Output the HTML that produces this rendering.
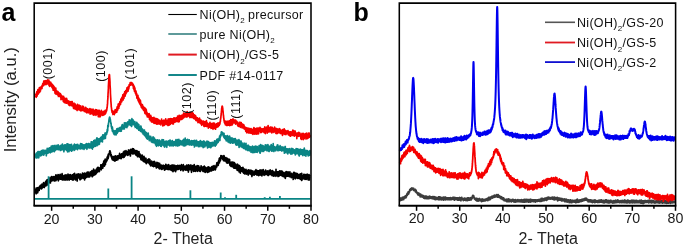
<!DOCTYPE html>
<html><head><meta charset="utf-8"><style>
html,body{margin:0;padding:0;background:#fff;}
body{width:685px;height:247px;overflow:hidden;}
svg{display:block;will-change:transform;font-family:"Liberation Sans",sans-serif;}
</style></head><body>
<svg width="685" height="247" viewBox="0 0 685 247">
<rect width="685" height="247" fill="#fff"/>
<polyline fill="none" stroke="#000" stroke-width="1.7" stroke-linejoin="round" points="35.4,189.3 35.5,192.9 35.6,190.0 35.6,190.7 35.7,190.9 35.8,190.0 35.9,189.1 36.0,191.8 36.0,191.3 36.1,188.2 36.2,193.8 36.3,192.0 36.4,189.6 36.4,191.8 36.5,189.9 36.6,190.4 36.7,191.5 36.8,188.7 36.8,191.1 36.9,192.1 37.0,192.0 37.1,189.7 37.2,191.3 37.2,187.9 37.3,189.8 37.4,190.5 37.5,188.1 37.6,189.7 37.6,192.0 37.7,192.8 37.8,190.7 37.9,190.7 38.0,188.3 38.0,187.9 38.1,187.6 38.2,190.1 38.3,190.3 38.4,188.4 38.4,187.6 38.5,189.5 38.6,189.5 38.7,188.8 38.8,190.6 38.8,188.8 38.9,188.7 39.0,187.3 39.1,188.9 39.2,190.4 39.2,188.7 39.3,188.6 39.4,189.0 39.5,188.8 39.6,189.0 39.6,189.0 39.7,189.0 39.8,187.1 39.9,188.5 40.0,185.9 40.0,188.3 40.1,186.2 40.2,187.7 40.3,188.4 40.4,187.2 40.4,187.8 40.5,185.4 40.6,186.4 40.7,188.4 40.8,185.9 40.8,188.2 40.9,185.4 41.0,186.0 41.1,185.7 41.2,187.1 41.2,187.7 41.3,185.6 41.4,186.7 41.5,189.0 41.6,186.4 41.6,185.7 41.7,187.2 41.8,186.3 41.9,185.6 42.0,184.1 42.0,187.6 42.1,185.6 42.2,186.4 42.3,184.9 42.4,188.0 42.4,187.2 42.5,187.4 42.6,185.9 42.7,186.6 42.8,187.2 42.8,187.3 42.9,186.3 43.0,185.7 43.1,185.3 43.2,184.7 43.2,184.3 43.3,186.1 43.4,185.2 43.5,182.8 43.6,185.2 43.6,186.8 43.7,184.9 43.8,182.7 43.9,185.0 44.0,186.2 44.0,185.3 44.1,184.4 44.2,187.4 44.3,187.5 44.4,184.7 44.4,185.9 44.5,185.3 44.6,185.7 44.7,186.6 44.8,185.7 44.8,184.6 44.9,183.6 45.0,183.3 45.1,184.3 45.2,185.8 45.2,184.6 45.3,184.2 45.4,184.5 45.5,184.1 45.6,184.7 45.6,182.5 45.7,181.3 45.8,183.3 45.9,182.2 46.0,185.8 46.0,183.4 46.1,183.3 46.2,181.5 46.3,183.8 46.4,182.6 46.4,184.8 46.5,184.4 46.6,182.2 46.7,183.7 46.8,180.1 46.8,182.1 46.9,184.6 47.0,183.9 47.1,183.1 47.2,182.7 47.2,180.8 47.3,180.8 47.4,182.9 47.5,184.9 47.6,179.5 47.6,183.2 47.7,183.1 47.8,183.5 47.9,181.0 48.0,181.4 48.0,182.1 48.1,180.6 48.2,180.3 48.3,180.7 48.4,181.7 48.4,182.2 48.5,181.6 48.6,181.7 48.7,180.6 48.8,180.5 48.8,182.9 48.9,181.3 49.0,181.2 49.1,182.4 49.2,182.8 49.2,182.7 49.3,181.5 49.4,180.9 49.5,181.3 49.6,181.1 49.6,182.6 49.7,181.1 49.8,181.5 49.9,180.6 50.0,182.3 50.0,177.8 50.1,180.9 50.2,181.3 50.3,178.8 50.4,183.0 50.4,180.0 50.5,179.9 50.6,178.6 50.7,181.1 50.8,180.2 50.8,179.1 50.9,180.1 51.0,180.6 51.1,181.2 51.2,179.9 51.2,178.3 51.3,178.8 51.4,176.6 51.5,178.5 51.6,180.2 51.6,179.8 51.7,179.1 51.8,178.8 51.9,181.0 52.0,179.4 52.0,180.1 52.1,179.4 52.2,178.2 52.3,180.7 52.4,177.4 52.4,177.4 52.5,178.3 52.6,177.9 52.7,178.0 52.8,177.9 52.8,180.0 52.9,178.7 53.0,179.1 53.1,176.5 53.2,177.4 53.2,179.9 53.3,176.9 53.4,180.0 53.5,177.1 53.6,178.8 53.6,177.3 53.7,178.6 53.8,177.1 53.9,178.0 54.0,180.5 54.0,177.7 54.1,180.9 54.2,177.6 54.3,176.6 54.4,178.2 54.4,177.6 54.5,180.4 54.6,179.2 54.7,179.6 54.8,178.4 54.8,181.0 54.9,179.0 55.0,178.7 55.1,176.9 55.2,176.7 55.2,178.1 55.3,179.2 55.4,179.3 55.5,176.6 55.6,178.5 55.6,178.1 55.7,176.3 55.8,178.4 55.9,174.8 56.0,178.1 56.0,180.7 56.1,176.4 56.2,177.7 56.3,175.2 56.4,176.7 56.4,178.6 56.5,176.3 56.6,177.6 56.7,177.2 56.8,177.1 56.8,177.9 56.9,178.2 57.0,179.2 57.1,178.7 57.2,176.8 57.2,179.5 57.3,179.2 57.4,175.5 57.5,178.4 57.6,178.7 57.6,178.8 57.7,178.3 57.8,175.8 57.9,177.2 58.0,174.7 58.0,177.3 58.1,180.2 58.2,178.4 58.3,178.6 58.4,176.8 58.4,180.8 58.5,176.0 58.6,180.2 58.7,176.4 58.8,176.6 58.8,179.0 58.9,175.2 59.0,175.7 59.1,176.7 59.2,177.3 59.2,177.2 59.3,175.5 59.4,177.7 59.5,177.2 59.6,177.9 59.6,175.9 59.7,177.7 59.8,177.7 59.9,176.5 60.0,177.1 60.0,176.9 60.1,179.2 60.2,174.3 60.3,175.4 60.4,175.1 60.4,176.8 60.5,176.4 60.6,176.8 60.7,178.3 60.8,175.1 60.8,176.2 60.9,177.0 61.0,175.7 61.1,177.8 61.2,177.8 61.2,176.4 61.3,174.9 61.4,179.5 61.5,177.9 61.6,177.9 61.6,177.4 61.7,177.3 61.8,178.4 61.9,177.3 62.0,176.4 62.0,178.2 62.1,173.7 62.2,176.2 62.3,175.1 62.4,178.8 62.4,178.1 62.5,179.9 62.6,176.5 62.7,176.3 62.8,177.3 62.8,179.1 62.9,178.0 63.0,177.8 63.1,179.8 63.2,176.2 63.2,175.6 63.3,176.2 63.4,176.8 63.5,177.7 63.6,178.6 63.6,177.8 63.7,179.3 63.8,176.1 63.9,179.8 64.0,176.1 64.0,178.8 64.1,175.9 64.2,177.7 64.3,177.3 64.4,177.9 64.4,178.2 64.5,176.9 64.6,177.1 64.7,177.5 64.8,178.1 64.8,176.2 64.9,175.0 65.0,177.2 65.1,180.2 65.2,178.2 65.2,176.0 65.3,176.2 65.4,178.5 65.5,176.5 65.6,175.0 65.6,175.8 65.7,175.7 65.8,175.8 65.9,178.1 66.0,177.3 66.0,175.2 66.1,176.4 66.2,175.6 66.3,175.5 66.4,175.1 66.4,179.5 66.5,176.7 66.6,177.9 66.7,178.3 66.8,176.6 66.8,177.9 66.9,177.9 67.0,177.4 67.1,180.1 67.2,177.5 67.2,176.8 67.3,178.0 67.4,179.5 67.5,178.5 67.6,176.5 67.6,176.0 67.7,175.9 67.8,178.0 67.9,177.6 68.0,178.3 68.0,174.1 68.1,177.1 68.2,175.6 68.3,178.0 68.4,178.4 68.4,176.1 68.5,176.5 68.6,175.8 68.7,179.3 68.8,174.9 68.8,175.6 68.9,176.2 69.0,178.8 69.1,180.2 69.2,177.1 69.2,175.4 69.3,177.2 69.4,175.9 69.5,177.7 69.6,175.6 69.6,176.6 69.7,177.1 69.8,177.8 69.9,177.0 70.0,178.8 70.0,177.3 70.1,174.6 70.2,178.3 70.3,176.7 70.4,176.2 70.4,179.1 70.5,175.7 70.6,177.2 70.7,176.1 70.8,178.9 70.8,176.6 70.9,177.4 71.0,175.2 71.1,179.0 71.2,175.6 71.2,178.3 71.3,178.6 71.4,178.7 71.5,179.5 71.6,175.5 71.6,177.6 71.7,177.3 71.8,177.6 71.9,178.5 72.0,177.2 72.0,176.0 72.1,176.9 72.2,179.1 72.3,175.5 72.4,177.2 72.4,175.7 72.5,178.5 72.6,174.8 72.7,176.6 72.8,176.9 72.8,177.2 72.9,180.1 73.0,179.1 73.1,175.7 73.2,179.9 73.2,175.4 73.3,174.5 73.4,175.0 73.5,177.3 73.6,177.7 73.6,174.0 73.7,177.6 73.8,176.7 73.9,178.0 74.0,176.5 74.0,178.2 74.1,177.8 74.2,175.4 74.3,179.0 74.4,177.3 74.4,178.0 74.5,178.7 74.6,173.3 74.7,176.9 74.8,175.9 74.8,175.7 74.9,177.3 75.0,177.4 75.1,178.8 75.2,178.8 75.2,176.9 75.3,175.8 75.4,180.0 75.5,179.8 75.6,176.8 75.6,175.7 75.7,176.4 75.8,177.3 75.9,178.5 76.0,178.2 76.0,177.5 76.1,179.4 76.2,177.1 76.3,176.5 76.4,177.0 76.4,176.8 76.5,177.6 76.6,174.4 76.7,176.4 76.8,176.5 76.8,175.4 76.9,176.6 77.0,175.5 77.1,176.0 77.2,180.9 77.2,176.5 77.3,176.1 77.4,178.3 77.5,177.1 77.6,177.3 77.6,177.1 77.7,175.9 77.8,175.6 77.9,177.9 78.0,176.3 78.0,174.4 78.1,173.8 78.2,177.1 78.3,175.8 78.4,176.7 78.4,176.0 78.5,176.2 78.6,176.5 78.7,175.1 78.8,176.7 78.8,178.0 78.9,177.6 79.0,174.4 79.1,174.9 79.2,174.9 79.2,176.4 79.3,177.8 79.4,177.1 79.5,174.3 79.6,176.7 79.6,177.7 79.7,176.0 79.8,179.2 79.9,175.7 80.0,178.2 80.0,179.7 80.1,174.9 80.2,176.1 80.3,177.3 80.4,179.7 80.4,174.2 80.5,177.3 80.6,176.9 80.7,176.0 80.8,175.4 80.8,175.8 80.9,176.1 81.0,174.8 81.1,178.6 81.2,175.0 81.2,175.9 81.3,175.6 81.4,175.9 81.5,176.6 81.6,175.4 81.6,176.1 81.7,178.7 81.8,177.8 81.9,176.0 82.0,177.6 82.0,175.3 82.1,176.7 82.2,174.4 82.3,174.8 82.4,175.2 82.4,178.0 82.5,173.0 82.6,177.0 82.7,176.5 82.8,176.8 82.8,176.8 82.9,177.3 83.0,176.5 83.1,175.0 83.2,175.1 83.2,177.8 83.3,178.1 83.4,174.3 83.5,174.0 83.6,178.3 83.6,176.6 83.7,176.0 83.8,176.1 83.9,175.6 84.0,178.5 84.0,178.3 84.1,174.6 84.2,175.8 84.3,176.5 84.4,178.1 84.4,173.0 84.5,177.2 84.6,180.0 84.7,175.5 84.8,175.9 84.8,177.6 84.9,176.4 85.0,174.2 85.1,174.4 85.2,174.5 85.2,174.0 85.3,175.8 85.4,175.2 85.5,175.9 85.6,177.6 85.6,178.1 85.7,176.1 85.8,173.3 85.9,177.6 86.0,175.6 86.0,177.2 86.1,175.1 86.2,176.1 86.3,175.5 86.4,175.6 86.4,177.3 86.5,174.7 86.6,175.8 86.7,175.8 86.8,175.5 86.8,176.7 86.9,175.9 87.0,172.4 87.1,173.4 87.2,174.8 87.2,175.9 87.3,176.5 87.4,176.4 87.5,176.1 87.6,174.8 87.6,176.9 87.7,174.9 87.8,176.7 87.9,172.2 88.0,173.9 88.0,174.4 88.1,175.1 88.2,172.0 88.3,176.1 88.4,176.3 88.4,176.1 88.5,174.3 88.6,176.9 88.7,174.2 88.8,176.1 88.8,174.8 88.9,174.8 89.0,174.6 89.1,174.8 89.2,176.3 89.2,176.7 89.3,176.6 89.4,175.9 89.5,175.6 89.6,175.2 89.6,177.0 89.7,174.0 89.8,173.7 89.9,174.6 90.0,172.2 90.0,174.1 90.1,174.4 90.2,173.0 90.3,173.6 90.4,175.3 90.4,174.0 90.5,174.4 90.6,175.7 90.7,173.4 90.8,172.7 90.8,174.1 90.9,174.7 91.0,171.7 91.1,175.0 91.2,173.7 91.2,173.5 91.3,172.9 91.4,173.7 91.5,175.2 91.6,174.6 91.6,175.0 91.7,173.4 91.8,176.0 91.9,175.5 92.0,173.8 92.0,170.7 92.1,173.8 92.2,176.8 92.3,173.6 92.4,172.3 92.4,175.9 92.5,172.8 92.6,174.2 92.7,174.5 92.8,171.5 92.8,173.6 92.9,175.0 93.0,172.9 93.1,171.5 93.2,173.3 93.2,174.6 93.3,175.7 93.4,171.8 93.5,172.8 93.6,173.6 93.6,169.2 93.7,172.0 93.8,172.6 93.9,172.6 94.0,172.1 94.0,173.3 94.1,173.9 94.2,173.8 94.3,173.7 94.4,174.3 94.4,170.9 94.5,172.5 94.6,172.9 94.7,173.3 94.8,170.4 94.8,174.9 94.9,171.3 95.0,172.7 95.1,173.3 95.2,173.7 95.2,171.4 95.3,171.5 95.4,172.6 95.5,172.9 95.6,173.2 95.6,171.9 95.7,171.1 95.8,170.2 95.9,174.1 96.0,170.1 96.0,172.6 96.1,172.0 96.2,172.6 96.3,172.8 96.4,173.2 96.4,171.4 96.5,171.9 96.6,168.8 96.7,171.3 96.8,170.1 96.8,171.0 96.9,172.7 97.0,171.2 97.1,172.4 97.2,170.6 97.2,171.4 97.3,170.2 97.4,167.7 97.5,169.7 97.6,170.2 97.6,170.7 97.7,170.4 97.8,170.2 97.9,171.5 98.0,171.0 98.0,169.6 98.1,171.2 98.2,167.4 98.3,169.6 98.4,169.7 98.4,171.5 98.5,169.0 98.6,167.7 98.7,169.8 98.8,171.7 98.8,169.1 98.9,169.2 99.0,169.0 99.1,169.3 99.2,170.8 99.2,171.6 99.3,169.6 99.4,168.7 99.5,171.2 99.6,168.8 99.6,168.7 99.7,168.1 99.8,168.1 99.9,168.7 100.0,167.9 100.0,168.8 100.1,168.3 100.2,168.8 100.3,167.5 100.4,167.6 100.4,168.2 100.5,167.8 100.6,167.8 100.7,169.1 100.8,166.1 100.8,164.8 100.9,168.3 101.0,166.9 101.1,169.0 101.2,167.0 101.2,165.4 101.3,169.8 101.4,167.3 101.5,166.2 101.6,165.7 101.6,167.3 101.7,165.6 101.8,166.9 101.9,167.8 102.0,164.5 102.0,165.7 102.1,166.6 102.2,168.0 102.3,167.0 102.4,165.2 102.4,167.5 102.5,165.1 102.6,165.3 102.7,165.9 102.8,163.9 102.8,168.1 102.9,166.6 103.0,165.3 103.1,164.1 103.2,163.3 103.2,165.2 103.3,165.5 103.4,163.9 103.5,164.1 103.6,165.0 103.6,164.1 103.7,161.6 103.8,164.8 103.9,164.2 104.0,164.7 104.0,162.6 104.1,160.7 104.2,161.8 104.3,163.7 104.4,165.9 104.4,166.1 104.5,163.4 104.6,160.9 104.7,162.3 104.8,163.2 104.8,163.1 104.9,162.5 105.0,164.1 105.1,161.0 105.2,159.2 105.2,160.8 105.3,160.3 105.4,164.7 105.5,161.4 105.6,159.7 105.6,162.2 105.7,162.6 105.8,161.3 105.9,161.4 106.0,162.3 106.0,161.5 106.1,159.9 106.2,161.4 106.3,161.7 106.4,160.8 106.4,161.3 106.5,160.9 106.6,159.8 106.7,159.8 106.8,160.5 106.8,159.1 106.9,160.8 107.0,160.8 107.1,157.1 107.2,159.1 107.2,158.2 107.3,158.2 107.4,158.8 107.5,158.4 107.6,158.9 107.6,158.5 107.7,158.4 107.8,157.1 107.9,157.4 108.0,158.8 108.0,155.1 108.1,158.7 108.2,156.3 108.3,157.8 108.4,154.2 108.4,155.8 108.5,156.8 108.6,155.9 108.7,156.3 108.8,154.7 108.8,154.7 108.9,154.4 109.0,154.8 109.1,154.5 109.2,153.8 109.2,153.4 109.3,153.0 109.4,152.7 109.5,152.0 109.6,151.8 109.6,151.5 109.7,151.2 109.8,151.0 109.9,151.3 110.0,150.9 110.0,151.2 110.1,151.7 110.2,151.8 110.3,151.9 110.4,152.6 110.4,152.1 110.5,152.5 110.6,153.2 110.7,153.6 110.8,154.0 110.8,155.6 110.9,155.8 111.0,154.9 111.1,155.4 111.2,154.6 111.2,156.0 111.3,155.0 111.4,157.3 111.5,156.2 111.6,157.1 111.6,156.3 111.7,158.0 111.8,157.8 111.9,158.7 112.0,157.8 112.0,156.8 112.1,157.4 112.2,157.0 112.3,159.6 112.4,157.6 112.4,157.5 112.5,159.1 112.6,158.8 112.7,159.1 112.8,158.2 112.8,156.7 112.9,157.5 113.0,156.7 113.1,160.2 113.2,159.8 113.2,158.7 113.3,159.7 113.4,159.7 113.5,159.7 113.6,156.9 113.6,160.0 113.7,159.3 113.8,157.0 113.9,156.8 114.0,160.6 114.0,159.9 114.1,156.5 114.2,159.4 114.3,158.1 114.4,158.5 114.4,156.3 114.5,160.1 114.6,159.0 114.7,160.1 114.8,160.4 114.8,160.7 114.9,161.1 115.0,159.4 115.1,159.3 115.2,158.1 115.2,159.6 115.3,158.6 115.4,157.4 115.5,160.5 115.6,159.8 115.6,155.8 115.7,156.4 115.8,158.5 115.9,159.2 116.0,160.2 116.0,158.9 116.1,159.4 116.2,159.8 116.3,160.2 116.4,158.3 116.4,159.3 116.5,158.8 116.6,159.4 116.7,159.1 116.8,160.1 116.8,159.0 116.9,157.7 117.0,158.4 117.1,156.8 117.2,158.5 117.2,160.0 117.3,157.2 117.4,155.8 117.5,157.8 117.6,157.2 117.6,157.8 117.7,156.9 117.8,157.8 117.9,156.2 118.0,159.6 118.0,157.2 118.1,158.1 118.2,158.4 118.3,157.1 118.4,157.8 118.4,156.9 118.5,156.6 118.6,156.8 118.7,157.6 118.8,155.4 118.8,155.8 118.9,155.9 119.0,156.1 119.1,158.2 119.2,156.7 119.2,156.3 119.3,156.8 119.4,157.9 119.5,155.6 119.6,157.8 119.6,153.4 119.7,155.2 119.8,158.3 119.9,158.4 120.0,156.5 120.0,155.7 120.1,157.3 120.2,155.6 120.3,158.2 120.4,157.6 120.4,157.1 120.5,154.9 120.6,157.2 120.7,155.6 120.8,155.6 120.8,155.3 120.9,155.6 121.0,156.4 121.1,156.8 121.2,156.8 121.2,158.6 121.3,157.8 121.4,157.1 121.5,154.6 121.6,155.2 121.6,153.9 121.7,157.0 121.8,155.7 121.9,155.5 122.0,155.1 122.0,156.5 122.1,154.5 122.2,155.7 122.3,157.2 122.4,154.9 122.4,154.2 122.5,153.7 122.6,156.1 122.7,155.1 122.8,153.9 122.8,153.8 122.9,154.9 123.0,153.5 123.1,157.6 123.2,154.5 123.2,154.5 123.3,154.5 123.4,152.2 123.5,152.6 123.6,154.1 123.6,154.5 123.7,152.8 123.8,156.7 123.9,155.0 124.0,156.1 124.0,155.9 124.1,154.0 124.2,157.2 124.3,154.4 124.4,151.7 124.4,151.0 124.5,154.1 124.6,155.2 124.7,154.1 124.8,156.3 124.8,153.6 124.9,154.7 125.0,154.9 125.1,152.5 125.2,154.2 125.2,154.3 125.3,155.2 125.4,155.3 125.5,155.0 125.6,152.6 125.6,154.6 125.7,155.0 125.8,153.6 125.9,154.5 126.0,150.6 126.0,155.0 126.1,153.5 126.2,154.0 126.3,153.5 126.4,153.3 126.4,152.4 126.5,152.7 126.6,151.7 126.7,152.8 126.8,154.0 126.8,153.8 126.9,154.0 127.0,152.8 127.1,154.7 127.2,152.3 127.2,153.9 127.3,153.4 127.4,151.8 127.5,151.8 127.6,153.7 127.6,152.7 127.7,153.0 127.8,155.5 127.9,153.3 128.0,152.7 128.0,153.5 128.1,151.8 128.2,152.3 128.3,153.1 128.4,151.4 128.4,150.2 128.5,152.2 128.6,153.6 128.7,150.1 128.8,154.6 128.8,152.2 128.9,153.0 129.0,150.9 129.1,150.6 129.2,152.3 129.2,151.8 129.3,153.1 129.4,151.0 129.5,150.9 129.6,152.6 129.6,153.1 129.7,153.4 129.8,152.1 129.9,152.5 130.0,151.0 130.0,153.8 130.1,153.6 130.2,153.5 130.3,149.9 130.4,155.9 130.4,151.0 130.5,151.0 130.6,152.5 130.7,153.6 130.8,149.4 130.8,151.5 130.9,150.6 131.0,150.3 131.1,152.6 131.2,150.7 131.2,152.7 131.3,151.3 131.4,151.1 131.5,153.1 131.6,152.9 131.6,150.5 131.7,151.5 131.8,151.7 131.9,152.6 132.0,150.8 132.0,151.2 132.1,149.1 132.2,152.6 132.3,152.8 132.4,151.0 132.4,153.9 132.5,152.2 132.6,150.6 132.7,149.6 132.8,151.0 132.8,148.5 132.9,151.8 133.0,152.3 133.1,151.6 133.2,152.2 133.2,149.4 133.3,151.2 133.4,152.5 133.5,148.8 133.6,150.5 133.6,152.3 133.7,151.6 133.8,150.8 133.9,151.0 134.0,151.6 134.0,154.0 134.1,151.1 134.2,150.9 134.3,151.9 134.4,152.0 134.4,152.3 134.5,153.3 134.6,151.6 134.7,150.1 134.8,151.8 134.8,151.8 134.9,152.9 135.0,152.8 135.1,151.0 135.2,152.8 135.2,153.1 135.3,151.7 135.4,153.1 135.5,152.2 135.6,152.3 135.6,151.9 135.7,153.1 135.8,155.0 135.9,152.5 136.0,150.9 136.0,152.1 136.1,151.7 136.2,152.9 136.3,152.3 136.4,155.4 136.4,153.6 136.5,155.0 136.6,151.8 136.7,152.5 136.8,155.5 136.8,150.7 136.9,153.1 137.0,151.0 137.1,155.1 137.2,151.3 137.2,152.8 137.3,153.0 137.4,151.1 137.5,156.4 137.6,153.2 137.6,155.7 137.7,152.6 137.8,151.6 137.9,154.0 138.0,154.0 138.0,156.8 138.1,152.4 138.2,151.8 138.3,153.0 138.4,154.4 138.4,154.8 138.5,153.2 138.6,153.7 138.7,154.9 138.8,155.6 138.8,153.6 138.9,154.6 139.0,151.7 139.1,153.4 139.2,155.1 139.2,154.7 139.3,154.5 139.4,156.8 139.5,154.6 139.6,153.7 139.6,155.3 139.7,155.4 139.8,153.8 139.9,156.5 140.0,157.5 140.0,154.7 140.1,154.5 140.2,155.5 140.3,157.3 140.4,155.1 140.4,155.0 140.5,155.2 140.6,156.4 140.7,156.5 140.8,156.0 140.8,157.9 140.9,159.4 141.0,155.8 141.1,158.0 141.2,157.1 141.2,159.8 141.3,155.7 141.4,156.5 141.5,157.2 141.6,155.3 141.6,157.0 141.7,158.3 141.8,155.6 141.9,157.7 142.0,159.9 142.0,157.0 142.1,156.7 142.2,155.0 142.3,157.8 142.4,156.0 142.4,158.8 142.5,160.2 142.6,159.0 142.7,157.4 142.8,159.2 142.8,157.9 142.9,157.2 143.0,158.1 143.1,159.0 143.2,158.4 143.2,159.5 143.3,161.5 143.4,159.7 143.5,160.0 143.6,158.3 143.6,160.8 143.7,159.6 143.8,160.6 143.9,158.3 144.0,159.7 144.0,156.4 144.1,159.0 144.2,158.4 144.3,158.3 144.4,161.9 144.4,157.7 144.5,159.5 144.6,159.6 144.7,160.5 144.8,161.2 144.8,157.8 144.9,159.3 145.0,159.1 145.1,161.0 145.2,161.3 145.2,159.6 145.3,159.5 145.4,158.9 145.5,160.8 145.6,162.5 145.6,160.9 145.7,159.5 145.8,159.4 145.9,159.6 146.0,158.4 146.0,162.9 146.1,160.7 146.2,160.2 146.3,163.7 146.4,161.1 146.4,162.8 146.5,161.2 146.6,162.3 146.7,161.0 146.8,160.5 146.8,161.5 146.9,162.0 147.0,162.5 147.1,162.3 147.2,160.8 147.2,160.7 147.3,161.7 147.4,160.6 147.5,160.9 147.6,162.1 147.6,162.2 147.7,162.1 147.8,160.5 147.9,159.6 148.0,161.9 148.0,161.7 148.1,161.1 148.2,161.9 148.3,162.8 148.4,161.7 148.4,162.3 148.5,160.5 148.6,161.6 148.7,160.8 148.8,160.0 148.8,162.6 148.9,158.9 149.0,162.0 149.1,163.1 149.2,162.7 149.2,160.1 149.3,162.5 149.4,159.8 149.5,161.1 149.6,164.2 149.6,162.6 149.7,164.0 149.8,160.9 149.9,159.7 150.0,161.5 150.0,164.2 150.1,163.8 150.2,164.0 150.3,162.4 150.4,162.6 150.4,162.9 150.5,165.8 150.6,162.9 150.7,165.2 150.8,162.6 150.8,164.8 150.9,161.5 151.0,162.3 151.1,163.5 151.2,162.3 151.2,162.5 151.3,162.9 151.4,162.4 151.5,165.3 151.6,161.1 151.6,161.4 151.7,165.6 151.8,163.3 151.9,163.4 152.0,163.2 152.0,164.6 152.1,164.5 152.2,162.8 152.3,163.7 152.4,161.9 152.4,166.1 152.5,162.5 152.6,162.5 152.7,162.8 152.8,164.0 152.8,164.8 152.9,163.4 153.0,163.9 153.1,163.5 153.2,165.7 153.2,164.3 153.3,161.8 153.4,166.1 153.5,164.6 153.6,166.7 153.6,163.4 153.7,163.6 153.8,164.0 153.9,162.4 154.0,163.8 154.0,166.0 154.1,165.3 154.2,161.3 154.3,166.2 154.4,165.0 154.4,165.6 154.5,164.6 154.6,164.8 154.7,164.7 154.8,164.7 154.8,163.3 154.9,166.1 155.0,162.1 155.1,165.3 155.2,165.3 155.2,164.4 155.3,164.8 155.4,164.0 155.5,165.3 155.6,165.3 155.6,164.7 155.7,163.8 155.8,166.8 155.9,164.9 156.0,165.1 156.0,164.7 156.1,164.4 156.2,164.7 156.3,163.8 156.4,164.5 156.4,168.0 156.5,166.9 156.6,168.0 156.7,164.5 156.8,162.9 156.8,163.6 156.9,162.3 157.0,166.9 157.1,167.2 157.2,165.7 157.2,166.1 157.3,166.1 157.4,165.5 157.5,166.6 157.6,164.3 157.6,165.1 157.7,165.6 157.8,166.4 157.9,164.5 158.0,166.4 158.0,166.3 158.1,162.8 158.2,167.2 158.3,166.4 158.4,167.0 158.4,165.9 158.5,166.8 158.6,164.3 158.7,165.8 158.8,164.7 158.8,165.5 158.9,167.8 159.0,168.4 159.1,166.3 159.2,165.7 159.2,167.1 159.3,166.9 159.4,168.9 159.5,167.2 159.6,163.3 159.6,166.5 159.7,166.0 159.8,165.4 159.9,166.7 160.0,166.6 160.0,166.1 160.1,168.6 160.2,167.1 160.3,167.2 160.4,166.9 160.4,168.3 160.5,165.3 160.6,166.0 160.7,166.5 160.8,168.7 160.8,168.7 160.9,167.5 161.0,166.3 161.1,167.3 161.2,167.4 161.2,165.0 161.3,166.5 161.4,166.1 161.5,168.8 161.6,169.2 161.6,166.1 161.7,166.4 161.8,165.4 161.9,167.4 162.0,168.1 162.0,169.4 162.1,165.5 162.2,168.3 162.3,166.4 162.4,166.2 162.4,166.7 162.5,166.2 162.6,167.8 162.7,166.5 162.8,168.7 162.8,166.5 162.9,166.2 163.0,165.9 163.1,167.2 163.2,165.3 163.2,166.3 163.3,168.0 163.4,165.4 163.5,168.4 163.6,167.7 163.6,166.5 163.7,167.2 163.8,166.6 163.9,166.8 164.0,166.9 164.0,167.4 164.1,167.2 164.2,166.3 164.3,166.0 164.4,170.1 164.4,165.9 164.5,167.2 164.6,169.0 164.7,168.7 164.8,166.4 164.8,170.1 164.9,169.8 165.0,167.0 165.1,165.8 165.2,168.3 165.2,167.2 165.3,167.0 165.4,166.3 165.5,166.6 165.6,167.7 165.6,168.6 165.7,164.7 165.8,164.3 165.9,168.7 166.0,166.3 166.0,168.4 166.1,167.6 166.2,169.1 166.3,168.7 166.4,167.1 166.4,167.3 166.5,167.9 166.6,168.5 166.7,166.7 166.8,165.5 166.8,167.7 166.9,167.5 167.0,167.3 167.1,166.2 167.2,168.3 167.2,165.2 167.3,166.9 167.4,169.3 167.5,166.1 167.6,168.1 167.6,168.2 167.7,168.1 167.8,166.7 167.9,168.9 168.0,167.8 168.0,168.2 168.1,169.5 168.2,167.7 168.3,169.2 168.4,169.5 168.4,165.1 168.5,166.6 168.6,167.4 168.7,164.7 168.8,169.6 168.8,166.6 168.9,168.4 169.0,167.9 169.1,167.3 169.2,166.3 169.2,167.1 169.3,169.3 169.4,168.7 169.5,167.4 169.6,167.1 169.6,167.3 169.7,169.4 169.8,168.0 169.9,166.7 170.0,166.0 170.0,167.1 170.1,166.4 170.2,168.7 170.3,169.5 170.4,168.6 170.4,168.0 170.5,165.5 170.6,170.0 170.7,166.1 170.8,168.3 170.8,167.4 170.9,167.9 171.0,167.8 171.1,167.2 171.2,168.4 171.2,168.0 171.3,168.1 171.4,168.6 171.5,166.4 171.6,166.4 171.6,170.2 171.7,166.5 171.8,167.2 171.9,166.6 172.0,166.9 172.0,166.8 172.1,164.9 172.2,170.7 172.3,166.7 172.4,168.2 172.4,167.6 172.5,169.5 172.6,168.6 172.7,169.2 172.8,169.3 172.8,168.8 172.9,167.7 173.0,171.7 173.1,165.6 173.2,168.9 173.2,168.6 173.3,168.1 173.4,165.9 173.5,169.5 173.6,166.8 173.6,168.5 173.7,165.2 173.8,167.5 173.9,166.8 174.0,166.7 174.0,166.8 174.1,170.1 174.2,170.1 174.3,168.2 174.4,170.6 174.4,165.8 174.5,169.8 174.6,167.2 174.7,166.9 174.8,167.2 174.8,165.3 174.9,165.7 175.0,166.2 175.1,167.0 175.2,168.7 175.2,169.2 175.3,167.2 175.4,168.2 175.5,168.3 175.6,171.7 175.6,168.0 175.7,166.9 175.8,168.5 175.9,167.4 176.0,167.8 176.0,168.1 176.1,167.9 176.2,166.8 176.3,165.9 176.4,167.6 176.4,167.0 176.5,167.0 176.6,167.6 176.7,166.8 176.8,169.8 176.8,168.3 176.9,166.5 177.0,168.2 177.1,166.4 177.2,168.7 177.2,168.6 177.3,166.5 177.4,168.9 177.5,169.1 177.6,168.3 177.6,165.3 177.7,167.9 177.8,168.0 177.9,168.8 178.0,166.4 178.0,168.7 178.1,168.2 178.2,168.3 178.3,166.1 178.4,166.6 178.4,169.3 178.5,168.8 178.6,167.6 178.7,169.2 178.8,168.1 178.8,167.2 178.9,165.6 179.0,169.1 179.1,167.5 179.2,168.0 179.2,165.3 179.3,167.0 179.4,168.1 179.5,167.4 179.6,166.7 179.6,166.2 179.7,168.0 179.8,167.2 179.9,167.3 180.0,167.3 180.0,168.7 180.1,167.3 180.2,166.9 180.3,167.8 180.4,165.9 180.4,166.3 180.5,167.8 180.6,167.5 180.7,167.9 180.8,170.4 180.8,168.7 180.9,169.2 181.0,168.3 181.1,167.6 181.2,166.7 181.2,165.3 181.3,165.9 181.4,164.6 181.5,166.2 181.6,165.6 181.6,166.5 181.7,167.7 181.8,167.2 181.9,168.9 182.0,169.0 182.0,169.1 182.1,168.9 182.2,168.1 182.3,167.1 182.4,168.4 182.4,167.4 182.5,167.5 182.6,168.5 182.7,166.3 182.8,165.6 182.8,168.2 182.9,170.1 183.0,169.3 183.1,170.9 183.2,165.9 183.2,166.9 183.3,164.7 183.4,166.6 183.5,170.3 183.6,169.9 183.6,166.4 183.7,167.4 183.8,166.7 183.9,166.0 184.0,167.5 184.0,167.4 184.1,167.9 184.2,168.1 184.3,168.7 184.4,169.6 184.4,167.7 184.5,167.5 184.6,167.8 184.7,168.4 184.8,167.6 184.8,166.5 184.9,167.1 185.0,168.8 185.1,166.5 185.2,168.9 185.2,166.0 185.3,168.6 185.4,168.6 185.5,167.6 185.6,167.8 185.6,167.5 185.7,170.1 185.8,167.3 185.9,166.9 186.0,168.4 186.0,169.3 186.1,168.3 186.2,167.7 186.3,169.2 186.4,166.9 186.4,166.9 186.5,166.2 186.6,169.5 186.7,165.0 186.8,166.2 186.8,168.2 186.9,168.5 187.0,170.2 187.1,168.5 187.2,167.3 187.2,169.8 187.3,169.4 187.4,169.5 187.5,169.4 187.6,168.6 187.6,166.0 187.7,166.6 187.8,170.6 187.9,168.0 188.0,165.5 188.0,168.1 188.1,169.3 188.2,168.5 188.3,168.0 188.4,164.9 188.4,172.1 188.5,167.8 188.6,170.3 188.7,168.0 188.8,168.0 188.8,167.5 188.9,167.9 189.0,168.4 189.1,167.4 189.2,166.9 189.2,166.4 189.3,168.2 189.4,165.6 189.5,167.7 189.6,166.1 189.6,167.0 189.7,165.6 189.8,169.4 189.9,169.7 190.0,168.7 190.0,168.0 190.1,168.8 190.2,166.2 190.3,166.4 190.4,169.7 190.4,166.8 190.5,168.1 190.6,167.3 190.7,165.1 190.8,167.3 190.8,169.3 190.9,169.9 191.0,165.1 191.1,166.1 191.2,167.4 191.2,169.6 191.3,169.9 191.4,170.4 191.5,172.3 191.6,167.7 191.6,166.9 191.7,169.5 191.8,167.9 191.9,168.3 192.0,167.8 192.0,167.8 192.1,169.5 192.2,167.0 192.3,166.0 192.4,167.4 192.4,168.5 192.5,166.8 192.6,168.2 192.7,165.7 192.8,167.2 192.8,169.8 192.9,168.1 193.0,167.5 193.1,169.9 193.2,167.6 193.2,169.4 193.3,168.7 193.4,168.9 193.5,169.8 193.6,171.4 193.6,170.1 193.7,167.3 193.8,166.9 193.9,168.0 194.0,168.2 194.0,169.4 194.1,168.5 194.2,164.5 194.3,166.2 194.4,168.4 194.4,169.2 194.5,170.8 194.6,169.5 194.7,168.6 194.8,166.9 194.8,168.5 194.9,168.5 195.0,168.3 195.1,168.7 195.2,169.2 195.2,169.1 195.3,171.5 195.4,167.2 195.5,166.4 195.6,169.1 195.6,166.9 195.7,168.3 195.8,168.5 195.9,167.5 196.0,169.6 196.0,169.4 196.1,168.8 196.2,169.4 196.3,169.8 196.4,168.2 196.4,169.4 196.5,168.8 196.6,168.6 196.7,168.0 196.8,171.0 196.8,169.1 196.9,169.2 197.0,169.3 197.1,165.6 197.2,169.8 197.2,169.7 197.3,170.6 197.4,168.9 197.5,167.7 197.6,171.3 197.6,170.1 197.7,170.4 197.8,168.3 197.9,169.5 198.0,167.4 198.0,169.3 198.1,165.9 198.2,167.3 198.3,166.7 198.4,170.2 198.4,170.0 198.5,167.9 198.6,170.4 198.7,168.8 198.8,166.1 198.8,168.2 198.9,166.4 199.0,168.8 199.1,169.2 199.2,167.8 199.2,169.8 199.3,170.2 199.4,167.6 199.5,169.5 199.6,168.6 199.6,168.4 199.7,171.1 199.8,167.8 199.9,168.3 200.0,168.7 200.0,169.6 200.1,169.9 200.2,167.6 200.3,170.7 200.4,171.3 200.4,171.5 200.5,169.1 200.6,168.2 200.7,167.4 200.8,169.3 200.8,168.8 200.9,168.8 201.0,168.0 201.1,165.9 201.2,168.5 201.2,168.7 201.3,168.4 201.4,167.0 201.5,168.5 201.6,168.7 201.6,167.4 201.7,169.8 201.8,168.9 201.9,169.1 202.0,169.5 202.0,168.6 202.1,168.8 202.2,169.7 202.3,170.0 202.4,170.2 202.4,168.7 202.5,170.0 202.6,170.5 202.7,167.1 202.8,168.4 202.8,169.0 202.9,169.0 203.0,171.4 203.1,170.6 203.2,168.8 203.2,168.9 203.3,167.2 203.4,167.7 203.5,170.9 203.6,166.7 203.6,169.9 203.7,168.1 203.8,169.8 203.9,168.9 204.0,171.5 204.0,169.5 204.1,169.8 204.2,170.5 204.3,166.1 204.4,171.6 204.4,166.9 204.5,168.1 204.6,170.0 204.7,167.5 204.8,166.8 204.8,170.7 204.9,168.7 205.0,170.4 205.1,169.8 205.2,172.4 205.2,171.4 205.3,168.8 205.4,171.9 205.5,168.0 205.6,167.8 205.6,168.3 205.7,169.5 205.8,167.7 205.9,169.8 206.0,171.1 206.0,169.5 206.1,170.8 206.2,169.7 206.3,168.4 206.4,168.2 206.4,169.5 206.5,169.3 206.6,168.5 206.7,168.5 206.8,171.2 206.8,170.7 206.9,169.7 207.0,168.8 207.1,168.7 207.2,172.0 207.2,168.3 207.3,172.4 207.4,168.4 207.5,167.3 207.6,172.3 207.6,169.1 207.7,171.3 207.8,169.9 207.9,169.0 208.0,170.5 208.0,168.9 208.1,169.9 208.2,169.1 208.3,166.9 208.4,169.8 208.4,168.6 208.5,169.1 208.6,169.8 208.7,167.4 208.8,170.0 208.8,170.1 208.9,171.9 209.0,170.4 209.1,171.6 209.2,168.4 209.2,169.3 209.3,167.4 209.4,169.8 209.5,169.0 209.6,168.8 209.6,169.3 209.7,169.9 209.8,169.6 209.9,167.8 210.0,171.0 210.0,169.3 210.1,169.7 210.2,168.4 210.3,168.1 210.4,169.6 210.4,168.7 210.5,168.2 210.6,171.0 210.7,170.2 210.8,170.0 210.8,169.4 210.9,168.4 211.0,168.7 211.1,169.0 211.2,167.3 211.2,170.1 211.3,169.2 211.4,167.5 211.5,170.9 211.6,166.9 211.6,167.4 211.7,169.1 211.8,167.9 211.9,169.9 212.0,167.2 212.0,169.5 212.1,169.4 212.2,170.3 212.3,166.4 212.4,167.8 212.4,168.5 212.5,170.0 212.6,168.8 212.7,169.6 212.8,169.8 212.8,167.5 212.9,168.5 213.0,168.1 213.1,168.1 213.2,167.3 213.2,169.4 213.3,168.8 213.4,166.0 213.5,169.3 213.6,170.1 213.6,166.4 213.7,169.8 213.8,168.2 213.9,168.6 214.0,168.0 214.0,168.1 214.1,165.7 214.2,169.0 214.3,167.0 214.4,168.0 214.4,167.8 214.5,166.6 214.6,166.2 214.7,167.6 214.8,169.4 214.8,166.9 214.9,166.9 215.0,167.7 215.1,166.9 215.2,169.0 215.2,168.0 215.3,169.9 215.4,167.6 215.5,169.5 215.6,166.7 215.6,167.4 215.7,166.2 215.8,166.7 215.9,166.7 216.0,167.4 216.0,168.0 216.1,166.4 216.2,165.1 216.3,166.4 216.4,166.1 216.4,165.7 216.5,166.9 216.6,167.1 216.7,165.0 216.8,164.9 216.8,162.9 216.9,164.6 217.0,166.2 217.1,164.0 217.2,166.0 217.2,165.6 217.3,165.3 217.4,165.2 217.5,164.2 217.6,165.4 217.6,165.3 217.7,164.2 217.8,163.6 217.9,165.1 218.0,165.2 218.0,162.4 218.1,164.0 218.2,162.9 218.3,165.3 218.4,162.2 218.4,161.7 218.5,161.2 218.6,163.1 218.7,160.8 218.8,162.5 218.8,161.1 218.9,162.9 219.0,163.0 219.1,162.4 219.2,159.1 219.2,159.5 219.3,158.4 219.4,163.0 219.5,159.8 219.6,159.8 219.6,160.1 219.7,160.6 219.8,159.3 219.9,159.6 220.0,159.3 220.0,157.7 220.1,161.1 220.2,160.7 220.3,158.7 220.4,158.4 220.4,160.1 220.5,160.3 220.6,158.1 220.7,158.4 220.8,157.4 220.8,157.9 220.9,155.6 221.0,155.6 221.1,157.6 221.2,157.0 221.2,157.4 221.3,157.1 221.4,157.4 221.5,157.1 221.6,156.7 221.6,157.2 221.7,156.3 221.8,158.0 221.9,156.0 222.0,156.5 222.0,157.8 222.1,156.6 222.2,157.9 222.3,158.5 222.4,157.9 222.4,156.6 222.5,159.2 222.6,157.7 222.7,156.2 222.8,159.5 222.8,157.6 222.9,158.1 223.0,158.5 223.1,157.0 223.2,158.7 223.2,156.2 223.3,156.6 223.4,157.4 223.5,160.6 223.6,158.7 223.6,159.5 223.7,157.6 223.8,158.9 223.9,155.6 224.0,158.1 224.0,159.1 224.1,157.8 224.2,156.1 224.3,156.6 224.4,159.6 224.4,160.6 224.5,158.5 224.6,161.0 224.7,157.5 224.8,159.9 224.8,159.6 224.9,160.6 225.0,157.6 225.1,160.6 225.2,159.6 225.2,158.5 225.3,159.1 225.4,159.4 225.5,160.1 225.6,158.7 225.6,158.7 225.7,160.0 225.8,159.9 225.9,160.7 226.0,161.3 226.0,157.6 226.1,160.1 226.2,160.6 226.3,160.4 226.4,158.9 226.4,161.4 226.5,162.8 226.6,160.3 226.7,159.5 226.8,161.7 226.8,160.7 226.9,160.9 227.0,161.1 227.1,160.2 227.2,160.9 227.2,160.0 227.3,158.4 227.4,162.5 227.5,161.5 227.6,161.1 227.6,163.1 227.7,161.1 227.8,162.9 227.9,162.5 228.0,161.1 228.0,159.9 228.1,162.2 228.2,161.9 228.3,163.0 228.4,159.7 228.4,161.6 228.5,162.2 228.6,162.4 228.7,162.1 228.8,162.4 228.8,159.0 228.9,161.7 229.0,161.3 229.1,160.2 229.2,162.4 229.2,161.8 229.3,160.9 229.4,160.6 229.5,162.9 229.6,159.5 229.6,162.5 229.7,161.2 229.8,162.9 229.9,165.3 230.0,164.2 230.0,162.8 230.1,164.9 230.2,165.5 230.3,164.3 230.4,165.5 230.4,163.4 230.5,164.0 230.6,163.1 230.7,162.7 230.8,163.3 230.8,162.3 230.9,163.3 231.0,166.4 231.1,164.5 231.2,163.3 231.2,165.9 231.3,165.6 231.4,162.2 231.5,162.8 231.6,163.8 231.6,163.9 231.7,164.1 231.8,163.2 231.9,162.5 232.0,165.6 232.0,162.9 232.1,164.8 232.2,166.7 232.3,164.9 232.4,163.9 232.4,165.1 232.5,165.1 232.6,163.7 232.7,164.8 232.8,162.8 232.8,162.1 232.9,163.8 233.0,162.2 233.1,163.8 233.2,164.5 233.2,164.9 233.3,167.3 233.4,163.5 233.5,164.2 233.6,164.2 233.6,163.5 233.7,167.7 233.8,163.9 233.9,164.7 234.0,164.8 234.0,168.2 234.1,164.8 234.2,164.2 234.3,166.9 234.4,164.4 234.4,162.5 234.5,166.9 234.6,166.7 234.7,163.6 234.8,163.9 234.8,165.5 234.9,164.3 235.0,163.6 235.1,164.1 235.2,168.2 235.2,167.2 235.3,164.4 235.4,165.7 235.5,166.1 235.6,165.5 235.6,166.0 235.7,168.4 235.8,165.3 235.9,165.1 236.0,166.2 236.0,165.4 236.1,165.7 236.2,165.8 236.3,165.1 236.4,168.1 236.4,165.6 236.5,168.4 236.6,165.4 236.7,165.4 236.8,167.1 236.8,166.4 236.9,168.0 237.0,167.8 237.1,170.1 237.2,164.0 237.2,165.6 237.3,167.0 237.4,166.8 237.5,167.1 237.6,170.4 237.6,164.3 237.7,168.3 237.8,167.1 237.9,167.5 238.0,169.0 238.0,167.5 238.1,168.7 238.2,169.4 238.3,169.3 238.4,165.2 238.4,166.9 238.5,166.1 238.6,166.8 238.7,167.7 238.8,170.8 238.8,167.2 238.9,167.7 239.0,167.9 239.1,172.0 239.2,167.5 239.2,168.9 239.3,169.4 239.4,169.1 239.5,165.7 239.6,166.7 239.6,169.4 239.7,166.1 239.8,168.3 239.9,166.6 240.0,169.2 240.0,168.6 240.1,166.6 240.2,168.4 240.3,167.3 240.4,168.1 240.4,173.1 240.5,169.3 240.6,169.4 240.7,171.1 240.8,169.2 240.8,170.9 240.9,169.7 241.0,169.5 241.1,168.7 241.2,168.1 241.2,167.9 241.3,168.1 241.4,170.1 241.5,170.0 241.6,168.3 241.6,171.2 241.7,168.7 241.8,169.1 241.9,167.8 242.0,168.5 242.0,170.9 242.1,170.4 242.2,168.9 242.3,171.5 242.4,169.8 242.4,170.0 242.5,171.4 242.6,170.6 242.7,169.6 242.8,168.7 242.8,171.9 242.9,167.3 243.0,169.4 243.1,167.9 243.2,169.5 243.2,171.5 243.3,169.9 243.4,169.8 243.5,170.4 243.6,173.1 243.6,172.3 243.7,170.9 243.8,169.7 243.9,170.1 244.0,171.1 244.0,170.4 244.1,170.6 244.2,169.4 244.3,169.0 244.4,169.4 244.4,171.2 244.5,169.7 244.6,174.0 244.7,171.7 244.8,171.9 244.8,172.3 244.9,169.7 245.0,169.6 245.1,170.8 245.2,171.9 245.2,171.9 245.3,173.4 245.4,173.1 245.5,172.7 245.6,172.8 245.6,171.7 245.7,172.5 245.8,171.1 245.9,170.9 246.0,172.7 246.0,169.3 246.1,173.4 246.2,174.1 246.3,171.0 246.4,172.7 246.4,171.9 246.5,170.4 246.6,172.2 246.7,172.5 246.8,173.1 246.8,171.3 246.9,173.1 247.0,171.0 247.1,173.2 247.2,171.7 247.2,173.1 247.3,171.0 247.4,172.1 247.5,170.7 247.6,171.0 247.6,173.5 247.7,171.8 247.8,171.9 247.9,173.0 248.0,171.0 248.0,174.7 248.1,173.3 248.2,171.6 248.3,175.1 248.4,169.8 248.4,174.5 248.5,172.7 248.6,172.9 248.7,170.8 248.8,171.7 248.8,170.5 248.9,173.6 249.0,171.9 249.1,171.4 249.2,171.6 249.2,172.1 249.3,173.6 249.4,172.8 249.5,171.3 249.6,171.2 249.6,171.0 249.7,173.4 249.8,173.0 249.9,170.9 250.0,170.2 250.0,172.3 250.1,171.7 250.2,173.1 250.3,172.3 250.4,173.0 250.4,173.6 250.5,173.9 250.6,172.2 250.7,173.5 250.8,171.7 250.8,170.9 250.9,172.8 251.0,174.1 251.1,174.4 251.2,172.5 251.2,170.3 251.3,173.0 251.4,172.3 251.5,173.4 251.6,174.0 251.6,172.0 251.7,171.7 251.8,172.1 251.9,176.6 252.0,171.3 252.0,172.9 252.1,171.7 252.2,172.3 252.3,172.2 252.4,171.9 252.4,173.5 252.5,172.1 252.6,172.6 252.7,173.8 252.8,172.5 252.8,170.8 252.9,172.1 253.0,172.1 253.1,173.6 253.2,174.9 253.2,173.0 253.3,172.6 253.4,174.7 253.5,171.8 253.6,173.1 253.6,173.4 253.7,172.7 253.8,172.5 253.9,173.0 254.0,174.8 254.0,173.5 254.1,172.0 254.2,173.1 254.3,174.0 254.4,175.1 254.4,173.8 254.5,173.0 254.6,174.6 254.7,174.0 254.8,173.0 254.8,171.9 254.9,172.9 255.0,174.1 255.1,171.3 255.2,170.6 255.2,173.5 255.3,170.7 255.4,171.0 255.5,172.5 255.6,172.5 255.6,172.9 255.7,173.0 255.8,173.5 255.9,172.6 256.0,171.7 256.0,169.7 256.1,174.4 256.2,173.8 256.3,173.6 256.4,172.7 256.4,171.6 256.5,173.4 256.6,172.7 256.7,170.9 256.8,174.1 256.8,170.9 256.9,172.2 257.0,175.1 257.1,171.7 257.2,173.0 257.2,174.2 257.3,172.8 257.4,170.9 257.5,172.1 257.6,172.7 257.6,170.7 257.7,174.7 257.8,173.2 257.9,173.7 258.0,173.1 258.0,173.3 258.1,172.3 258.2,170.8 258.3,173.6 258.4,172.8 258.4,174.9 258.5,172.2 258.6,173.0 258.7,175.7 258.8,170.9 258.8,171.2 258.9,173.1 259.0,175.0 259.1,171.1 259.2,172.8 259.2,172.5 259.3,172.0 259.4,172.4 259.5,174.4 259.6,172.9 259.6,171.0 259.7,171.9 259.8,172.9 259.9,170.8 260.0,171.8 260.0,172.2 260.1,169.9 260.2,175.2 260.3,170.6 260.4,172.8 260.4,172.5 260.5,171.9 260.6,174.4 260.7,172.8 260.8,171.6 260.8,174.3 260.9,173.5 261.0,171.3 261.1,170.7 261.2,173.9 261.2,172.5 261.3,170.8 261.4,173.5 261.5,170.8 261.6,171.8 261.6,171.6 261.7,170.1 261.8,173.7 261.9,176.0 262.0,173.6 262.0,173.3 262.1,172.4 262.2,172.7 262.3,173.1 262.4,173.6 262.4,172.1 262.5,172.8 262.6,172.5 262.7,173.5 262.8,174.0 262.8,174.3 262.9,172.2 263.0,172.1 263.1,173.7 263.2,172.5 263.2,169.6 263.3,173.4 263.4,173.3 263.5,174.6 263.6,171.2 263.6,174.4 263.7,172.2 263.8,173.8 263.9,171.1 264.0,172.7 264.0,172.0 264.1,175.3 264.2,171.6 264.3,174.4 264.4,171.8 264.4,171.4 264.5,173.3 264.6,174.3 264.7,172.8 264.8,173.7 264.8,173.2 264.9,172.8 265.0,174.8 265.1,172.9 265.2,174.1 265.2,171.3 265.3,172.6 265.4,174.2 265.5,172.3 265.6,170.0 265.6,173.9 265.7,173.7 265.8,172.5 265.9,173.1 266.0,172.5 266.0,173.5 266.1,174.4 266.2,173.4 266.3,172.8 266.4,172.3 266.4,172.7 266.5,172.3 266.6,174.3 266.7,171.5 266.8,172.2 266.8,173.4 266.9,173.4 267.0,173.3 267.1,172.4 267.2,173.2 267.2,171.0 267.3,170.9 267.4,171.2 267.5,173.5 267.6,174.8 267.6,172.4 267.7,172.2 267.8,172.6 267.9,175.4 268.0,173.3 268.0,173.1 268.1,172.2 268.2,173.7 268.3,174.8 268.4,173.3 268.4,171.9 268.5,174.8 268.6,173.0 268.7,175.4 268.8,171.6 268.8,172.8 268.9,173.4 269.0,170.7 269.1,173.2 269.2,173.9 269.2,172.9 269.3,173.6 269.4,173.3 269.5,171.9 269.6,174.0 269.6,172.0 269.7,172.6 269.8,172.0 269.9,171.8 270.0,172.4 270.0,172.4 270.1,170.1 270.2,172.7 270.3,174.4 270.4,170.2 270.4,173.5 270.5,173.0 270.6,170.7 270.7,172.5 270.8,174.3 270.8,173.0 270.9,173.5 271.0,174.5 271.1,172.6 271.2,174.2 271.2,171.4 271.3,171.9 271.4,175.0 271.5,174.9 271.6,174.3 271.6,171.1 271.7,172.8 271.8,171.9 271.9,175.6 272.0,171.3 272.0,171.4 272.1,172.3 272.2,173.5 272.3,172.3 272.4,172.7 272.4,173.5 272.5,173.2 272.6,170.6 272.7,171.5 272.8,175.3 272.8,173.2 272.9,175.6 273.0,174.8 273.1,174.7 273.2,173.3 273.2,175.2 273.3,172.6 273.4,176.2 273.5,174.0 273.6,174.0 273.6,172.7 273.7,172.5 273.8,172.9 273.9,172.6 274.0,172.1 274.0,171.9 274.1,173.6 274.2,174.9 274.3,176.0 274.4,174.4 274.4,173.2 274.5,174.2 274.6,175.7 274.7,173.6 274.8,174.8 274.8,173.9 274.9,173.6 275.0,172.7 275.1,174.4 275.2,172.4 275.2,172.1 275.3,173.9 275.4,174.8 275.5,174.7 275.6,174.6 275.6,173.1 275.7,173.3 275.8,175.0 275.9,176.3 276.0,169.3 276.0,175.2 276.1,173.8 276.2,173.5 276.3,172.6 276.4,172.7 276.4,172.0 276.5,173.9 276.6,172.3 276.7,173.3 276.8,171.6 276.8,175.2 276.9,174.5 277.0,172.1 277.1,174.2 277.2,173.1 277.2,172.5 277.3,173.7 277.4,174.8 277.5,175.7 277.6,174.0 277.6,175.2 277.7,174.6 277.8,174.6 277.9,175.0 278.0,171.9 278.0,176.4 278.1,174.9 278.2,171.9 278.3,172.6 278.4,176.3 278.4,172.4 278.5,173.9 278.6,174.1 278.7,173.4 278.8,175.0 278.8,174.9 278.9,172.8 279.0,176.1 279.1,172.7 279.2,173.2 279.2,173.6 279.3,174.1 279.4,172.3 279.5,174.1 279.6,170.9 279.6,173.1 279.7,172.6 279.8,172.9 279.9,173.7 280.0,174.1 280.0,172.8 280.1,173.8 280.2,171.8 280.3,173.3 280.4,175.1 280.4,172.9 280.5,173.4 280.6,173.8 280.7,174.9 280.8,174.4 280.8,173.6 280.9,172.5 281.0,174.2 281.1,170.8 281.2,174.5 281.2,172.9 281.3,174.8 281.4,173.8 281.5,175.7 281.6,173.1 281.6,171.3 281.7,174.0 281.8,173.3 281.9,173.8 282.0,175.6 282.0,172.8 282.1,174.9 282.2,175.2 282.3,175.4 282.4,171.4 282.4,174.2 282.5,173.1 282.6,173.8 282.7,173.0 282.8,173.6 282.8,175.3 282.9,176.4 283.0,175.0 283.1,172.5 283.2,175.8 283.2,172.5 283.3,173.7 283.4,175.7 283.5,173.4 283.6,175.1 283.6,173.8 283.7,172.7 283.8,174.5 283.9,173.5 284.0,176.6 284.0,176.7 284.1,176.3 284.2,172.9 284.3,176.8 284.4,174.7 284.4,175.0 284.5,174.6 284.6,173.6 284.7,174.5 284.8,175.5 284.8,176.4 284.9,175.1 285.0,174.4 285.1,173.7 285.2,174.0 285.2,176.6 285.3,178.5 285.4,174.7 285.5,172.2 285.6,172.1 285.6,175.3 285.7,175.3 285.8,175.9 285.9,174.7 286.0,173.6 286.0,172.2 286.1,173.3 286.2,171.5 286.3,174.9 286.4,175.2 286.4,176.4 286.5,172.1 286.6,172.7 286.7,175.4 286.8,175.0 286.8,171.9 286.9,173.6 287.0,174.7 287.1,174.1 287.2,175.1 287.2,174.7 287.3,173.9 287.4,175.1 287.5,174.5 287.6,176.2 287.6,172.7 287.7,174.3 287.8,173.8 287.9,175.6 288.0,175.2 288.0,175.6 288.1,171.8 288.2,176.3 288.3,175.4 288.4,175.4 288.4,174.8 288.5,176.0 288.6,175.3 288.7,172.4 288.8,173.9 288.8,174.4 288.9,174.3 289.0,174.2 289.1,175.6 289.2,173.3 289.2,173.8 289.3,173.5 289.4,173.4 289.5,175.5 289.6,173.7 289.6,175.4 289.7,174.2 289.8,176.8 289.9,171.9 290.0,174.9 290.0,176.5 290.1,174.4 290.2,173.5 290.3,173.8 290.4,175.7 290.4,174.3 290.5,176.4 290.6,175.1 290.7,174.3 290.8,174.4 290.8,175.7 290.9,176.4 291.0,174.0 291.1,173.5 291.2,173.5 291.2,175.7 291.3,177.6 291.4,174.4 291.5,176.1 291.6,174.6 291.6,177.3 291.7,175.5 291.8,176.0 291.9,173.4 292.0,174.6 292.0,175.7 292.1,174.9 292.2,175.2 292.3,176.0 292.4,175.5 292.4,177.3 292.5,176.3 292.6,174.2 292.7,175.2 292.8,174.6 292.8,174.8 292.9,177.8 293.0,174.3 293.1,177.1 293.2,177.4 293.2,179.5 293.3,175.4 293.4,175.8 293.5,175.8 293.6,174.9 293.6,177.9 293.7,178.1 293.8,172.4 293.9,175.1 294.0,177.1 294.0,174.1 294.1,174.6 294.2,175.6 294.3,175.5 294.4,175.3 294.4,175.4 294.5,178.0 294.6,172.5 294.7,174.9 294.8,174.0 294.8,175.9 294.9,175.0 295.0,176.3 295.1,175.6 295.2,178.8 295.2,173.9 295.3,175.0 295.4,176.9 295.5,175.2 295.6,175.9 295.6,173.6 295.7,176.7 295.8,175.5 295.9,176.5 296.0,174.5 296.0,175.0 296.1,174.6 296.2,178.0 296.3,173.4 296.4,176.4 296.4,176.1 296.5,177.4 296.6,176.2 296.7,174.4 296.8,176.5 296.8,173.5 296.9,177.3 297.0,175.7 297.1,174.8 297.2,175.2 297.2,176.7 297.3,173.6 297.4,178.2 297.5,174.9 297.6,178.0 297.6,176.1 297.7,178.5 297.8,174.3 297.9,177.1 298.0,175.9 298.0,175.1 298.1,177.1 298.2,175.7 298.3,175.0 298.4,175.7 298.4,174.9 298.5,175.7 298.6,176.0 298.7,177.5 298.8,175.9 298.8,175.0 298.9,177.1 299.0,175.6 299.1,174.7 299.2,174.4 299.2,178.5 299.3,175.9 299.4,178.3 299.5,174.8 299.6,174.7 299.6,178.5 299.7,175.8 299.8,175.9 299.9,175.8 300.0,174.7 300.0,177.6 300.1,174.5 300.2,177.2 300.3,174.7 300.4,179.4 300.4,175.5 300.5,177.7 300.6,173.9 300.7,176.7 300.8,175.4 300.8,175.1 300.9,175.1 301.0,177.4 301.1,176.3 301.2,175.6 301.2,175.5 301.3,175.4 301.4,175.6 301.5,175.9 301.6,174.7 301.6,175.2 301.7,173.3 301.8,180.4 301.9,177.1 302.0,175.7 302.0,178.2 302.1,175.3 302.2,176.4 302.3,177.9 302.4,176.7 302.4,175.3 302.5,176.9 302.6,175.9 302.7,177.9 302.8,177.5 302.8,176.1 302.9,177.1 303.0,178.8 303.1,178.0 303.2,177.6 303.2,176.2 303.3,175.7 303.4,175.4 303.5,177.9 303.6,175.0 303.6,177.0 303.7,178.7 303.8,174.3 303.9,177.0 304.0,175.2 304.0,176.3 304.1,177.2 304.2,175.2 304.3,174.7 304.4,176.0 304.4,176.8 304.5,176.0 304.6,175.3 304.7,177.5 304.8,175.0 304.8,174.6 304.9,176.7 305.0,179.5 305.1,175.9 305.2,176.5 305.2,175.2 305.3,175.8 305.4,175.1 305.5,177.0 305.6,175.7 305.6,175.6 305.7,177.9 305.8,174.7 305.9,177.9 306.0,176.4 306.0,175.4 306.1,176.6 306.2,176.3 306.3,177.1 306.4,176.4 306.4,179.3 306.5,178.1 306.6,178.2 306.7,175.1 306.8,176.2 306.8,178.3 306.9,177.5 307.0,176.8 307.1,176.6 307.2,178.2 307.2,174.2 307.3,175.6 307.4,174.9 307.5,178.3 307.6,174.9 307.6,176.4 307.7,178.6 307.8,176.4 307.9,177.2 308.0,176.8 308.0,177.7 308.1,179.8 308.2,175.2 308.3,176.8 308.4,179.1 308.4,180.0 308.5,176.5 308.6,178.7 308.7,177.8 308.8,177.7 308.8,174.9 308.9,174.6 309.0,177.1 309.1,176.7 309.2,176.7 309.2,175.3 309.3,178.9 309.4,176.6 309.5,180.0 309.6,176.6 309.6,177.4 309.7,177.9 309.8,176.4 309.9,175.6 310.0,176.2"/>
<polyline fill="none" stroke="#0a8585" stroke-width="1.7" stroke-linejoin="round" points="35.4,155.7 35.5,156.2 35.6,154.0 35.6,156.0 35.7,156.6 35.8,155.6 35.9,157.8 36.0,157.4 36.0,155.3 36.1,155.8 36.2,156.9 36.3,156.4 36.4,155.3 36.4,153.0 36.5,157.7 36.6,155.7 36.7,155.9 36.8,154.6 36.8,157.8 36.9,155.4 37.0,155.7 37.1,152.5 37.2,154.7 37.2,155.3 37.3,155.9 37.4,156.3 37.5,154.9 37.6,156.7 37.6,155.0 37.7,154.9 37.8,155.1 37.9,152.6 38.0,151.7 38.0,157.6 38.1,152.3 38.2,154.0 38.3,155.7 38.4,153.8 38.4,156.4 38.5,151.8 38.6,154.8 38.7,155.5 38.8,157.8 38.8,156.7 38.9,151.6 39.0,155.7 39.1,154.8 39.2,152.6 39.2,153.6 39.3,155.9 39.4,153.8 39.5,152.8 39.6,153.3 39.6,152.3 39.7,151.8 39.8,154.6 39.9,154.7 40.0,155.5 40.0,151.7 40.1,152.3 40.2,154.5 40.3,154.1 40.4,153.5 40.4,152.0 40.5,153.3 40.6,151.6 40.7,155.9 40.8,154.6 40.8,152.1 40.9,155.4 41.0,152.0 41.1,154.3 41.2,153.7 41.2,152.8 41.3,155.4 41.4,150.9 41.5,152.8 41.6,152.8 41.6,150.6 41.7,151.0 41.8,153.4 41.9,153.5 42.0,151.6 42.0,153.9 42.1,153.7 42.2,154.2 42.3,152.6 42.4,150.5 42.4,153.8 42.5,152.1 42.6,151.6 42.7,151.1 42.8,153.6 42.8,154.7 42.9,150.1 43.0,152.3 43.1,153.8 43.2,154.9 43.2,153.1 43.3,151.5 43.4,153.7 43.5,155.0 43.6,153.2 43.6,153.7 43.7,155.2 43.8,150.4 43.9,153.8 44.0,154.7 44.0,154.0 44.1,152.8 44.2,152.0 44.3,151.7 44.4,150.6 44.4,151.7 44.5,150.7 44.6,152.2 44.7,152.0 44.8,151.4 44.8,151.7 44.9,152.3 45.0,150.4 45.1,153.1 45.2,152.4 45.2,152.9 45.3,151.6 45.4,151.7 45.5,152.2 45.6,152.1 45.6,151.4 45.7,151.4 45.8,151.1 45.9,151.3 46.0,150.7 46.0,150.6 46.1,150.3 46.2,153.6 46.3,155.8 46.4,151.5 46.4,150.2 46.5,151.7 46.6,153.2 46.7,150.4 46.8,151.6 46.8,151.3 46.9,152.6 47.0,151.2 47.1,151.1 47.2,150.9 47.2,148.4 47.3,152.6 47.4,153.4 47.5,149.9 47.6,152.3 47.6,151.0 47.7,153.0 47.8,150.2 47.9,151.5 48.0,152.7 48.0,151.6 48.1,151.1 48.2,150.7 48.3,149.8 48.4,150.9 48.4,149.3 48.5,153.0 48.6,151.4 48.7,150.3 48.8,148.4 48.8,152.0 48.9,152.3 49.0,151.0 49.1,151.6 49.2,151.5 49.2,150.2 49.3,149.9 49.4,150.4 49.5,151.9 49.6,149.3 49.6,147.9 49.7,150.2 49.8,150.2 49.9,149.8 50.0,150.2 50.0,148.3 50.1,148.7 50.2,149.3 50.3,152.8 50.4,148.4 50.4,150.7 50.5,149.9 50.6,149.4 50.7,148.2 50.8,148.9 50.8,147.4 50.9,148.5 51.0,150.0 51.1,150.1 51.2,148.0 51.2,150.8 51.3,146.1 51.4,149.9 51.5,149.2 51.6,149.0 51.6,146.7 51.7,148.6 51.8,152.1 51.9,148.4 52.0,148.6 52.0,149.4 52.1,146.3 52.2,148.8 52.3,147.0 52.4,150.8 52.4,148.2 52.5,148.7 52.6,146.4 52.7,151.4 52.8,146.4 52.8,146.8 52.9,147.8 53.0,145.6 53.1,146.9 53.2,148.1 53.2,150.2 53.3,150.2 53.4,147.0 53.5,147.8 53.6,149.5 53.6,150.2 53.7,147.4 53.8,148.2 53.9,150.5 54.0,148.7 54.0,148.2 54.1,151.0 54.2,148.2 54.3,150.1 54.4,149.2 54.4,151.7 54.5,150.5 54.6,145.7 54.7,149.3 54.8,145.5 54.8,150.3 54.9,148.0 55.0,145.4 55.1,146.9 55.2,147.8 55.2,150.4 55.3,148.4 55.4,149.0 55.5,147.3 55.6,147.6 55.6,146.1 55.7,147.6 55.8,147.8 55.9,148.0 56.0,146.9 56.0,147.8 56.1,147.4 56.2,148.4 56.3,147.1 56.4,147.1 56.4,146.7 56.5,147.0 56.6,147.5 56.7,146.4 56.8,149.7 56.8,149.3 56.9,145.3 57.0,148.9 57.1,146.1 57.2,146.9 57.2,147.2 57.3,148.2 57.4,149.0 57.5,149.0 57.6,149.1 57.6,147.7 57.7,149.4 57.8,147.4 57.9,148.4 58.0,145.3 58.0,147.8 58.1,147.4 58.2,144.9 58.3,148.9 58.4,149.7 58.4,148.9 58.5,147.2 58.6,147.5 58.7,146.7 58.8,148.5 58.8,148.3 58.9,149.7 59.0,147.6 59.1,149.0 59.2,147.3 59.2,146.6 59.3,147.6 59.4,146.4 59.5,146.4 59.6,148.7 59.6,148.6 59.7,146.4 59.8,146.3 59.9,147.3 60.0,146.5 60.0,148.5 60.1,147.0 60.2,145.6 60.3,146.3 60.4,148.1 60.4,150.4 60.5,148.2 60.6,145.5 60.7,146.1 60.8,147.7 60.8,147.2 60.9,147.6 61.0,150.3 61.1,145.9 61.2,146.0 61.2,147.3 61.3,147.4 61.4,147.7 61.5,148.5 61.6,147.3 61.6,148.9 61.7,147.6 61.8,147.9 61.9,144.9 62.0,146.1 62.0,146.8 62.1,148.2 62.2,146.4 62.3,145.9 62.4,144.1 62.4,149.7 62.5,145.2 62.6,147.6 62.7,147.4 62.8,149.3 62.8,148.3 62.9,146.8 63.0,148.5 63.1,149.1 63.2,146.8 63.2,148.1 63.3,145.6 63.4,147.4 63.5,145.8 63.6,147.5 63.6,148.9 63.7,147.6 63.8,150.4 63.9,151.8 64.0,145.5 64.0,147.6 64.1,148.7 64.2,145.3 64.3,147.9 64.4,149.7 64.4,147.6 64.5,149.9 64.6,145.1 64.7,148.1 64.8,144.9 64.8,144.8 64.9,145.2 65.0,148.8 65.1,147.7 65.2,149.3 65.2,146.0 65.3,144.8 65.4,148.5 65.5,146.2 65.6,145.1 65.6,148.4 65.7,148.7 65.8,146.1 65.9,147.5 66.0,148.0 66.0,145.9 66.1,146.1 66.2,147.6 66.3,148.6 66.4,147.8 66.4,148.4 66.5,150.4 66.6,147.5 66.7,147.0 66.8,146.0 66.8,148.2 66.9,147.1 67.0,143.8 67.1,147.7 67.2,146.1 67.2,147.1 67.3,150.2 67.4,147.8 67.5,144.2 67.6,146.6 67.6,151.8 67.7,148.7 67.8,143.8 67.9,148.1 68.0,147.3 68.0,146.7 68.1,147.9 68.2,149.9 68.3,144.5 68.4,146.5 68.4,147.2 68.5,147.3 68.6,146.9 68.7,148.0 68.8,147.5 68.8,146.7 68.9,144.5 69.0,151.7 69.1,149.5 69.2,149.1 69.2,148.0 69.3,149.1 69.4,145.2 69.5,148.6 69.6,147.9 69.6,147.3 69.7,149.1 69.8,147.1 69.9,146.8 70.0,145.9 70.0,144.7 70.1,146.7 70.2,150.0 70.3,150.1 70.4,146.5 70.4,145.2 70.5,149.7 70.6,145.9 70.7,146.7 70.8,145.3 70.8,149.8 70.9,146.4 71.0,146.8 71.1,147.3 71.2,146.1 71.2,150.7 71.3,149.1 71.4,150.5 71.5,144.3 71.6,148.5 71.6,151.2 71.7,145.7 71.8,147.5 71.9,149.8 72.0,149.2 72.0,146.7 72.1,150.7 72.2,149.2 72.3,146.2 72.4,146.2 72.4,146.5 72.5,147.3 72.6,146.7 72.7,146.5 72.8,148.9 72.8,146.5 72.9,147.7 73.0,146.6 73.1,147.1 73.2,149.3 73.2,147.6 73.3,148.7 73.4,147.4 73.5,149.2 73.6,147.5 73.6,149.3 73.7,145.6 73.8,149.2 73.9,148.2 74.0,146.1 74.0,146.5 74.1,144.5 74.2,150.4 74.3,147.8 74.4,146.7 74.4,149.0 74.5,144.2 74.6,147.1 74.7,145.6 74.8,146.6 74.8,148.7 74.9,147.4 75.0,149.6 75.1,146.9 75.2,146.4 75.2,147.0 75.3,145.1 75.4,146.1 75.5,147.2 75.6,148.7 75.6,145.8 75.7,145.9 75.8,144.9 75.9,145.2 76.0,147.1 76.0,147.3 76.1,147.7 76.2,146.8 76.3,148.8 76.4,144.6 76.4,147.1 76.5,148.1 76.6,146.7 76.7,147.8 76.8,146.8 76.8,146.6 76.9,147.4 77.0,146.2 77.1,147.1 77.2,148.1 77.2,145.5 77.3,148.2 77.4,148.9 77.5,149.6 77.6,147.8 77.6,148.9 77.7,144.4 77.8,145.1 77.9,147.2 78.0,145.5 78.0,145.7 78.1,145.6 78.2,146.6 78.3,146.1 78.4,145.7 78.4,147.0 78.5,146.3 78.6,147.1 78.7,147.5 78.8,147.9 78.8,146.7 78.9,146.4 79.0,146.4 79.1,145.4 79.2,147.7 79.2,146.9 79.3,148.6 79.4,147.5 79.5,146.3 79.6,148.3 79.6,146.6 79.7,146.9 79.8,147.7 79.9,147.3 80.0,147.6 80.0,148.0 80.1,147.5 80.2,146.9 80.3,146.7 80.4,147.3 80.4,144.7 80.5,148.9 80.6,143.5 80.7,145.4 80.8,145.5 80.8,147.5 80.9,146.9 81.0,147.4 81.1,145.1 81.2,148.6 81.2,148.2 81.3,143.8 81.4,147.1 81.5,144.0 81.6,146.0 81.6,147.6 81.7,146.8 81.8,144.8 81.9,145.8 82.0,148.3 82.0,147.0 82.1,147.8 82.2,144.2 82.3,147.5 82.4,147.0 82.4,145.3 82.5,148.8 82.6,146.6 82.7,148.0 82.8,146.0 82.8,147.3 82.9,147.5 83.0,146.5 83.1,146.8 83.2,147.1 83.2,146.5 83.3,144.8 83.4,147.2 83.5,146.5 83.6,147.0 83.6,145.5 83.7,148.9 83.8,148.0 83.9,148.6 84.0,149.4 84.0,148.1 84.1,146.2 84.2,144.8 84.3,148.3 84.4,147.0 84.4,147.8 84.5,148.5 84.6,146.4 84.7,145.3 84.8,147.2 84.8,145.9 84.9,145.4 85.0,147.1 85.1,146.2 85.2,147.3 85.2,145.0 85.3,146.4 85.4,146.1 85.5,146.5 85.6,145.6 85.6,147.4 85.7,144.4 85.8,144.2 85.9,148.0 86.0,146.4 86.0,146.5 86.1,145.3 86.2,146.8 86.3,147.0 86.4,144.3 86.4,146.9 86.5,147.1 86.6,146.7 86.7,143.7 86.8,144.7 86.8,146.1 86.9,149.3 87.0,147.8 87.1,146.2 87.2,146.0 87.2,145.6 87.3,147.0 87.4,145.8 87.5,146.2 87.6,144.9 87.6,145.5 87.7,144.7 87.8,145.0 87.9,145.6 88.0,147.7 88.0,146.5 88.1,143.9 88.2,146.7 88.3,146.4 88.4,145.1 88.4,145.7 88.5,145.7 88.6,143.6 88.7,146.0 88.8,144.2 88.8,146.6 88.9,145.0 89.0,143.6 89.1,144.1 89.2,144.5 89.2,147.8 89.3,144.0 89.4,145.2 89.5,145.9 89.6,145.4 89.6,145.6 89.7,146.6 89.8,144.6 89.9,148.0 90.0,147.5 90.0,145.8 90.1,147.4 90.2,146.5 90.3,144.9 90.4,143.8 90.4,144.5 90.5,146.2 90.6,145.8 90.7,147.5 90.8,147.5 90.8,146.5 90.9,145.5 91.0,147.7 91.1,145.2 91.2,141.9 91.2,144.8 91.3,145.8 91.4,145.9 91.5,145.9 91.6,146.1 91.6,146.4 91.7,148.1 91.8,145.7 91.9,145.0 92.0,142.2 92.0,143.2 92.1,143.4 92.2,142.0 92.3,145.5 92.4,149.1 92.4,144.4 92.5,143.3 92.6,145.1 92.7,144.6 92.8,144.9 92.8,145.0 92.9,142.3 93.0,145.0 93.1,142.5 93.2,144.9 93.2,143.7 93.3,143.5 93.4,146.4 93.5,144.4 93.6,144.3 93.6,145.1 93.7,147.1 93.8,140.6 93.9,144.6 94.0,143.9 94.0,145.4 94.1,143.8 94.2,143.7 94.3,144.6 94.4,145.2 94.4,143.7 94.5,143.6 94.6,146.2 94.7,144.4 94.8,140.2 94.8,143.3 94.9,142.0 95.0,144.7 95.1,141.7 95.2,143.2 95.2,144.0 95.3,144.8 95.4,142.3 95.5,143.5 95.6,146.3 95.6,142.1 95.7,143.1 95.8,141.7 95.9,142.6 96.0,143.6 96.0,142.9 96.1,143.7 96.2,140.9 96.3,142.9 96.4,142.2 96.4,139.2 96.5,144.7 96.6,142.7 96.7,141.6 96.8,144.0 96.8,141.6 96.9,137.9 97.0,143.0 97.1,145.7 97.2,142.7 97.2,143.4 97.3,139.7 97.4,139.9 97.5,140.0 97.6,143.6 97.6,143.3 97.7,138.5 97.8,143.2 97.9,138.8 98.0,139.7 98.0,141.6 98.1,140.7 98.2,141.5 98.3,141.9 98.4,143.2 98.4,140.8 98.5,140.4 98.6,140.3 98.7,144.7 98.8,143.0 98.8,143.0 98.9,142.0 99.0,141.5 99.1,143.2 99.2,140.9 99.2,138.8 99.3,138.6 99.4,144.2 99.5,139.3 99.6,139.8 99.6,140.5 99.7,142.2 99.8,139.0 99.9,140.2 100.0,141.0 100.0,138.6 100.1,140.5 100.2,141.9 100.3,140.6 100.4,140.3 100.4,140.8 100.5,140.0 100.6,139.4 100.7,139.2 100.8,141.1 100.8,137.4 100.9,138.0 101.0,140.8 101.1,141.3 101.2,139.7 101.2,138.2 101.3,137.1 101.4,140.2 101.5,139.5 101.6,139.7 101.6,139.7 101.7,137.5 101.8,137.9 101.9,138.8 102.0,138.6 102.0,136.4 102.1,136.8 102.2,138.3 102.3,140.6 102.4,142.0 102.4,138.8 102.5,137.9 102.6,138.7 102.7,138.3 102.8,136.9 102.8,134.9 102.9,138.3 103.0,137.1 103.1,137.8 103.2,136.5 103.2,137.3 103.3,137.9 103.4,135.8 103.5,136.6 103.6,138.4 103.6,138.5 103.7,135.0 103.8,138.4 103.9,139.0 104.0,137.8 104.0,137.7 104.1,137.2 104.2,137.5 104.3,136.3 104.4,138.5 104.4,136.7 104.5,134.7 104.6,137.2 104.7,137.6 104.8,136.9 104.8,135.0 104.9,136.9 105.0,133.2 105.1,138.0 105.2,136.5 105.2,133.4 105.3,133.0 105.4,138.4 105.5,135.6 105.6,134.3 105.6,135.5 105.7,134.7 105.8,134.6 105.9,135.1 106.0,134.9 106.0,133.3 106.1,134.6 106.2,134.3 106.3,133.2 106.4,134.5 106.4,134.0 106.5,132.8 106.6,134.4 106.7,133.3 106.8,133.6 106.8,132.0 106.9,131.8 107.0,131.9 107.1,131.1 107.2,131.0 107.2,129.7 107.3,132.2 107.4,130.5 107.5,130.9 107.6,131.0 107.6,128.8 107.7,130.7 107.8,125.4 107.9,127.2 108.0,126.7 108.0,126.8 108.1,125.7 108.2,126.5 108.3,126.6 108.4,125.3 108.4,124.9 108.5,123.1 108.6,123.1 108.7,123.0 108.8,121.8 108.8,121.6 108.9,120.6 109.0,120.2 109.1,119.0 109.2,119.0 109.2,118.7 109.3,118.1 109.4,118.0 109.5,117.3 109.6,117.4 109.6,117.0 109.7,117.5 109.8,117.6 109.9,117.7 110.0,118.5 110.0,118.2 110.1,118.9 110.2,119.6 110.3,119.4 110.4,119.9 110.4,121.6 110.5,121.1 110.6,121.1 110.7,121.9 110.8,122.2 110.8,122.6 110.9,123.9 111.0,123.3 111.1,123.6 111.2,125.1 111.2,125.6 111.3,126.8 111.4,125.9 111.5,126.7 111.6,127.8 111.6,127.9 111.7,127.8 111.8,127.9 111.9,128.9 112.0,128.7 112.0,128.3 112.1,128.7 112.2,128.9 112.3,130.6 112.4,127.2 112.4,129.3 112.5,131.5 112.6,128.5 112.7,130.2 112.8,131.6 112.8,129.5 112.9,130.5 113.0,130.4 113.1,131.6 113.2,130.9 113.2,130.7 113.3,131.9 113.4,132.2 113.5,133.1 113.6,131.9 113.6,132.2 113.7,131.9 113.8,133.5 113.9,133.6 114.0,132.0 114.0,130.9 114.1,134.4 114.2,131.3 114.3,131.4 114.4,132.4 114.4,134.6 114.5,134.0 114.6,132.7 114.7,133.6 114.8,132.7 114.8,134.1 114.9,132.3 115.0,134.6 115.1,133.4 115.2,132.1 115.2,130.7 115.3,134.0 115.4,133.2 115.5,131.4 115.6,131.4 115.6,131.8 115.7,131.9 115.8,132.1 115.9,132.2 116.0,132.2 116.0,131.3 116.1,134.9 116.2,131.6 116.3,131.0 116.4,132.6 116.4,130.5 116.5,132.4 116.6,131.9 116.7,133.1 116.8,130.2 116.8,128.9 116.9,133.0 117.0,131.1 117.1,133.5 117.2,132.2 117.2,130.6 117.3,131.5 117.4,129.6 117.5,129.7 117.6,130.9 117.6,131.0 117.7,128.5 117.8,131.7 117.9,131.3 118.0,131.9 118.0,128.3 118.1,131.1 118.2,129.3 118.3,129.4 118.4,131.5 118.4,130.0 118.5,130.7 118.6,131.0 118.7,131.2 118.8,128.4 118.8,128.3 118.9,129.9 119.0,130.1 119.1,128.4 119.2,129.7 119.2,128.1 119.3,128.8 119.4,128.9 119.5,129.3 119.6,129.8 119.6,128.5 119.7,129.1 119.8,127.7 119.9,129.8 120.0,129.5 120.0,128.0 120.1,131.3 120.2,128.6 120.3,128.2 120.4,128.0 120.4,129.1 120.5,128.7 120.6,127.6 120.7,129.1 120.8,129.9 120.8,130.4 120.9,129.1 121.0,127.9 121.1,127.2 121.2,129.0 121.2,130.0 121.3,131.2 121.4,127.7 121.5,126.6 121.6,126.7 121.6,128.5 121.7,128.9 121.8,126.9 121.9,126.2 122.0,125.0 122.0,128.8 122.1,125.5 122.2,128.4 122.3,127.3 122.4,124.6 122.4,125.7 122.5,128.8 122.6,127.3 122.7,126.9 122.8,129.0 122.8,127.1 122.9,127.2 123.0,127.2 123.1,127.1 123.2,128.5 123.2,126.2 123.3,128.4 123.4,129.0 123.5,126.1 123.6,127.4 123.6,125.1 123.7,126.8 123.8,128.3 123.9,127.9 124.0,126.0 124.0,127.3 124.1,127.1 124.2,126.5 124.3,126.5 124.4,129.0 124.4,122.8 124.5,125.3 124.6,127.4 124.7,125.9 124.8,126.5 124.8,126.4 124.9,125.6 125.0,125.9 125.1,124.7 125.2,125.7 125.2,126.8 125.3,127.1 125.4,126.3 125.5,125.2 125.6,124.9 125.6,122.9 125.7,125.1 125.8,123.9 125.9,124.2 126.0,124.7 126.0,125.2 126.1,125.2 126.2,125.0 126.3,123.3 126.4,124.2 126.4,125.8 126.5,124.6 126.6,125.3 126.7,124.7 126.8,126.7 126.8,126.9 126.9,127.7 127.0,124.0 127.1,125.5 127.2,122.6 127.2,125.3 127.3,124.9 127.4,123.7 127.5,126.2 127.6,124.4 127.6,122.0 127.7,126.1 127.8,124.2 127.9,125.1 128.0,123.1 128.0,122.9 128.1,122.2 128.2,122.4 128.3,124.7 128.4,124.5 128.4,121.5 128.5,123.6 128.6,123.6 128.7,122.5 128.8,123.9 128.8,122.4 128.9,124.7 129.0,123.0 129.1,123.6 129.2,119.9 129.2,122.6 129.3,123.2 129.4,122.2 129.5,122.8 129.6,121.7 129.6,124.2 129.7,121.5 129.8,122.5 129.9,124.9 130.0,124.5 130.0,122.8 130.1,121.0 130.2,120.1 130.3,123.3 130.4,123.0 130.4,122.3 130.5,122.2 130.6,125.5 130.7,123.8 130.8,122.6 130.8,122.3 130.9,122.1 131.0,123.0 131.1,122.2 131.2,122.6 131.2,121.9 131.3,123.5 131.4,122.8 131.5,121.0 131.6,125.6 131.6,126.5 131.7,121.9 131.8,120.9 131.9,118.7 132.0,121.7 132.0,124.5 132.1,123.1 132.2,121.8 132.3,120.4 132.4,123.4 132.4,123.4 132.5,123.1 132.6,122.7 132.7,119.8 132.8,122.3 132.8,124.6 132.9,121.6 133.0,119.9 133.1,120.6 133.2,122.7 133.2,123.2 133.3,123.9 133.4,123.3 133.5,121.7 133.6,122.4 133.6,122.8 133.7,122.9 133.8,121.5 133.9,124.1 134.0,124.7 134.0,123.2 134.1,123.6 134.2,121.7 134.3,123.8 134.4,122.5 134.4,122.4 134.5,124.9 134.6,124.0 134.7,123.2 134.8,121.6 134.8,124.0 134.9,126.4 135.0,124.6 135.1,124.6 135.2,126.1 135.2,127.4 135.3,125.3 135.4,126.0 135.5,124.9 135.6,125.4 135.6,125.4 135.7,126.4 135.8,124.2 135.9,125.4 136.0,125.5 136.0,125.0 136.1,124.3 136.2,126.4 136.3,124.8 136.4,123.2 136.4,126.4 136.5,123.5 136.6,126.6 136.7,122.3 136.8,125.7 136.8,128.3 136.9,125.5 137.0,127.5 137.1,125.4 137.2,125.0 137.2,125.7 137.3,127.5 137.4,128.1 137.5,128.4 137.6,127.7 137.6,126.5 137.7,123.7 137.8,125.5 137.9,128.9 138.0,124.5 138.0,127.5 138.1,127.5 138.2,124.5 138.3,127.5 138.4,126.5 138.4,127.5 138.5,127.1 138.6,127.0 138.7,126.1 138.8,124.5 138.8,130.2 138.9,126.4 139.0,127.3 139.1,127.2 139.2,127.4 139.2,126.8 139.3,128.8 139.4,128.1 139.5,127.5 139.6,127.4 139.6,129.1 139.7,127.1 139.8,129.3 139.9,130.5 140.0,130.2 140.0,129.6 140.1,126.4 140.2,130.0 140.3,129.4 140.4,131.1 140.4,128.3 140.5,128.6 140.6,131.5 140.7,128.2 140.8,131.2 140.8,130.1 140.9,126.1 141.0,129.0 141.1,129.1 141.2,127.9 141.2,127.1 141.3,130.1 141.4,128.5 141.5,129.1 141.6,128.8 141.6,129.9 141.7,131.1 141.8,131.6 141.9,131.3 142.0,130.0 142.0,130.4 142.1,131.6 142.2,132.6 142.3,130.7 142.4,129.0 142.4,131.5 142.5,132.0 142.6,130.5 142.7,133.0 142.8,130.6 142.8,131.4 142.9,132.0 143.0,134.0 143.1,129.9 143.2,132.5 143.2,133.0 143.3,131.7 143.4,133.5 143.5,131.0 143.6,130.3 143.6,130.3 143.7,131.2 143.8,130.7 143.9,133.2 144.0,132.5 144.0,130.4 144.1,135.0 144.2,133.1 144.3,130.3 144.4,130.1 144.4,133.0 144.5,135.0 144.6,132.6 144.7,134.6 144.8,135.7 144.8,134.4 144.9,132.9 145.0,131.5 145.1,132.6 145.2,135.6 145.2,133.7 145.3,132.3 145.4,133.2 145.5,133.6 145.6,135.7 145.6,133.2 145.7,137.0 145.8,134.6 145.9,134.8 146.0,132.7 146.0,135.1 146.1,134.9 146.2,135.7 146.3,133.6 146.4,135.1 146.4,132.5 146.5,133.4 146.6,138.3 146.7,134.4 146.8,134.0 146.8,136.5 146.9,135.0 147.0,138.7 147.1,135.5 147.2,136.5 147.2,135.2 147.3,137.4 147.4,135.8 147.5,139.2 147.6,134.8 147.6,136.6 147.7,137.1 147.8,134.4 147.9,135.4 148.0,135.1 148.0,133.8 148.1,136.9 148.2,133.1 148.3,134.6 148.4,134.9 148.4,137.1 148.5,136.5 148.6,138.3 148.7,138.7 148.8,137.2 148.8,135.6 148.9,138.1 149.0,136.1 149.1,136.8 149.2,137.4 149.2,139.5 149.3,140.7 149.4,139.3 149.5,137.0 149.6,139.0 149.6,139.6 149.7,136.6 149.8,138.1 149.9,137.0 150.0,137.1 150.0,138.2 150.1,138.4 150.2,137.1 150.3,138.3 150.4,136.5 150.4,138.2 150.5,138.7 150.6,137.8 150.7,136.3 150.8,137.5 150.8,139.3 150.9,140.2 151.0,140.3 151.1,140.4 151.2,141.6 151.2,138.3 151.3,140.8 151.4,137.9 151.5,141.8 151.6,140.7 151.6,137.8 151.7,140.4 151.8,140.9 151.9,138.3 152.0,140.0 152.0,140.9 152.1,142.4 152.2,138.9 152.3,142.1 152.4,138.3 152.4,138.7 152.5,141.9 152.6,141.1 152.7,138.9 152.8,142.4 152.8,140.9 152.9,140.5 153.0,139.9 153.1,136.9 153.2,140.4 153.2,141.8 153.3,140.4 153.4,141.6 153.5,140.4 153.6,142.6 153.6,137.3 153.7,141.4 153.8,139.4 153.9,141.1 154.0,141.8 154.0,142.6 154.1,142.1 154.2,142.8 154.3,139.6 154.4,141.3 154.4,138.0 154.5,141.7 154.6,140.5 154.7,142.8 154.8,141.6 154.8,141.0 154.9,140.5 155.0,141.7 155.1,140.6 155.2,139.5 155.2,142.1 155.3,140.3 155.4,142.3 155.5,140.3 155.6,139.9 155.6,144.8 155.7,142.6 155.8,143.5 155.9,141.4 156.0,141.8 156.0,141.8 156.1,144.6 156.2,142.8 156.3,142.1 156.4,141.9 156.4,143.3 156.5,146.3 156.6,142.1 156.7,142.1 156.8,144.1 156.8,143.5 156.9,143.3 157.0,145.1 157.1,142.0 157.2,140.5 157.2,139.8 157.3,142.1 157.4,142.6 157.5,143.7 157.6,140.1 157.6,140.3 157.7,142.0 157.8,141.9 157.9,140.2 158.0,142.1 158.0,143.4 158.1,142.0 158.2,145.8 158.3,143.5 158.4,141.2 158.4,142.1 158.5,140.3 158.6,145.7 158.7,142.1 158.8,142.0 158.8,143.6 158.9,142.0 159.0,141.5 159.1,142.4 159.2,144.1 159.2,144.1 159.3,140.5 159.4,140.1 159.5,143.3 159.6,142.1 159.6,142.6 159.7,144.2 159.8,143.3 159.9,141.9 160.0,145.0 160.0,141.6 160.1,144.6 160.2,145.5 160.3,142.4 160.4,143.6 160.4,142.7 160.5,142.3 160.6,141.2 160.7,141.1 160.8,144.8 160.8,146.2 160.9,143.9 161.0,143.8 161.1,142.1 161.2,142.9 161.2,145.2 161.3,146.4 161.4,144.1 161.5,143.6 161.6,144.7 161.6,143.3 161.7,141.9 161.8,141.8 161.9,142.7 162.0,142.5 162.0,139.7 162.1,140.4 162.2,144.3 162.3,144.6 162.4,144.4 162.4,142.8 162.5,142.2 162.6,143.1 162.7,143.7 162.8,142.5 162.8,144.8 162.9,142.2 163.0,139.8 163.1,144.2 163.2,144.6 163.2,143.0 163.3,144.8 163.4,145.0 163.5,139.9 163.6,143.9 163.6,141.5 163.7,144.3 163.8,143.7 163.9,144.5 164.0,142.9 164.0,142.4 164.1,143.7 164.2,146.7 164.3,144.0 164.4,141.8 164.4,143.3 164.5,143.0 164.6,145.2 164.7,143.5 164.8,142.9 164.8,147.1 164.9,142.3 165.0,144.1 165.1,141.7 165.2,142.7 165.2,143.7 165.3,141.3 165.4,141.3 165.5,142.2 165.6,145.6 165.6,144.6 165.7,143.5 165.8,144.9 165.9,144.7 166.0,142.4 166.0,141.7 166.1,145.2 166.2,142.4 166.3,144.4 166.4,141.0 166.4,143.2 166.5,141.5 166.6,144.4 166.7,144.5 166.8,147.3 166.8,144.6 166.9,142.5 167.0,144.3 167.1,144.3 167.2,142.0 167.2,144.3 167.3,143.8 167.4,144.1 167.5,143.0 167.6,143.3 167.6,144.1 167.7,143.5 167.8,144.2 167.9,141.3 168.0,144.8 168.0,142.1 168.1,144.9 168.2,141.1 168.3,144.3 168.4,143.7 168.4,143.9 168.5,142.6 168.6,141.9 168.7,144.2 168.8,144.9 168.8,141.9 168.9,141.5 169.0,142.4 169.1,143.1 169.2,140.6 169.2,141.7 169.3,144.3 169.4,142.1 169.5,142.0 169.6,145.6 169.6,144.9 169.7,145.8 169.8,143.3 169.9,143.1 170.0,142.6 170.0,141.0 170.1,140.0 170.2,143.1 170.3,142.1 170.4,144.2 170.4,144.7 170.5,140.9 170.6,141.1 170.7,143.6 170.8,145.4 170.8,145.6 170.9,142.2 171.0,143.4 171.1,145.4 171.2,142.1 171.2,141.7 171.3,145.3 171.4,142.2 171.5,141.4 171.6,145.7 171.6,142.6 171.7,142.6 171.8,144.1 171.9,145.5 172.0,144.5 172.0,143.6 172.1,143.9 172.2,143.9 172.3,143.7 172.4,140.6 172.4,143.7 172.5,141.2 172.6,142.1 172.7,143.4 172.8,143.1 172.8,143.8 172.9,143.2 173.0,144.0 173.1,146.0 173.2,141.6 173.2,144.9 173.3,146.0 173.4,142.6 173.5,142.7 173.6,143.1 173.6,143.9 173.7,142.1 173.8,142.6 173.9,143.1 174.0,143.3 174.0,145.4 174.1,142.4 174.2,144.5 174.3,144.4 174.4,143.5 174.4,143.4 174.5,142.0 174.6,142.1 174.7,143.8 174.8,141.5 174.8,142.8 174.9,144.9 175.0,143.4 175.1,143.3 175.2,142.9 175.2,144.8 175.3,144.0 175.4,143.6 175.5,141.3 175.6,145.7 175.6,141.1 175.7,145.2 175.8,141.4 175.9,140.8 176.0,139.5 176.0,143.3 176.1,143.5 176.2,142.5 176.3,142.3 176.4,140.9 176.4,142.9 176.5,142.5 176.6,140.7 176.7,142.2 176.8,142.4 176.8,141.2 176.9,144.6 177.0,140.9 177.1,145.8 177.2,144.6 177.2,142.2 177.3,145.3 177.4,144.6 177.5,144.8 177.6,143.2 177.6,141.4 177.7,139.7 177.8,143.3 177.9,142.7 178.0,142.0 178.0,146.0 178.1,143.6 178.2,140.6 178.3,142.7 178.4,143.6 178.4,141.0 178.5,144.2 178.6,142.3 178.7,140.6 178.8,143.5 178.8,143.9 178.9,139.4 179.0,143.5 179.1,141.9 179.2,142.3 179.2,140.3 179.3,141.3 179.4,145.5 179.5,143.9 179.6,142.6 179.6,142.9 179.7,141.5 179.8,142.6 179.9,141.5 180.0,143.2 180.0,141.1 180.1,143.1 180.2,143.9 180.3,142.3 180.4,143.1 180.4,143.2 180.5,141.9 180.6,140.6 180.7,144.4 180.8,142.9 180.8,142.3 180.9,144.6 181.0,141.5 181.1,142.0 181.2,141.7 181.2,141.2 181.3,142.5 181.4,141.8 181.5,144.8 181.6,141.7 181.6,144.6 181.7,141.4 181.8,142.2 181.9,142.8 182.0,141.4 182.0,143.7 182.1,141.8 182.2,141.7 182.3,143.7 182.4,141.6 182.4,143.6 182.5,144.3 182.6,143.9 182.7,144.8 182.8,142.1 182.8,144.5 182.9,141.9 183.0,140.2 183.1,142.4 183.2,145.6 183.2,141.2 183.3,145.3 183.4,140.5 183.5,144.0 183.6,143.4 183.6,142.0 183.7,139.3 183.8,143.6 183.9,143.6 184.0,143.4 184.0,144.1 184.1,141.4 184.2,145.6 184.3,144.0 184.4,141.5 184.4,145.9 184.5,142.7 184.6,143.3 184.7,143.9 184.8,141.3 184.8,141.3 184.9,142.4 185.0,140.9 185.1,142.3 185.2,144.7 185.2,138.2 185.3,142.8 185.4,141.8 185.5,143.9 185.6,140.9 185.6,141.0 185.7,142.4 185.8,145.6 185.9,141.2 186.0,140.1 186.0,141.1 186.1,143.6 186.2,143.9 186.3,142.5 186.4,142.9 186.4,140.5 186.5,143.2 186.6,142.3 186.7,141.6 186.8,144.1 186.8,144.1 186.9,141.9 187.0,142.9 187.1,139.7 187.2,141.0 187.2,144.5 187.3,140.9 187.4,141.2 187.5,144.3 187.6,139.3 187.6,141.6 187.7,143.7 187.8,141.9 187.9,141.3 188.0,141.1 188.0,142.9 188.1,141.2 188.2,143.1 188.3,142.4 188.4,142.7 188.4,144.3 188.5,142.0 188.6,141.3 188.7,142.7 188.8,143.1 188.8,142.4 188.9,140.2 189.0,143.7 189.1,140.2 189.2,139.8 189.2,144.2 189.3,145.0 189.4,142.4 189.5,141.6 189.6,144.9 189.6,140.9 189.7,142.8 189.8,142.0 189.9,143.8 190.0,143.3 190.0,141.7 190.1,144.6 190.2,144.0 190.3,142.9 190.4,142.5 190.4,142.8 190.5,141.1 190.6,142.6 190.7,142.6 190.8,143.8 190.8,142.7 190.9,142.4 191.0,143.4 191.1,144.5 191.2,143.9 191.2,142.9 191.3,142.4 191.4,145.1 191.5,143.1 191.6,141.3 191.6,143.4 191.7,140.5 191.8,142.4 191.9,144.1 192.0,142.9 192.0,142.7 192.1,144.9 192.2,144.9 192.3,141.8 192.4,141.5 192.4,142.2 192.5,141.5 192.6,144.0 192.7,144.3 192.8,143.1 192.8,141.7 192.9,140.9 193.0,143.0 193.1,142.1 193.2,144.0 193.2,141.4 193.3,142.5 193.4,142.7 193.5,144.8 193.6,144.5 193.6,144.1 193.7,143.7 193.8,144.4 193.9,140.7 194.0,144.7 194.0,143.0 194.1,145.6 194.2,144.8 194.3,145.2 194.4,142.4 194.4,146.9 194.5,144.3 194.6,143.9 194.7,142.7 194.8,144.1 194.8,140.4 194.9,145.5 195.0,144.3 195.1,143.5 195.2,145.6 195.2,144.4 195.3,144.3 195.4,142.9 195.5,144.1 195.6,141.9 195.6,142.0 195.7,143.9 195.8,142.8 195.9,141.7 196.0,143.4 196.0,141.0 196.1,146.0 196.2,142.4 196.3,142.4 196.4,146.0 196.4,141.5 196.5,140.4 196.6,143.7 196.7,143.3 196.8,145.3 196.8,143.7 196.9,141.4 197.0,143.9 197.1,145.6 197.2,145.6 197.2,144.2 197.3,142.4 197.4,142.8 197.5,143.9 197.6,143.2 197.6,144.2 197.7,144.3 197.8,142.1 197.9,144.2 198.0,145.1 198.0,142.1 198.1,141.8 198.2,145.1 198.3,144.8 198.4,145.4 198.4,146.6 198.5,143.8 198.6,142.4 198.7,144.3 198.8,143.0 198.8,144.6 198.9,145.1 199.0,141.9 199.1,144.9 199.2,144.1 199.2,144.5 199.3,142.4 199.4,146.6 199.5,143.1 199.6,143.5 199.6,143.1 199.7,143.8 199.8,143.5 199.9,141.2 200.0,146.5 200.0,144.7 200.1,143.8 200.2,144.1 200.3,145.7 200.4,145.5 200.4,144.7 200.5,145.6 200.6,140.7 200.7,145.5 200.8,143.9 200.8,143.1 200.9,142.7 201.0,144.4 201.1,141.7 201.2,144.7 201.2,143.1 201.3,145.3 201.4,141.6 201.5,144.8 201.6,143.6 201.6,142.5 201.7,146.1 201.8,142.6 201.9,142.9 202.0,143.8 202.0,146.4 202.1,144.4 202.2,143.4 202.3,142.9 202.4,143.1 202.4,145.1 202.5,145.7 202.6,143.7 202.7,142.8 202.8,143.1 202.8,141.6 202.9,145.0 203.0,144.3 203.1,145.9 203.2,147.6 203.2,146.3 203.3,143.7 203.4,143.8 203.5,142.3 203.6,141.2 203.6,147.1 203.7,144.7 203.8,142.0 203.9,145.3 204.0,141.2 204.0,143.9 204.1,144.4 204.2,143.3 204.3,143.5 204.4,145.4 204.4,143.5 204.5,145.9 204.6,141.6 204.7,143.6 204.8,146.8 204.8,142.7 204.9,142.8 205.0,144.3 205.1,143.6 205.2,144.6 205.2,145.7 205.3,145.1 205.4,144.6 205.5,143.7 205.6,144.6 205.6,145.6 205.7,142.9 205.8,143.6 205.9,142.6 206.0,144.2 206.0,144.5 206.1,143.4 206.2,142.6 206.3,143.1 206.4,145.3 206.4,143.4 206.5,145.5 206.6,143.4 206.7,143.1 206.8,145.4 206.8,143.1 206.9,146.0 207.0,141.1 207.1,144.3 207.2,143.5 207.2,143.7 207.3,144.7 207.4,141.3 207.5,147.5 207.6,143.6 207.6,147.9 207.7,145.5 207.8,144.6 207.9,141.9 208.0,146.9 208.0,145.3 208.1,146.1 208.2,141.9 208.3,141.6 208.4,143.7 208.4,145.1 208.5,145.5 208.6,146.1 208.7,142.9 208.8,142.2 208.8,145.4 208.9,142.7 209.0,144.1 209.1,147.3 209.2,143.6 209.2,144.8 209.3,144.6 209.4,144.2 209.5,144.8 209.6,145.0 209.6,144.3 209.7,146.5 209.8,145.6 209.9,142.7 210.0,146.8 210.0,144.4 210.1,143.9 210.2,143.0 210.3,145.4 210.4,144.1 210.4,143.0 210.5,142.9 210.6,144.7 210.7,143.7 210.8,143.5 210.8,147.7 210.9,144.7 211.0,145.1 211.1,144.3 211.2,144.1 211.2,142.7 211.3,145.2 211.4,144.5 211.5,142.9 211.6,144.0 211.6,146.7 211.7,144.5 211.8,144.2 211.9,143.1 212.0,143.2 212.0,142.5 212.1,145.3 212.2,144.3 212.3,145.4 212.4,142.8 212.4,143.4 212.5,144.5 212.6,145.7 212.7,143.3 212.8,145.4 212.8,142.4 212.9,145.6 213.0,145.9 213.1,143.5 213.2,144.4 213.2,145.0 213.3,142.9 213.4,143.3 213.5,143.2 213.6,144.7 213.6,145.2 213.7,142.5 213.8,142.8 213.9,144.8 214.0,142.9 214.0,143.5 214.1,145.0 214.2,144.5 214.3,145.3 214.4,143.9 214.4,143.6 214.5,142.8 214.6,140.8 214.7,143.2 214.8,141.4 214.8,144.7 214.9,144.6 215.0,144.2 215.1,145.0 215.2,146.2 215.2,141.4 215.3,143.3 215.4,144.5 215.5,143.1 215.6,143.2 215.6,144.7 215.7,143.9 215.8,141.5 215.9,145.0 216.0,142.0 216.0,143.3 216.1,143.7 216.2,140.7 216.3,145.0 216.4,143.6 216.4,143.2 216.5,143.6 216.6,142.2 216.7,143.4 216.8,143.2 216.8,139.3 216.9,140.6 217.0,143.4 217.1,140.6 217.2,142.7 217.2,141.6 217.3,142.8 217.4,139.2 217.5,141.7 217.6,141.5 217.6,141.8 217.7,141.6 217.8,141.3 217.9,141.6 218.0,141.6 218.0,140.3 218.1,142.4 218.2,140.7 218.3,140.0 218.4,141.2 218.4,138.8 218.5,141.3 218.6,139.7 218.7,140.0 218.8,139.8 218.8,140.1 218.9,138.7 219.0,138.7 219.1,139.5 219.2,138.1 219.2,138.7 219.3,138.3 219.4,137.9 219.5,137.2 219.6,136.8 219.6,137.2 219.7,135.9 219.8,135.8 219.9,140.6 220.0,137.1 220.0,138.2 220.1,137.1 220.2,137.5 220.3,136.5 220.4,137.3 220.4,136.2 220.5,136.1 220.6,134.6 220.7,136.4 220.8,135.1 220.8,135.0 220.9,135.2 221.0,134.8 221.1,134.3 221.2,135.2 221.2,133.2 221.3,132.1 221.4,133.2 221.5,131.9 221.6,133.0 221.6,133.6 221.7,133.5 221.8,132.2 221.9,132.8 222.0,132.0 222.0,132.7 222.1,133.3 222.2,132.3 222.3,133.6 222.4,133.0 222.4,134.5 222.5,132.6 222.6,132.5 222.7,134.5 222.8,134.4 222.8,134.3 222.9,133.1 223.0,134.2 223.1,133.7 223.2,136.0 223.2,135.2 223.3,134.0 223.4,134.0 223.5,133.5 223.6,134.5 223.6,135.3 223.7,135.9 223.8,136.9 223.9,135.1 224.0,137.5 224.0,133.3 224.1,136.0 224.2,137.2 224.3,135.8 224.4,136.9 224.4,137.7 224.5,136.2 224.6,137.2 224.7,138.3 224.8,136.0 224.8,138.5 224.9,137.4 225.0,136.2 225.1,138.0 225.2,138.4 225.2,137.7 225.3,138.3 225.4,138.5 225.5,138.2 225.6,138.3 225.6,139.2 225.7,139.2 225.8,138.3 225.9,135.9 226.0,136.7 226.0,137.9 226.1,140.1 226.2,139.2 226.3,141.0 226.4,139.2 226.4,139.2 226.5,138.2 226.6,140.4 226.7,136.9 226.8,139.3 226.8,138.6 226.9,138.1 227.0,140.2 227.1,139.8 227.2,139.5 227.2,138.5 227.3,136.9 227.4,137.1 227.5,135.5 227.6,137.1 227.6,139.5 227.7,141.1 227.8,137.5 227.9,140.9 228.0,141.9 228.0,140.8 228.1,141.7 228.2,139.2 228.3,138.5 228.4,139.7 228.4,140.7 228.5,140.0 228.6,139.6 228.7,138.2 228.8,138.1 228.8,140.6 228.9,136.5 229.0,141.6 229.1,141.6 229.2,142.7 229.2,138.2 229.3,138.7 229.4,138.9 229.5,137.4 229.6,136.2 229.6,140.8 229.7,139.3 229.8,139.5 229.9,137.1 230.0,139.9 230.0,142.7 230.1,140.0 230.2,141.0 230.3,138.1 230.4,141.4 230.4,139.8 230.5,140.0 230.6,140.4 230.7,143.1 230.8,142.3 230.8,139.8 230.9,139.4 231.0,138.5 231.1,138.4 231.2,142.4 231.2,141.7 231.3,140.0 231.4,139.9 231.5,139.4 231.6,140.5 231.6,142.4 231.7,140.7 231.8,139.5 231.9,142.0 232.0,141.5 232.0,137.8 232.1,139.8 232.2,142.4 232.3,141.1 232.4,140.5 232.4,141.2 232.5,138.9 232.6,138.9 232.7,140.5 232.8,140.9 232.8,143.2 232.9,140.6 233.0,141.3 233.1,143.2 233.2,140.0 233.2,140.5 233.3,141.0 233.4,141.4 233.5,141.2 233.6,142.1 233.6,139.2 233.7,139.1 233.8,141.0 233.9,138.7 234.0,141.0 234.0,140.0 234.1,140.3 234.2,142.1 234.3,141.7 234.4,142.1 234.4,141.2 234.5,139.3 234.6,141.1 234.7,140.4 234.8,138.9 234.8,141.0 234.9,142.9 235.0,140.1 235.1,140.4 235.2,140.4 235.2,142.7 235.3,138.5 235.4,142.3 235.5,141.8 235.6,141.5 235.6,140.3 235.7,141.3 235.8,144.6 235.9,142.1 236.0,141.2 236.0,143.1 236.1,140.0 236.2,143.5 236.3,141.7 236.4,145.2 236.4,145.2 236.5,142.9 236.6,142.7 236.7,141.5 236.8,143.0 236.8,143.2 236.9,140.1 237.0,140.0 237.1,143.0 237.2,141.4 237.2,142.5 237.3,142.5 237.4,142.6 237.5,142.0 237.6,143.3 237.6,144.6 237.7,144.9 237.8,142.0 237.9,142.7 238.0,142.7 238.0,144.7 238.1,140.3 238.2,142.5 238.3,143.4 238.4,143.9 238.4,141.8 238.5,143.8 238.6,142.7 238.7,142.2 238.8,144.1 238.8,140.4 238.9,139.6 239.0,145.9 239.1,147.4 239.2,144.3 239.2,143.0 239.3,142.1 239.4,141.5 239.5,140.6 239.6,143.6 239.6,141.8 239.7,143.2 239.8,143.8 239.9,142.2 240.0,143.6 240.0,145.6 240.1,144.0 240.2,143.9 240.3,143.4 240.4,145.7 240.4,145.5 240.5,143.0 240.6,144.4 240.7,143.7 240.8,143.3 240.8,142.7 240.9,146.6 241.0,144.9 241.1,141.2 241.2,145.7 241.2,146.8 241.3,144.5 241.4,144.3 241.5,144.7 241.6,145.8 241.6,143.8 241.7,145.2 241.8,142.5 241.9,146.4 242.0,143.1 242.0,144.3 242.1,145.5 242.2,146.5 242.3,144.0 242.4,144.1 242.4,147.4 242.5,144.3 242.6,144.0 242.7,144.6 242.8,146.4 242.8,146.5 242.9,147.0 243.0,146.2 243.1,145.0 243.2,146.4 243.2,146.9 243.3,144.1 243.4,145.0 243.5,145.9 243.6,148.4 243.6,145.6 243.7,146.2 243.8,146.3 243.9,146.8 244.0,147.2 244.0,144.9 244.1,143.1 244.2,147.6 244.3,143.6 244.4,147.0 244.4,147.2 244.5,147.7 244.6,145.3 244.7,147.3 244.8,147.8 244.8,147.9 244.9,148.7 245.0,145.6 245.1,146.3 245.2,146.7 245.2,147.1 245.3,148.6 245.4,148.4 245.5,147.4 245.6,149.7 245.6,148.8 245.7,145.8 245.8,149.2 245.9,145.7 246.0,143.3 246.0,146.9 246.1,146.9 246.2,147.4 246.3,147.6 246.4,146.5 246.4,146.6 246.5,148.7 246.6,148.2 246.7,147.4 246.8,146.6 246.8,147.9 246.9,146.4 247.0,145.9 247.1,149.4 247.2,149.0 247.2,147.5 247.3,150.4 247.4,147.9 247.5,149.0 247.6,148.8 247.6,148.3 247.7,148.4 247.8,150.5 247.9,149.6 248.0,145.5 248.0,149.2 248.1,145.0 248.2,146.8 248.3,149.0 248.4,146.8 248.4,150.3 248.5,147.9 248.6,149.4 248.7,149.0 248.8,149.7 248.8,150.5 248.9,146.4 249.0,148.6 249.1,149.0 249.2,150.2 249.2,149.5 249.3,148.3 249.4,146.8 249.5,146.4 249.6,147.5 249.6,149.1 249.7,149.1 249.8,151.0 249.9,149.3 250.0,150.1 250.0,146.9 250.1,149.3 250.2,148.3 250.3,148.1 250.4,150.9 250.4,149.0 250.5,149.0 250.6,149.1 250.7,147.1 250.8,146.8 250.8,151.9 250.9,149.3 251.0,149.2 251.1,149.5 251.2,148.6 251.2,148.8 251.3,148.0 251.4,149.8 251.5,149.1 251.6,150.8 251.6,151.6 251.7,147.8 251.8,150.4 251.9,148.8 252.0,152.5 252.0,149.7 252.1,150.8 252.2,148.7 252.3,151.3 252.4,148.4 252.4,147.7 252.5,146.1 252.6,149.4 252.7,148.9 252.8,149.8 252.8,148.2 252.9,149.5 253.0,149.5 253.1,147.9 253.2,152.3 253.2,152.7 253.3,150.0 253.4,150.4 253.5,150.5 253.6,150.6 253.6,148.4 253.7,150.0 253.8,152.2 253.9,149.4 254.0,149.2 254.0,148.3 254.1,149.0 254.2,146.5 254.3,149.6 254.4,151.2 254.4,150.1 254.5,149.9 254.6,149.7 254.7,149.7 254.8,148.1 254.8,146.9 254.9,152.4 255.0,150.4 255.1,146.4 255.2,152.0 255.2,149.0 255.3,151.1 255.4,149.4 255.5,148.7 255.6,150.9 255.6,149.1 255.7,146.1 255.8,150.4 255.9,149.5 256.0,149.5 256.0,149.1 256.1,150.2 256.2,151.8 256.3,151.1 256.4,150.0 256.4,149.7 256.5,148.4 256.6,152.2 256.7,146.6 256.8,148.0 256.8,149.3 256.9,149.7 257.0,149.9 257.1,148.9 257.2,152.3 257.2,151.3 257.3,146.6 257.4,148.0 257.5,147.4 257.6,151.6 257.6,148.8 257.7,147.1 257.8,149.0 257.9,147.4 258.0,149.5 258.0,150.4 258.1,147.6 258.2,149.7 258.3,149.8 258.4,148.3 258.4,150.1 258.5,149.8 258.6,150.3 258.7,149.1 258.8,148.6 258.8,147.8 258.9,150.8 259.0,148.8 259.1,145.7 259.2,149.7 259.2,148.5 259.3,149.8 259.4,149.2 259.5,148.8 259.6,148.7 259.6,151.9 259.7,151.4 259.8,151.1 259.9,152.9 260.0,148.6 260.0,149.4 260.1,146.2 260.2,153.2 260.3,147.4 260.4,150.5 260.4,148.2 260.5,149.6 260.6,144.5 260.7,145.5 260.8,147.8 260.8,146.8 260.9,146.9 261.0,148.1 261.1,149.2 261.2,150.0 261.2,147.4 261.3,146.5 261.4,148.6 261.5,150.2 261.6,146.8 261.6,147.9 261.7,150.3 261.8,149.0 261.9,145.4 262.0,151.5 262.0,146.5 262.1,148.8 262.2,147.3 262.3,150.0 262.4,146.0 262.4,150.3 262.5,148.8 262.6,148.2 262.7,150.3 262.8,145.5 262.8,146.4 262.9,146.2 263.0,148.1 263.1,147.6 263.2,147.0 263.2,149.4 263.3,149.1 263.4,147.6 263.5,146.1 263.6,151.5 263.6,148.8 263.7,147.4 263.8,148.5 263.9,148.8 264.0,147.3 264.0,149.4 264.1,148.5 264.2,147.5 264.3,149.9 264.4,147.0 264.4,150.2 264.5,148.4 264.6,147.9 264.7,150.0 264.8,147.7 264.8,149.0 264.9,150.2 265.0,147.6 265.1,147.3 265.2,149.3 265.2,149.6 265.3,144.9 265.4,148.9 265.5,149.8 265.6,147.3 265.6,149.6 265.7,147.6 265.8,147.2 265.9,147.6 266.0,148.0 266.0,147.6 266.1,147.3 266.2,148.1 266.3,149.3 266.4,145.1 266.4,149.7 266.5,150.2 266.6,146.5 266.7,147.9 266.8,148.7 266.8,148.2 266.9,150.8 267.0,148.2 267.1,147.2 267.2,147.4 267.2,148.5 267.3,146.9 267.4,147.1 267.5,147.2 267.6,150.6 267.6,149.0 267.7,146.3 267.8,148.8 267.9,144.6 268.0,148.1 268.0,149.0 268.1,148.6 268.2,148.9 268.3,148.4 268.4,147.1 268.4,147.8 268.5,147.7 268.6,145.9 268.7,148.2 268.8,146.6 268.8,149.1 268.9,151.5 269.0,151.4 269.1,151.5 269.2,147.6 269.2,147.5 269.3,149.2 269.4,146.8 269.5,148.4 269.6,147.4 269.6,148.7 269.7,147.6 269.8,150.6 269.9,150.0 270.0,149.5 270.0,146.4 270.1,150.1 270.2,147.6 270.3,146.2 270.4,148.7 270.4,149.9 270.5,146.0 270.6,149.5 270.7,147.9 270.8,148.0 270.8,149.1 270.9,147.8 271.0,147.3 271.1,150.0 271.2,144.6 271.2,149.8 271.3,146.4 271.4,150.2 271.5,146.5 271.6,150.4 271.6,145.7 271.7,151.1 271.8,148.6 271.9,148.0 272.0,147.9 272.0,149.9 272.1,148.1 272.2,149.3 272.3,148.6 272.4,146.9 272.4,151.0 272.5,148.2 272.6,148.9 272.7,148.8 272.8,148.5 272.8,151.0 272.9,149.0 273.0,148.0 273.1,148.6 273.2,143.7 273.2,146.7 273.3,150.1 273.4,147.0 273.5,150.3 273.6,148.6 273.6,149.7 273.7,148.4 273.8,148.0 273.9,151.6 274.0,147.9 274.0,147.1 274.1,149.1 274.2,150.6 274.3,146.6 274.4,147.7 274.4,149.8 274.5,149.9 274.6,149.4 274.7,147.9 274.8,148.9 274.8,147.5 274.9,149.2 275.0,148.6 275.1,149.0 275.2,148.2 275.2,149.6 275.3,148.6 275.4,147.4 275.5,150.7 275.6,148.9 275.6,148.2 275.7,148.3 275.8,150.8 275.9,148.7 276.0,149.0 276.0,147.4 276.1,148.1 276.2,147.7 276.3,147.3 276.4,147.0 276.4,148.1 276.5,146.6 276.6,149.5 276.7,149.7 276.8,147.2 276.8,149.2 276.9,147.5 277.0,149.0 277.1,149.2 277.2,146.0 277.2,145.0 277.3,149.2 277.4,149.2 277.5,148.4 277.6,147.7 277.6,147.4 277.7,145.0 277.8,150.6 277.9,145.1 278.0,148.8 278.0,148.1 278.1,148.9 278.2,146.6 278.3,150.6 278.4,149.1 278.4,146.8 278.5,148.6 278.6,146.5 278.7,148.7 278.8,149.1 278.8,148.5 278.9,149.2 279.0,146.8 279.1,147.7 279.2,148.0 279.2,150.5 279.3,147.6 279.4,148.5 279.5,150.2 279.6,148.8 279.6,149.8 279.7,147.0 279.8,149.9 279.9,148.5 280.0,149.3 280.0,149.5 280.1,145.7 280.2,150.2 280.3,147.9 280.4,150.2 280.4,148.2 280.5,148.9 280.6,146.3 280.7,146.9 280.8,150.1 280.8,147.4 280.9,149.0 281.0,148.6 281.1,147.0 281.2,148.4 281.2,148.5 281.3,149.6 281.4,148.1 281.5,147.9 281.6,150.8 281.6,150.9 281.7,148.9 281.8,147.4 281.9,149.5 282.0,148.1 282.0,151.0 282.1,148.9 282.2,148.0 282.3,148.5 282.4,147.6 282.4,148.9 282.5,147.2 282.6,149.4 282.7,150.3 282.8,149.8 282.8,147.8 282.9,149.7 283.0,148.5 283.1,147.0 283.2,149.0 283.2,150.5 283.3,149.5 283.4,148.7 283.5,148.3 283.6,149.1 283.6,150.0 283.7,149.5 283.8,151.0 283.9,150.5 284.0,150.8 284.0,149.0 284.1,150.1 284.2,149.5 284.3,150.1 284.4,150.0 284.4,153.2 284.5,147.9 284.6,150.2 284.7,148.9 284.8,150.3 284.8,150.1 284.9,152.0 285.0,146.7 285.1,148.8 285.2,150.3 285.2,150.2 285.3,146.7 285.4,152.6 285.5,148.6 285.6,152.2 285.6,151.8 285.7,152.0 285.8,150.3 285.9,148.8 286.0,149.0 286.0,151.9 286.1,149.4 286.2,150.7 286.3,149.6 286.4,149.4 286.4,151.6 286.5,148.9 286.6,150.0 286.7,149.9 286.8,150.5 286.8,150.2 286.9,148.9 287.0,149.8 287.1,149.9 287.2,153.3 287.2,151.6 287.3,150.3 287.4,150.7 287.5,150.1 287.6,152.9 287.6,150.3 287.7,149.1 287.8,154.0 287.9,149.4 288.0,149.8 288.0,149.2 288.1,151.2 288.2,149.7 288.3,150.7 288.4,152.1 288.4,152.8 288.5,151.2 288.6,149.2 288.7,151.5 288.8,149.9 288.8,151.2 288.9,151.2 289.0,149.1 289.1,152.1 289.2,150.9 289.2,150.8 289.3,149.4 289.4,152.3 289.5,149.9 289.6,151.1 289.6,149.5 289.7,149.2 289.8,149.2 289.9,148.6 290.0,150.4 290.0,152.9 290.1,152.6 290.2,149.7 290.3,149.9 290.4,153.3 290.4,152.2 290.5,151.1 290.6,150.5 290.7,150.5 290.8,152.2 290.8,150.2 290.9,154.2 291.0,153.5 291.1,150.7 291.2,152.3 291.2,152.0 291.3,150.3 291.4,149.9 291.5,150.3 291.6,151.5 291.6,153.1 291.7,151.6 291.8,148.4 291.9,150.9 292.0,153.1 292.0,153.7 292.1,153.8 292.2,151.0 292.3,151.8 292.4,152.2 292.4,153.1 292.5,152.8 292.6,150.2 292.7,151.2 292.8,150.8 292.8,152.3 292.9,149.8 293.0,148.8 293.1,151.5 293.2,150.7 293.2,150.8 293.3,151.3 293.4,150.1 293.5,151.6 293.6,149.8 293.6,149.8 293.7,152.3 293.8,151.1 293.9,153.1 294.0,152.0 294.0,150.5 294.1,150.7 294.2,150.1 294.3,151.6 294.4,152.4 294.4,151.6 294.5,151.9 294.6,150.2 294.7,153.4 294.8,152.5 294.8,153.1 294.9,150.0 295.0,151.3 295.1,151.0 295.2,153.9 295.2,151.4 295.3,155.0 295.4,152.3 295.5,150.9 295.6,153.5 295.6,154.2 295.7,151.5 295.8,150.9 295.9,151.7 296.0,150.1 296.0,150.3 296.1,148.7 296.2,151.0 296.3,149.9 296.4,152.0 296.4,150.8 296.5,153.3 296.6,152.2 296.7,151.9 296.8,153.7 296.8,150.9 296.9,148.8 297.0,149.9 297.1,151.3 297.2,152.7 297.2,153.4 297.3,150.5 297.4,153.5 297.5,152.5 297.6,152.9 297.6,150.5 297.7,151.6 297.8,148.9 297.9,152.1 298.0,151.4 298.0,153.0 298.1,153.6 298.2,150.7 298.3,153.3 298.4,153.6 298.4,151.7 298.5,154.8 298.6,151.0 298.7,150.0 298.8,152.1 298.8,154.6 298.9,152.9 299.0,149.6 299.1,151.4 299.2,156.0 299.2,151.1 299.3,152.0 299.4,150.7 299.5,155.0 299.6,154.7 299.6,150.4 299.7,149.6 299.8,153.1 299.9,152.9 300.0,152.3 300.0,152.5 300.1,151.9 300.2,153.6 300.3,149.2 300.4,154.2 300.4,153.6 300.5,151.6 300.6,151.8 300.7,152.0 300.8,152.6 300.8,151.4 300.9,151.2 301.0,152.1 301.1,151.8 301.2,152.2 301.2,152.6 301.3,154.4 301.4,151.7 301.5,152.6 301.6,152.0 301.6,149.8 301.7,153.2 301.8,149.6 301.9,152.7 302.0,152.0 302.0,150.6 302.1,153.1 302.2,153.8 302.3,152.8 302.4,153.0 302.4,151.1 302.5,153.0 302.6,154.5 302.7,150.8 302.8,155.6 302.8,149.8 302.9,153.7 303.0,151.6 303.1,152.8 303.2,152.4 303.2,152.5 303.3,153.9 303.4,152.0 303.5,152.8 303.6,152.6 303.6,152.3 303.7,149.4 303.8,151.7 303.9,151.7 304.0,151.2 304.0,153.4 304.1,152.7 304.2,151.4 304.3,148.2 304.4,150.5 304.4,151.8 304.5,155.3 304.6,150.1 304.7,155.3 304.8,152.5 304.8,152.3 304.9,151.8 305.0,150.8 305.1,153.5 305.2,152.1 305.2,151.6 305.3,152.5 305.4,154.9 305.5,151.9 305.6,152.4 305.6,154.6 305.7,151.1 305.8,153.9 305.9,156.2 306.0,152.6 306.0,150.3 306.1,154.1 306.2,152.2 306.3,154.6 306.4,153.5 306.4,153.1 306.5,151.4 306.6,154.5 306.7,153.4 306.8,153.4 306.8,153.5 306.9,153.5 307.0,153.1 307.1,152.7 307.2,150.5 307.2,152.0 307.3,152.3 307.4,154.5 307.5,154.4 307.6,151.5 307.6,152.2 307.7,152.0 307.8,153.4 307.9,153.3 308.0,153.8 308.0,152.0 308.1,152.5 308.2,156.0 308.3,151.3 308.4,155.1 308.4,154.1 308.5,154.4 308.6,153.2 308.7,153.1 308.8,154.2 308.8,152.9 308.9,153.0 309.0,152.7 309.1,153.7 309.2,153.0 309.2,152.7 309.3,154.0 309.4,153.4 309.5,151.2 309.6,153.1 309.6,155.2 309.7,153.7 309.8,155.4 309.9,150.7 310.0,153.7"/>
<polyline fill="none" stroke="#f50000" stroke-width="1.7" stroke-linejoin="round" points="35.4,95.6 35.5,94.7 35.6,96.7 35.6,96.0 35.7,96.1 35.8,96.3 35.9,95.0 36.0,94.2 36.0,96.4 36.1,94.8 36.2,94.4 36.3,97.3 36.4,93.0 36.4,96.0 36.5,96.5 36.6,94.2 36.7,93.7 36.8,94.9 36.8,93.2 36.9,91.5 37.0,95.5 37.1,96.1 37.2,92.0 37.2,94.6 37.3,93.8 37.4,93.4 37.5,94.3 37.6,92.6 37.6,92.7 37.7,93.2 37.8,93.3 37.9,89.6 38.0,94.2 38.0,93.3 38.1,93.9 38.2,92.1 38.3,90.7 38.4,92.8 38.4,92.6 38.5,93.1 38.6,92.6 38.7,90.4 38.8,89.9 38.8,91.0 38.9,91.7 39.0,91.0 39.1,90.2 39.2,91.0 39.2,88.2 39.3,90.4 39.4,87.5 39.5,92.6 39.6,87.8 39.6,92.5 39.7,91.2 39.8,91.3 39.9,90.8 40.0,89.2 40.0,89.6 40.1,91.4 40.2,88.0 40.3,88.9 40.4,90.2 40.4,88.1 40.5,90.9 40.6,87.2 40.7,87.6 40.8,88.5 40.8,87.3 40.9,87.8 41.0,88.0 41.1,87.6 41.2,88.1 41.2,88.1 41.3,87.9 41.4,87.6 41.5,87.3 41.6,87.5 41.6,87.4 41.7,87.8 41.8,88.7 41.9,85.8 42.0,88.6 42.0,87.3 42.1,87.4 42.2,85.5 42.3,86.3 42.4,86.2 42.4,85.4 42.5,86.4 42.6,84.2 42.7,84.4 42.8,86.2 42.8,85.6 42.9,83.3 43.0,85.4 43.1,85.0 43.2,85.6 43.2,84.5 43.3,84.5 43.4,83.3 43.5,84.2 43.6,83.8 43.6,84.8 43.7,81.5 43.8,84.0 43.9,85.4 44.0,80.8 44.0,84.7 44.1,84.3 44.2,83.8 44.3,84.0 44.4,82.6 44.4,84.5 44.5,83.7 44.6,81.0 44.7,84.0 44.8,81.7 44.8,81.8 44.9,83.4 45.0,82.4 45.1,83.0 45.2,83.1 45.2,82.6 45.3,83.1 45.4,80.8 45.5,84.5 45.6,83.5 45.6,81.7 45.7,82.2 45.8,84.0 45.9,81.3 46.0,80.5 46.0,84.6 46.1,83.7 46.2,82.7 46.3,84.0 46.4,82.7 46.4,83.0 46.5,82.8 46.6,83.0 46.7,81.2 46.8,82.2 46.8,82.5 46.9,81.0 47.0,80.8 47.1,82.1 47.2,84.0 47.2,82.1 47.3,83.4 47.4,83.7 47.5,83.8 47.6,83.0 47.6,80.4 47.7,79.9 47.8,81.1 47.9,82.1 48.0,82.3 48.0,81.9 48.1,82.1 48.2,83.3 48.3,81.2 48.4,83.4 48.4,83.4 48.5,80.6 48.6,83.0 48.7,82.8 48.8,83.6 48.8,83.5 48.9,80.2 49.0,85.5 49.1,83.3 49.2,84.4 49.2,84.4 49.3,82.0 49.4,83.3 49.5,83.1 49.6,86.4 49.6,81.7 49.7,85.6 49.8,84.8 49.9,83.6 50.0,82.5 50.0,83.6 50.1,84.6 50.2,82.9 50.3,84.3 50.4,84.7 50.4,84.9 50.5,83.9 50.6,85.0 50.7,85.2 50.8,82.3 50.8,83.3 50.9,83.1 51.0,84.0 51.1,85.8 51.2,85.6 51.2,85.6 51.3,84.6 51.4,86.5 51.5,83.6 51.6,83.9 51.6,86.5 51.7,85.5 51.8,87.2 51.9,87.1 52.0,87.4 52.0,85.3 52.1,85.7 52.2,84.4 52.3,86.7 52.4,86.8 52.4,86.1 52.5,86.7 52.6,87.4 52.7,88.5 52.8,86.7 52.8,86.7 52.9,87.5 53.0,88.5 53.1,90.2 53.2,89.2 53.2,85.4 53.3,86.2 53.4,87.4 53.5,85.8 53.6,89.4 53.6,87.6 53.7,87.3 53.8,88.7 53.9,89.3 54.0,88.6 54.0,89.1 54.1,90.4 54.2,88.0 54.3,89.4 54.4,87.1 54.4,88.0 54.5,91.0 54.6,88.8 54.7,88.6 54.8,91.0 54.8,89.4 54.9,91.4 55.0,92.8 55.1,93.3 55.2,90.1 55.2,91.0 55.3,89.8 55.4,93.0 55.5,91.5 55.6,94.0 55.6,90.3 55.7,91.0 55.8,88.2 55.9,90.3 56.0,90.4 56.0,92.0 56.1,92.7 56.2,90.5 56.3,91.4 56.4,92.5 56.4,91.7 56.5,92.7 56.6,94.0 56.7,91.2 56.8,92.5 56.8,93.7 56.9,92.4 57.0,94.5 57.1,92.0 57.2,94.0 57.2,93.0 57.3,93.5 57.4,91.9 57.5,94.3 57.6,91.4 57.6,94.5 57.7,93.2 57.8,93.6 57.9,95.1 58.0,91.5 58.0,94.5 58.1,94.1 58.2,93.0 58.3,94.8 58.4,93.8 58.4,96.4 58.5,93.3 58.6,96.2 58.7,96.0 58.8,94.7 58.8,93.4 58.9,94.4 59.0,92.8 59.1,93.6 59.2,93.9 59.2,95.2 59.3,93.0 59.4,95.5 59.5,94.4 59.6,96.3 59.6,95.9 59.7,94.4 59.8,95.6 59.9,95.7 60.0,94.8 60.0,95.2 60.1,95.5 60.2,94.4 60.3,94.2 60.4,96.2 60.4,93.6 60.5,96.7 60.6,97.3 60.7,95.7 60.8,96.9 60.8,95.4 60.9,97.4 61.0,99.7 61.1,97.3 61.2,96.7 61.2,96.8 61.3,95.1 61.4,96.1 61.5,96.7 61.6,96.4 61.6,97.4 61.7,99.0 61.8,95.6 61.9,96.7 62.0,97.8 62.0,96.1 62.1,96.6 62.2,98.4 62.3,98.6 62.4,98.4 62.4,96.8 62.5,98.8 62.6,99.2 62.7,97.7 62.8,98.4 62.8,98.1 62.9,98.2 63.0,97.9 63.1,99.1 63.2,97.7 63.2,100.9 63.3,99.7 63.4,98.6 63.5,101.7 63.6,99.3 63.6,96.4 63.7,100.6 63.8,100.1 63.9,99.3 64.0,99.5 64.0,98.7 64.1,98.0 64.2,98.2 64.3,102.6 64.4,98.9 64.4,99.9 64.5,102.1 64.6,99.0 64.7,99.8 64.8,99.4 64.8,98.1 64.9,100.7 65.0,100.9 65.1,99.9 65.2,99.9 65.2,101.1 65.3,101.2 65.4,102.9 65.5,101.3 65.6,102.1 65.6,99.7 65.7,98.8 65.8,102.3 65.9,99.6 66.0,101.6 66.0,100.9 66.1,99.8 66.2,101.2 66.3,103.2 66.4,102.8 66.4,100.4 66.5,100.7 66.6,98.4 66.7,99.6 66.8,100.4 66.8,101.2 66.9,101.8 67.0,100.7 67.1,103.0 67.2,100.2 67.2,102.4 67.3,100.2 67.4,101.1 67.5,101.8 67.6,102.7 67.6,100.8 67.7,101.2 67.8,101.5 67.9,102.2 68.0,103.8 68.0,102.8 68.1,101.5 68.2,101.6 68.3,103.7 68.4,103.9 68.4,103.5 68.5,102.2 68.6,101.0 68.7,101.3 68.8,102.5 68.8,101.0 68.9,102.2 69.0,105.2 69.1,103.0 69.2,103.6 69.2,101.3 69.3,104.4 69.4,102.2 69.5,102.8 69.6,103.0 69.6,103.5 69.7,102.2 69.8,103.7 69.9,105.6 70.0,102.6 70.0,104.2 70.1,101.8 70.2,103.6 70.3,102.5 70.4,105.1 70.4,102.8 70.5,104.2 70.6,103.6 70.7,102.0 70.8,103.7 70.8,103.7 70.9,104.7 71.0,103.5 71.1,101.6 71.2,102.6 71.2,103.3 71.3,104.9 71.4,103.6 71.5,105.3 71.6,103.8 71.6,104.7 71.7,105.6 71.8,104.6 71.9,102.2 72.0,106.0 72.0,104.2 72.1,105.6 72.2,101.5 72.3,104.7 72.4,104.7 72.4,104.2 72.5,104.7 72.6,103.6 72.7,103.8 72.8,105.6 72.8,104.8 72.9,106.1 73.0,105.7 73.1,104.4 73.2,105.4 73.2,105.0 73.3,106.1 73.4,107.6 73.5,105.6 73.6,105.0 73.6,108.4 73.7,105.4 73.8,104.9 73.9,105.4 74.0,103.2 74.0,107.9 74.1,107.4 74.2,107.4 74.3,106.8 74.4,105.9 74.4,105.6 74.5,105.3 74.6,107.2 74.7,107.5 74.8,107.4 74.8,105.2 74.9,108.9 75.0,105.6 75.1,108.0 75.2,106.6 75.2,106.1 75.3,104.0 75.4,105.3 75.5,106.1 75.6,108.0 75.6,106.3 75.7,107.3 75.8,105.4 75.9,106.5 76.0,108.5 76.0,109.3 76.1,107.5 76.2,107.8 76.3,107.3 76.4,107.0 76.4,107.3 76.5,108.5 76.6,106.3 76.7,105.8 76.8,108.0 76.8,106.5 76.9,107.8 77.0,106.0 77.1,110.6 77.2,106.8 77.2,106.7 77.3,108.3 77.4,106.6 77.5,104.4 77.6,105.9 77.6,107.2 77.7,109.6 77.8,107.0 77.9,106.0 78.0,106.8 78.0,108.9 78.1,108.1 78.2,108.3 78.3,108.4 78.4,109.7 78.4,106.0 78.5,109.5 78.6,108.6 78.7,106.6 78.8,108.8 78.8,109.6 78.9,107.6 79.0,109.2 79.1,105.1 79.2,106.0 79.2,108.6 79.3,108.7 79.4,108.9 79.5,108.7 79.6,109.2 79.6,106.2 79.7,106.2 79.8,109.6 79.9,108.6 80.0,108.2 80.0,108.0 80.1,110.4 80.2,107.3 80.3,108.8 80.4,110.2 80.4,107.6 80.5,107.6 80.6,107.9 80.7,105.8 80.8,109.9 80.8,109.7 80.9,110.8 81.0,108.5 81.1,109.1 81.2,109.5 81.2,110.8 81.3,109.1 81.4,109.3 81.5,107.8 81.6,109.2 81.6,108.7 81.7,110.1 81.8,109.7 81.9,107.3 82.0,107.4 82.0,109.3 82.1,108.3 82.2,109.3 82.3,110.4 82.4,107.3 82.4,109.4 82.5,107.7 82.6,108.9 82.7,108.8 82.8,107.6 82.8,106.0 82.9,108.5 83.0,107.4 83.1,109.3 83.2,109.2 83.2,110.3 83.3,109.8 83.4,106.6 83.5,106.9 83.6,108.0 83.6,109.0 83.7,109.5 83.8,108.3 83.9,109.7 84.0,108.0 84.0,110.7 84.1,108.7 84.2,108.7 84.3,108.8 84.4,109.5 84.4,111.4 84.5,109.8 84.6,110.8 84.7,108.6 84.8,110.5 84.8,110.6 84.9,111.0 85.0,108.5 85.1,108.6 85.2,109.8 85.2,110.6 85.3,108.7 85.4,110.1 85.5,111.9 85.6,107.3 85.6,108.2 85.7,109.7 85.8,110.6 85.9,109.9 86.0,110.7 86.0,111.9 86.1,109.5 86.2,109.0 86.3,112.0 86.4,108.0 86.4,111.3 86.5,111.9 86.6,110.6 86.7,109.6 86.8,110.5 86.8,109.6 86.9,113.0 87.0,111.2 87.1,110.5 87.2,111.0 87.2,111.1 87.3,111.9 87.4,110.9 87.5,109.5 87.6,110.2 87.6,109.2 87.7,108.8 87.8,111.0 87.9,109.9 88.0,110.5 88.0,111.5 88.1,111.9 88.2,110.9 88.3,110.1 88.4,111.7 88.4,109.8 88.5,112.8 88.6,110.3 88.7,112.4 88.8,109.6 88.8,112.0 88.9,111.6 89.0,110.8 89.1,112.4 89.2,111.8 89.2,111.2 89.3,111.0 89.4,111.8 89.5,111.4 89.6,110.2 89.6,110.3 89.7,111.0 89.8,109.7 89.9,108.7 90.0,112.4 90.0,110.6 90.1,114.2 90.2,111.7 90.3,112.5 90.4,112.4 90.4,111.5 90.5,111.0 90.6,109.4 90.7,110.1 90.8,109.8 90.8,109.7 90.9,109.6 91.0,111.9 91.1,109.1 91.2,113.7 91.2,110.6 91.3,112.2 91.4,112.1 91.5,112.3 91.6,111.7 91.6,111.5 91.7,112.0 91.8,113.0 91.9,112.8 92.0,112.1 92.0,110.0 92.1,110.8 92.2,112.1 92.3,113.5 92.4,113.9 92.4,111.3 92.5,112.4 92.6,111.3 92.7,110.9 92.8,112.2 92.8,112.9 92.9,112.5 93.0,109.1 93.1,113.7 93.2,109.5 93.2,113.6 93.3,114.1 93.4,115.1 93.5,110.4 93.6,111.6 93.6,112.5 93.7,112.9 93.8,111.7 93.9,113.8 94.0,111.8 94.0,112.4 94.1,112.4 94.2,113.4 94.3,115.0 94.4,110.4 94.4,113.5 94.5,111.2 94.6,111.3 94.7,111.6 94.8,112.2 94.8,113.3 94.9,113.3 95.0,110.7 95.1,112.5 95.2,114.0 95.2,113.8 95.3,112.9 95.4,111.7 95.5,113.4 95.6,112.3 95.6,110.9 95.7,109.5 95.8,113.3 95.9,114.2 96.0,115.3 96.0,114.4 96.1,113.3 96.2,112.6 96.3,113.0 96.4,113.6 96.4,111.2 96.5,112.9 96.6,112.2 96.7,113.6 96.8,113.6 96.8,109.9 96.9,110.6 97.0,112.7 97.1,113.4 97.2,111.6 97.2,112.9 97.3,112.7 97.4,112.0 97.5,111.9 97.6,113.2 97.6,114.3 97.7,113.3 97.8,113.5 97.9,113.0 98.0,112.0 98.0,112.0 98.1,111.5 98.2,113.0 98.3,116.7 98.4,112.4 98.4,110.4 98.5,112.9 98.6,111.4 98.7,112.2 98.8,114.2 98.8,111.7 98.9,112.3 99.0,112.9 99.1,116.8 99.2,111.4 99.2,113.0 99.3,110.4 99.4,111.9 99.5,112.4 99.6,111.1 99.6,113.5 99.7,113.1 99.8,111.8 99.9,112.9 100.0,111.9 100.0,112.4 100.1,112.5 100.2,114.5 100.3,111.7 100.4,113.5 100.4,116.7 100.5,113.0 100.6,113.7 100.7,115.5 100.8,111.5 100.8,111.5 100.9,113.7 101.0,113.0 101.1,115.0 101.2,112.3 101.2,113.2 101.3,113.9 101.4,110.3 101.5,114.9 101.6,113.2 101.6,112.0 101.7,112.4 101.8,112.5 101.9,114.8 102.0,112.1 102.0,114.8 102.1,112.5 102.2,113.7 102.3,112.8 102.4,113.2 102.4,114.4 102.5,113.1 102.6,112.5 102.7,114.3 102.8,115.5 102.8,113.0 102.9,112.9 103.0,112.5 103.1,111.6 103.2,112.3 103.2,113.5 103.3,112.4 103.4,113.4 103.5,113.3 103.6,113.7 103.6,114.7 103.7,112.9 103.8,111.3 103.9,113.2 104.0,113.5 104.0,114.9 104.1,112.8 104.2,111.9 104.3,111.6 104.4,113.4 104.4,112.3 104.5,113.8 104.6,114.2 104.7,112.5 104.8,113.2 104.8,112.5 104.9,113.1 105.0,110.7 105.1,111.2 105.2,114.1 105.2,110.4 105.3,110.9 105.4,112.6 105.5,111.0 105.6,111.5 105.6,111.0 105.7,113.1 105.8,111.6 105.9,112.9 106.0,111.7 106.0,110.4 106.1,111.4 106.2,110.2 106.3,111.5 106.4,109.9 106.4,111.2 106.5,110.7 106.6,110.8 106.7,110.1 106.8,109.8 106.8,109.2 106.9,108.7 107.0,108.2 107.1,107.8 107.2,107.2 107.2,107.0 107.3,105.9 107.4,104.8 107.5,104.2 107.6,103.0 107.6,101.7 107.7,100.7 107.8,99.2 107.9,98.0 108.0,96.4 108.0,95.2 108.1,92.9 108.2,91.7 108.3,89.5 108.4,88.7 108.4,86.1 108.5,85.1 108.6,82.9 108.7,81.5 108.8,79.7 108.8,78.4 108.9,77.3 109.0,76.1 109.1,75.4 109.2,74.7 109.2,74.6 109.3,74.5 109.4,74.5 109.5,75.1 109.6,75.9 109.6,77.0 109.7,77.9 109.8,79.1 109.9,80.9 110.0,82.2 110.0,84.0 110.1,85.7 110.2,87.2 110.3,88.6 110.4,91.5 110.4,92.8 110.5,94.5 110.6,96.0 110.7,97.7 110.8,98.9 110.8,100.3 110.9,101.6 111.0,102.7 111.1,104.1 111.2,104.8 111.2,106.4 111.3,106.8 111.4,107.5 111.5,108.2 111.6,109.2 111.6,108.9 111.7,109.9 111.8,110.8 111.9,111.0 112.0,111.1 112.0,111.1 112.1,112.4 112.2,111.5 112.3,112.8 112.4,111.6 112.4,111.3 112.5,112.3 112.6,112.1 112.7,111.0 112.8,112.5 112.8,114.4 112.9,112.6 113.0,113.1 113.1,112.8 113.2,112.8 113.2,113.1 113.3,113.0 113.4,112.9 113.5,113.2 113.6,113.2 113.6,113.0 113.7,111.4 113.8,112.0 113.9,111.6 114.0,112.4 114.0,114.2 114.1,112.9 114.2,112.1 114.3,114.7 114.4,113.3 114.4,111.5 114.5,112.9 114.6,113.5 114.7,113.4 114.8,111.4 114.8,112.3 114.9,111.2 115.0,110.4 115.1,112.4 115.2,109.6 115.2,111.5 115.3,112.7 115.4,112.2 115.5,111.4 115.6,111.8 115.6,111.4 115.7,112.6 115.8,111.6 115.9,111.8 116.0,110.1 116.0,110.6 116.1,110.1 116.2,111.6 116.3,111.3 116.4,110.4 116.4,111.1 116.5,110.1 116.6,109.7 116.7,110.4 116.8,110.0 116.8,112.2 116.9,107.9 117.0,110.4 117.1,108.0 117.2,109.9 117.2,107.6 117.3,106.5 117.4,110.5 117.5,108.1 117.6,110.3 117.6,107.1 117.7,106.8 117.8,109.3 117.9,106.8 118.0,107.5 118.0,106.1 118.1,106.8 118.2,104.1 118.3,106.3 118.4,106.4 118.4,107.6 118.5,107.5 118.6,106.0 118.7,106.1 118.8,105.8 118.8,108.4 118.9,104.7 119.0,106.5 119.1,105.4 119.2,103.6 119.2,105.7 119.3,106.3 119.4,105.1 119.5,103.1 119.6,105.1 119.6,105.0 119.7,103.5 119.8,105.1 119.9,101.7 120.0,102.1 120.0,103.0 120.1,103.3 120.2,104.3 120.3,104.2 120.4,101.8 120.4,104.0 120.5,104.5 120.6,103.4 120.7,102.0 120.8,101.7 120.8,100.8 120.9,99.1 121.0,100.5 121.1,99.5 121.2,101.4 121.2,101.2 121.3,101.4 121.4,101.1 121.5,101.2 121.6,99.7 121.6,99.7 121.7,100.6 121.8,101.8 121.9,97.4 122.0,98.1 122.0,99.0 122.1,97.9 122.2,98.3 122.3,98.9 122.4,97.7 122.4,99.5 122.5,99.3 122.6,99.2 122.7,98.6 122.8,98.9 122.8,94.8 122.9,98.6 123.0,96.3 123.1,100.1 123.2,96.3 123.2,97.5 123.3,94.9 123.4,95.2 123.5,96.9 123.6,97.0 123.6,98.3 123.7,97.3 123.8,97.7 123.9,98.5 124.0,93.7 124.0,97.5 124.1,94.3 124.2,95.7 124.3,95.0 124.4,96.1 124.4,95.9 124.5,95.4 124.6,93.9 124.7,91.9 124.8,94.3 124.8,94.0 124.9,94.0 125.0,94.5 125.1,96.1 125.2,94.9 125.2,93.9 125.3,92.5 125.4,91.5 125.5,94.8 125.6,93.6 125.6,92.7 125.7,90.5 125.8,91.9 125.9,93.0 126.0,92.6 126.0,91.4 126.1,92.0 126.2,91.3 126.3,91.0 126.4,93.1 126.4,92.1 126.5,91.5 126.6,90.4 126.7,92.5 126.8,89.0 126.8,90.9 126.9,89.1 127.0,87.8 127.1,89.6 127.2,87.5 127.2,89.5 127.3,88.0 127.4,89.5 127.5,88.8 127.6,87.4 127.6,88.5 127.7,87.9 127.8,90.5 127.9,90.3 128.0,89.4 128.0,89.4 128.1,91.1 128.2,88.4 128.3,88.1 128.4,89.8 128.4,88.4 128.5,86.3 128.6,89.3 128.7,87.4 128.8,88.8 128.8,88.7 128.9,86.2 129.0,86.6 129.1,87.1 129.2,84.7 129.2,85.0 129.3,86.1 129.4,85.8 129.5,84.6 129.6,85.4 129.6,85.8 129.7,84.5 129.8,84.3 129.9,84.8 130.0,83.7 130.0,83.8 130.1,84.2 130.2,82.5 130.3,83.8 130.4,84.5 130.4,83.2 130.5,85.2 130.6,84.3 130.7,85.2 130.8,83.8 130.8,84.4 130.9,83.7 131.0,82.7 131.1,84.2 131.2,83.0 131.2,84.0 131.3,82.7 131.4,83.5 131.5,83.3 131.6,84.4 131.6,83.3 131.7,84.3 131.8,83.9 131.9,84.6 132.0,83.4 132.0,84.4 132.1,84.4 132.2,84.4 132.3,84.2 132.4,85.2 132.4,83.2 132.5,85.0 132.6,84.1 132.7,85.1 132.8,85.6 132.8,85.3 132.9,84.9 133.0,84.5 133.1,84.2 133.2,85.1 133.2,86.4 133.3,84.6 133.4,88.6 133.5,86.5 133.6,85.9 133.6,88.1 133.7,88.5 133.8,87.9 133.9,86.8 134.0,88.0 134.0,89.6 134.1,89.3 134.2,86.1 134.3,89.8 134.4,91.1 134.4,88.4 134.5,87.4 134.6,88.9 134.7,90.0 134.8,89.9 134.8,90.1 134.9,88.1 135.0,90.0 135.1,90.1 135.2,91.0 135.2,92.5 135.3,90.6 135.4,92.9 135.5,93.4 135.6,93.2 135.6,91.6 135.7,94.0 135.8,92.1 135.9,92.5 136.0,91.1 136.0,92.0 136.1,92.3 136.2,95.3 136.3,94.2 136.4,94.4 136.4,93.7 136.5,93.9 136.6,93.3 136.7,94.3 136.8,96.8 136.8,94.9 136.9,98.1 137.0,96.4 137.1,95.4 137.2,97.8 137.2,96.3 137.3,97.8 137.4,96.1 137.5,98.8 137.6,97.7 137.6,97.6 137.7,98.8 137.8,97.1 137.9,95.4 138.0,97.1 138.0,99.5 138.1,100.4 138.2,97.1 138.3,99.6 138.4,99.8 138.4,97.8 138.5,97.5 138.6,101.7 138.7,100.4 138.8,99.7 138.8,100.9 138.9,98.6 139.0,101.0 139.1,100.6 139.2,100.6 139.2,102.4 139.3,101.3 139.4,101.5 139.5,101.0 139.6,100.8 139.6,101.7 139.7,103.9 139.8,99.7 139.9,101.0 140.0,101.7 140.0,103.4 140.1,101.9 140.2,103.6 140.3,100.4 140.4,101.8 140.4,104.2 140.5,100.8 140.6,104.0 140.7,105.4 140.8,104.8 140.8,105.0 140.9,103.1 141.0,103.6 141.1,105.8 141.2,105.0 141.2,107.0 141.3,105.5 141.4,105.3 141.5,105.2 141.6,107.3 141.6,106.8 141.7,105.0 141.8,106.5 141.9,104.8 142.0,107.3 142.0,105.9 142.1,108.2 142.2,108.4 142.3,107.7 142.4,104.7 142.4,106.2 142.5,107.4 142.6,107.5 142.7,107.8 142.8,108.8 142.8,106.6 142.9,106.0 143.0,106.0 143.1,109.4 143.2,109.3 143.2,107.6 143.3,108.2 143.4,110.2 143.5,108.1 143.6,109.6 143.6,109.9 143.7,109.3 143.8,110.2 143.9,110.7 144.0,108.8 144.0,107.3 144.1,109.4 144.2,107.8 144.3,107.6 144.4,110.8 144.4,108.8 144.5,109.6 144.6,110.5 144.7,109.2 144.8,111.3 144.8,113.1 144.9,109.6 145.0,110.8 145.1,108.1 145.2,109.9 145.2,113.5 145.3,111.2 145.4,110.8 145.5,112.1 145.6,111.2 145.6,113.7 145.7,111.7 145.8,111.1 145.9,111.7 146.0,109.2 146.0,112.9 146.1,113.2 146.2,110.0 146.3,109.7 146.4,111.9 146.4,113.1 146.5,115.0 146.6,111.9 146.7,112.1 146.8,113.2 146.8,115.1 146.9,112.3 147.0,113.1 147.1,112.7 147.2,115.1 147.2,116.0 147.3,116.9 147.4,116.4 147.5,115.5 147.6,113.7 147.6,115.2 147.7,116.3 147.8,115.9 147.9,113.8 148.0,114.6 148.0,114.6 148.1,116.5 148.2,115.7 148.3,114.9 148.4,116.4 148.4,116.2 148.5,114.9 148.6,117.2 148.7,116.1 148.8,115.9 148.8,114.9 148.9,116.4 149.0,117.0 149.1,113.6 149.2,115.6 149.2,116.2 149.3,117.3 149.4,115.1 149.5,119.4 149.6,116.6 149.6,115.9 149.7,116.9 149.8,118.2 149.9,117.2 150.0,116.4 150.0,117.7 150.1,117.9 150.2,117.7 150.3,116.4 150.4,118.1 150.4,120.7 150.5,117.6 150.6,118.2 150.7,115.4 150.8,118.1 150.8,118.5 150.9,117.6 151.0,118.1 151.1,117.0 151.2,119.4 151.2,118.5 151.3,116.9 151.4,118.1 151.5,119.0 151.6,118.9 151.6,121.9 151.7,118.6 151.8,119.0 151.9,117.7 152.0,119.7 152.0,117.8 152.1,119.7 152.2,118.2 152.3,118.0 152.4,118.1 152.4,122.0 152.5,117.8 152.6,120.8 152.7,119.5 152.8,117.8 152.8,119.2 152.9,118.6 153.0,120.1 153.1,121.3 153.2,122.5 153.2,119.1 153.3,119.1 153.4,119.1 153.5,120.0 153.6,122.2 153.6,122.5 153.7,120.0 153.8,119.8 153.9,117.3 154.0,120.5 154.0,119.0 154.1,123.5 154.2,121.3 154.3,120.0 154.4,121.2 154.4,123.2 154.5,121.1 154.6,121.7 154.7,118.2 154.8,119.7 154.8,119.1 154.9,121.4 155.0,118.9 155.1,118.6 155.2,120.3 155.2,120.7 155.3,121.7 155.4,123.1 155.5,122.7 155.6,121.3 155.6,121.4 155.7,118.7 155.8,122.8 155.9,120.1 156.0,120.7 156.0,121.2 156.1,120.0 156.2,121.0 156.3,122.6 156.4,123.2 156.4,124.0 156.5,122.6 156.6,120.8 156.7,122.1 156.8,120.1 156.8,118.7 156.9,122.2 157.0,120.9 157.1,120.9 157.2,120.1 157.2,124.2 157.3,121.8 157.4,123.4 157.5,121.9 157.6,122.1 157.6,122.0 157.7,123.9 157.8,119.2 157.9,121.4 158.0,120.9 158.0,122.4 158.1,121.1 158.2,121.9 158.3,121.1 158.4,120.7 158.4,122.5 158.5,123.4 158.6,122.4 158.7,120.1 158.8,120.9 158.8,123.1 158.9,121.5 159.0,123.2 159.1,122.2 159.2,124.1 159.2,120.8 159.3,122.5 159.4,123.4 159.5,122.9 159.6,120.5 159.6,121.1 159.7,121.7 159.8,120.5 159.9,121.6 160.0,121.6 160.0,121.8 160.1,121.8 160.2,121.3 160.3,123.5 160.4,123.8 160.4,122.2 160.5,124.2 160.6,124.2 160.7,122.0 160.8,124.9 160.8,124.6 160.9,123.8 161.0,122.2 161.1,123.1 161.2,122.0 161.2,123.7 161.3,122.3 161.4,121.2 161.5,121.2 161.6,119.0 161.6,121.5 161.7,123.4 161.8,123.8 161.9,123.0 162.0,122.3 162.0,122.4 162.1,122.1 162.2,121.7 162.3,123.4 162.4,122.0 162.4,123.5 162.5,121.5 162.6,120.9 162.7,123.2 162.8,125.9 162.8,122.9 162.9,121.7 163.0,124.8 163.1,122.9 163.2,122.4 163.2,121.2 163.3,123.8 163.4,122.2 163.5,121.7 163.6,122.4 163.6,124.3 163.7,123.9 163.8,121.3 163.9,120.1 164.0,124.9 164.0,122.9 164.1,125.5 164.2,123.3 164.3,123.5 164.4,122.7 164.4,122.8 164.5,123.1 164.6,122.8 164.7,124.9 164.8,122.5 164.8,122.2 164.9,124.3 165.0,121.4 165.1,122.3 165.2,122.7 165.2,120.6 165.3,123.2 165.4,122.4 165.5,123.7 165.6,122.9 165.6,120.8 165.7,118.8 165.8,121.4 165.9,122.1 166.0,122.2 166.0,122.1 166.1,123.2 166.2,120.7 166.3,121.6 166.4,124.4 166.4,122.3 166.5,122.4 166.6,123.4 166.7,120.6 166.8,122.8 166.8,122.2 166.9,121.3 167.0,122.6 167.1,124.3 167.2,122.7 167.2,122.1 167.3,124.5 167.4,123.1 167.5,125.0 167.6,124.1 167.6,122.5 167.7,121.4 167.8,121.8 167.9,123.8 168.0,120.4 168.0,125.4 168.1,119.2 168.2,122.7 168.3,123.6 168.4,120.8 168.4,119.1 168.5,121.2 168.6,121.3 168.7,123.1 168.8,121.8 168.8,122.2 168.9,121.6 169.0,123.9 169.1,121.2 169.2,121.5 169.2,122.1 169.3,125.1 169.4,118.9 169.5,118.9 169.6,120.8 169.6,120.4 169.7,121.5 169.8,122.7 169.9,122.5 170.0,121.3 170.0,120.6 170.1,121.3 170.2,120.6 170.3,124.3 170.4,123.3 170.4,121.4 170.5,122.5 170.6,120.9 170.7,121.5 170.8,121.7 170.8,118.7 170.9,121.5 171.0,120.6 171.1,122.1 171.2,120.0 171.2,120.6 171.3,122.2 171.4,123.5 171.5,122.1 171.6,121.8 171.6,119.3 171.7,120.5 171.8,121.5 171.9,121.2 172.0,121.4 172.0,122.8 172.1,123.1 172.2,120.5 172.3,120.0 172.4,118.9 172.4,121.3 172.5,122.0 172.6,122.9 172.7,120.1 172.8,120.4 172.8,119.9 172.9,124.1 173.0,123.3 173.1,120.4 173.2,121.3 173.2,119.9 173.3,120.4 173.4,123.9 173.5,120.5 173.6,120.5 173.6,120.8 173.7,118.9 173.8,118.5 173.9,117.8 174.0,122.1 174.0,119.6 174.1,119.8 174.2,121.9 174.3,119.0 174.4,119.9 174.4,119.4 174.5,121.0 174.6,118.4 174.7,118.0 174.8,121.8 174.8,122.2 174.9,120.8 175.0,119.9 175.1,120.1 175.2,118.6 175.2,119.7 175.3,121.7 175.4,120.5 175.5,118.2 175.6,118.2 175.6,119.6 175.7,121.8 175.8,120.6 175.9,119.9 176.0,121.1 176.0,118.9 176.1,120.4 176.2,119.4 176.3,118.2 176.4,120.5 176.4,118.0 176.5,119.7 176.6,121.1 176.7,117.9 176.8,121.4 176.8,121.5 176.9,120.7 177.0,119.2 177.1,119.2 177.2,119.1 177.2,119.5 177.3,118.1 177.4,119.8 177.5,121.4 177.6,116.1 177.6,121.6 177.7,117.7 177.8,118.0 177.9,118.6 178.0,119.0 178.0,119.4 178.1,121.4 178.2,119.8 178.3,120.7 178.4,118.3 178.4,119.6 178.5,116.4 178.6,117.2 178.7,121.9 178.8,118.6 178.8,119.6 178.9,119.9 179.0,119.6 179.1,115.4 179.2,118.8 179.2,121.6 179.3,119.9 179.4,117.9 179.5,118.4 179.6,117.7 179.6,118.6 179.7,118.4 179.8,118.2 179.9,117.2 180.0,115.7 180.0,118.8 180.1,118.4 180.2,118.8 180.3,119.6 180.4,117.7 180.4,119.6 180.5,117.7 180.6,119.3 180.7,118.8 180.8,116.7 180.8,119.2 180.9,118.5 181.0,117.9 181.1,117.6 181.2,117.7 181.2,116.6 181.3,115.9 181.4,117.5 181.5,118.6 181.6,117.3 181.6,118.4 181.7,115.4 181.8,119.5 181.9,117.6 182.0,116.9 182.0,117.2 182.1,117.6 182.2,117.1 182.3,117.5 182.4,115.2 182.4,117.7 182.5,116.6 182.6,115.3 182.7,117.8 182.8,116.7 182.8,118.7 182.9,115.7 183.0,118.4 183.1,117.2 183.2,115.3 183.2,117.6 183.3,117.0 183.4,117.6 183.5,115.4 183.6,113.0 183.6,115.4 183.7,116.1 183.8,117.2 183.9,117.5 184.0,117.5 184.0,116.6 184.1,115.9 184.2,115.1 184.3,116.3 184.4,114.9 184.4,115.8 184.5,115.0 184.6,116.3 184.7,114.8 184.8,114.4 184.8,114.5 184.9,115.9 185.0,114.5 185.1,116.7 185.2,113.7 185.2,115.3 185.3,114.5 185.4,113.4 185.5,114.7 185.6,115.3 185.6,115.5 185.7,114.4 185.8,113.3 185.9,113.7 186.0,113.9 186.0,116.8 186.1,113.0 186.2,114.4 186.3,117.1 186.4,113.1 186.4,116.4 186.5,116.1 186.6,115.4 186.7,115.0 186.8,112.3 186.8,114.2 186.9,114.1 187.0,115.8 187.1,115.8 187.2,112.9 187.2,111.5 187.3,113.3 187.4,116.8 187.5,114.5 187.6,114.4 187.6,115.3 187.7,114.0 187.8,114.8 187.9,113.7 188.0,113.3 188.0,115.1 188.1,114.7 188.2,115.3 188.3,114.5 188.4,115.7 188.4,115.0 188.5,114.9 188.6,115.9 188.7,114.6 188.8,112.9 188.8,113.3 188.9,114.2 189.0,115.9 189.1,113.7 189.2,114.1 189.2,116.3 189.3,116.6 189.4,112.7 189.5,113.0 189.6,114.4 189.6,114.8 189.7,113.9 189.8,112.6 189.9,117.6 190.0,115.2 190.0,116.7 190.1,115.8 190.2,115.6 190.3,112.4 190.4,115.3 190.4,115.1 190.5,115.0 190.6,113.9 190.7,113.3 190.8,115.0 190.8,115.7 190.9,116.2 191.0,115.2 191.1,112.9 191.2,117.3 191.2,114.4 191.3,114.2 191.4,113.6 191.5,115.8 191.6,114.3 191.6,115.3 191.7,115.9 191.8,114.3 191.9,114.9 192.0,114.5 192.0,116.8 192.1,114.5 192.2,113.5 192.3,116.7 192.4,112.7 192.4,117.5 192.5,116.3 192.6,116.3 192.7,116.4 192.8,116.0 192.8,116.5 192.9,113.0 193.0,115.6 193.1,114.5 193.2,113.6 193.2,114.5 193.3,115.7 193.4,116.6 193.5,115.2 193.6,115.1 193.6,118.4 193.7,117.4 193.8,115.4 193.9,115.5 194.0,116.9 194.0,117.9 194.1,116.1 194.2,116.7 194.3,118.2 194.4,114.9 194.4,117.2 194.5,116.8 194.6,115.8 194.7,117.5 194.8,118.4 194.8,116.9 194.9,116.7 195.0,119.2 195.1,117.8 195.2,116.5 195.2,118.1 195.3,118.7 195.4,117.6 195.5,115.5 195.6,117.2 195.6,116.6 195.7,120.1 195.8,117.1 195.9,120.5 196.0,118.3 196.0,118.4 196.1,118.7 196.2,120.6 196.3,117.1 196.4,118.0 196.4,118.2 196.5,119.2 196.6,118.0 196.7,119.0 196.8,120.0 196.8,118.4 196.9,120.7 197.0,119.0 197.1,118.9 197.2,120.1 197.2,118.8 197.3,119.9 197.4,118.6 197.5,117.8 197.6,119.9 197.6,120.5 197.7,119.5 197.8,120.9 197.9,119.2 198.0,122.7 198.0,119.5 198.1,120.6 198.2,119.9 198.3,119.9 198.4,118.9 198.4,122.1 198.5,120.0 198.6,119.5 198.7,121.9 198.8,121.9 198.8,119.6 198.9,121.5 199.0,122.2 199.1,121.0 199.2,119.1 199.2,120.8 199.3,120.0 199.4,119.4 199.5,121.4 199.6,122.0 199.6,118.2 199.7,120.7 199.8,120.2 199.9,121.8 200.0,120.6 200.0,119.6 200.1,123.3 200.2,121.3 200.3,123.3 200.4,121.9 200.4,120.5 200.5,119.9 200.6,119.9 200.7,121.5 200.8,122.1 200.8,123.7 200.9,120.5 201.0,122.2 201.1,123.1 201.2,123.9 201.2,123.4 201.3,123.0 201.4,123.2 201.5,120.7 201.6,122.5 201.6,120.8 201.7,125.3 201.8,123.8 201.9,122.4 202.0,122.2 202.0,122.3 202.1,123.5 202.2,122.3 202.3,122.6 202.4,121.6 202.4,123.6 202.5,123.8 202.6,121.6 202.7,123.8 202.8,122.8 202.8,124.2 202.9,124.4 203.0,122.5 203.1,124.0 203.2,124.7 203.2,121.6 203.3,123.3 203.4,121.9 203.5,124.2 203.6,121.2 203.6,124.6 203.7,123.0 203.8,124.4 203.9,126.3 204.0,123.5 204.0,122.3 204.1,122.1 204.2,124.6 204.3,122.0 204.4,121.8 204.4,124.2 204.5,125.5 204.6,124.2 204.7,126.4 204.8,125.6 204.8,125.0 204.9,124.6 205.0,124.5 205.1,126.1 205.2,125.4 205.2,124.3 205.3,122.1 205.4,121.8 205.5,122.7 205.6,124.2 205.6,122.1 205.7,123.9 205.8,124.6 205.9,125.8 206.0,123.1 206.0,123.1 206.1,122.6 206.2,122.7 206.3,123.8 206.4,126.4 206.4,120.5 206.5,124.4 206.6,124.8 206.7,126.3 206.8,126.2 206.8,122.9 206.9,122.3 207.0,123.4 207.1,124.1 207.2,123.5 207.2,125.6 207.3,123.9 207.4,123.1 207.5,124.6 207.6,125.8 207.6,123.9 207.7,123.3 207.8,123.6 207.9,124.9 208.0,125.2 208.0,123.9 208.1,123.8 208.2,125.9 208.3,127.9 208.4,128.1 208.4,128.1 208.5,124.1 208.6,125.3 208.7,125.0 208.8,124.5 208.8,124.4 208.9,125.1 209.0,125.8 209.1,127.0 209.2,127.1 209.2,124.9 209.3,124.9 209.4,126.6 209.5,126.3 209.6,124.7 209.6,125.5 209.7,123.0 209.8,125.8 209.9,123.9 210.0,125.9 210.0,122.4 210.1,125.3 210.2,123.9 210.3,124.8 210.4,125.7 210.4,124.6 210.5,127.7 210.6,126.9 210.7,125.1 210.8,127.9 210.8,125.6 210.9,126.0 211.0,128.1 211.1,128.3 211.2,125.8 211.2,126.8 211.3,125.7 211.4,127.2 211.5,125.5 211.6,127.4 211.6,123.7 211.7,126.4 211.8,127.5 211.9,126.2 212.0,123.7 212.0,126.2 212.1,124.5 212.2,125.3 212.3,126.1 212.4,128.3 212.4,125.7 212.5,124.4 212.6,128.3 212.7,125.6 212.8,125.1 212.8,125.6 212.9,125.6 213.0,129.3 213.1,123.2 213.2,124.8 213.2,126.9 213.3,123.5 213.4,125.8 213.5,123.4 213.6,127.1 213.6,125.2 213.7,127.8 213.8,123.1 213.9,126.4 214.0,126.7 214.0,128.1 214.1,126.1 214.2,125.1 214.3,126.3 214.4,125.5 214.4,126.1 214.5,123.4 214.6,126.0 214.7,126.2 214.8,126.2 214.8,126.0 214.9,128.3 215.0,128.5 215.1,127.4 215.2,126.2 215.2,127.8 215.3,126.3 215.4,125.6 215.5,125.4 215.6,125.9 215.6,129.2 215.7,127.7 215.8,127.6 215.9,126.5 216.0,125.3 216.0,126.4 216.1,126.0 216.2,125.2 216.3,127.3 216.4,123.9 216.4,124.2 216.5,124.4 216.6,125.2 216.7,125.7 216.8,126.8 216.8,126.9 216.9,125.2 217.0,125.0 217.1,125.9 217.2,127.1 217.2,126.3 217.3,126.5 217.4,126.9 217.5,126.2 217.6,125.7 217.6,123.0 217.7,124.9 217.8,123.9 217.9,124.5 218.0,125.1 218.0,126.3 218.1,126.7 218.2,124.3 218.3,126.0 218.4,126.0 218.4,123.1 218.5,125.6 218.6,125.1 218.7,123.2 218.8,125.2 218.8,125.7 218.9,125.7 219.0,124.5 219.1,125.4 219.2,125.5 219.2,125.1 219.3,123.6 219.4,124.9 219.5,123.9 219.6,123.8 219.6,124.5 219.7,124.4 219.8,124.2 219.9,122.2 220.0,123.5 220.0,121.9 220.1,122.5 220.2,121.5 220.3,121.6 220.4,121.4 220.4,120.8 220.5,119.9 220.6,118.6 220.7,118.6 220.8,117.9 220.8,117.4 220.9,117.0 221.0,115.5 221.1,115.4 221.2,113.7 221.2,113.0 221.3,112.7 221.4,111.9 221.5,111.1 221.6,109.8 221.6,109.4 221.7,108.3 221.8,108.2 221.9,107.4 222.0,106.9 222.0,106.4 222.1,106.2 222.2,106.2 222.3,106.2 222.4,106.4 222.4,106.6 222.5,107.0 222.6,107.8 222.7,108.0 222.8,108.8 222.8,109.4 222.9,110.6 223.0,110.8 223.1,111.9 223.2,112.9 223.2,113.5 223.3,114.7 223.4,115.3 223.5,116.0 223.6,116.5 223.6,117.3 223.7,117.7 223.8,118.3 223.9,118.8 224.0,120.1 224.0,120.4 224.1,120.1 224.2,120.9 224.3,121.5 224.4,121.5 224.4,122.5 224.5,121.6 224.6,122.3 224.7,121.4 224.8,123.2 224.8,122.4 224.9,123.0 225.0,123.6 225.1,123.0 225.2,122.8 225.2,122.7 225.3,124.4 225.4,124.7 225.5,122.9 225.6,124.7 225.6,122.8 225.7,121.1 225.8,122.7 225.9,122.5 226.0,123.8 226.0,123.9 226.1,122.5 226.2,122.5 226.3,123.2 226.4,125.4 226.4,124.1 226.5,124.6 226.6,123.4 226.7,121.5 226.8,123.1 226.8,122.3 226.9,122.5 227.0,125.5 227.1,123.0 227.2,122.4 227.2,124.1 227.3,121.4 227.4,125.5 227.5,123.8 227.6,123.6 227.6,123.7 227.7,121.4 227.8,124.0 227.9,123.9 228.0,123.4 228.0,122.1 228.1,123.1 228.2,125.1 228.3,122.2 228.4,123.7 228.4,121.5 228.5,121.5 228.6,122.5 228.7,123.5 228.8,124.8 228.8,123.5 228.9,122.3 229.0,123.0 229.1,120.8 229.2,123.7 229.2,122.9 229.3,122.7 229.4,123.1 229.5,123.2 229.6,121.6 229.6,125.6 229.7,121.5 229.8,123.0 229.9,122.9 230.0,120.7 230.0,122.4 230.1,121.4 230.2,120.9 230.3,120.3 230.4,122.5 230.4,123.8 230.5,123.6 230.6,122.4 230.7,123.0 230.8,119.6 230.8,122.8 230.9,125.5 231.0,123.2 231.1,123.3 231.2,122.3 231.2,121.9 231.3,121.9 231.4,124.6 231.5,121.7 231.6,122.6 231.6,123.3 231.7,123.9 231.8,120.1 231.9,122.2 232.0,120.4 232.0,121.5 232.1,122.9 232.2,119.5 232.3,122.1 232.4,121.7 232.4,124.8 232.5,121.8 232.6,122.0 232.7,121.3 232.8,123.1 232.8,122.6 232.9,122.0 233.0,118.8 233.1,122.4 233.2,120.7 233.2,122.3 233.3,122.0 233.4,122.2 233.5,121.0 233.6,121.7 233.6,121.2 233.7,119.6 233.8,121.9 233.9,120.4 234.0,121.5 234.0,122.6 234.1,122.9 234.2,122.0 234.3,121.7 234.4,121.3 234.4,120.4 234.5,121.9 234.6,121.7 234.7,120.8 234.8,121.9 234.8,120.3 234.9,121.8 235.0,120.9 235.1,120.8 235.2,120.8 235.2,121.1 235.3,120.7 235.4,121.7 235.5,121.9 235.6,124.2 235.6,120.2 235.7,121.6 235.8,122.9 235.9,123.7 236.0,122.3 236.0,123.4 236.1,122.0 236.2,123.5 236.3,122.0 236.4,121.1 236.4,123.0 236.5,122.6 236.6,123.0 236.7,122.5 236.8,121.4 236.8,122.8 236.9,122.7 237.0,122.1 237.1,122.7 237.2,123.6 237.2,123.7 237.3,122.9 237.4,122.8 237.5,123.3 237.6,123.3 237.6,123.9 237.7,125.7 237.8,123.9 237.9,122.4 238.0,125.8 238.0,124.3 238.1,123.9 238.2,124.9 238.3,123.8 238.4,126.4 238.4,124.3 238.5,124.4 238.6,123.9 238.7,125.0 238.8,124.2 238.8,124.0 238.9,124.3 239.0,123.5 239.1,125.6 239.2,126.2 239.2,123.3 239.3,124.1 239.4,125.2 239.5,123.0 239.6,123.7 239.6,125.3 239.7,124.8 239.8,125.1 239.9,122.2 240.0,126.2 240.0,124.9 240.1,124.6 240.2,127.2 240.3,126.1 240.4,122.9 240.4,127.3 240.5,124.1 240.6,124.7 240.7,123.4 240.8,126.9 240.8,125.0 240.9,125.7 241.0,126.3 241.1,125.2 241.2,122.6 241.2,127.0 241.3,124.8 241.4,123.3 241.5,124.8 241.6,124.9 241.6,124.8 241.7,125.2 241.8,125.9 241.9,127.5 242.0,126.5 242.0,125.6 242.1,127.9 242.2,125.6 242.3,128.0 242.4,125.7 242.4,124.0 242.5,127.2 242.6,125.7 242.7,125.6 242.8,125.9 242.8,126.2 242.9,126.8 243.0,126.1 243.1,124.9 243.2,126.8 243.2,127.1 243.3,126.2 243.4,127.1 243.5,127.6 243.6,124.7 243.6,124.5 243.7,126.0 243.8,128.3 243.9,125.2 244.0,128.8 244.0,126.7 244.1,128.1 244.2,127.0 244.3,127.0 244.4,127.4 244.4,126.9 244.5,126.7 244.6,127.2 244.7,127.7 244.8,127.8 244.8,126.7 244.9,127.9 245.0,128.2 245.1,129.3 245.2,129.4 245.2,129.0 245.3,129.1 245.4,127.7 245.5,128.5 245.6,129.9 245.6,129.6 245.7,130.8 245.8,131.5 245.9,131.3 246.0,128.7 246.0,128.7 246.1,129.1 246.2,131.1 246.3,130.0 246.4,129.2 246.4,128.1 246.5,129.5 246.6,128.9 246.7,131.4 246.8,132.8 246.8,127.9 246.9,127.7 247.0,131.0 247.1,130.8 247.2,129.1 247.2,130.4 247.3,130.5 247.4,128.5 247.5,131.0 247.6,129.4 247.6,130.4 247.7,131.9 247.8,128.8 247.9,131.4 248.0,131.3 248.0,132.4 248.1,129.2 248.2,130.8 248.3,128.3 248.4,130.3 248.4,132.3 248.5,133.0 248.6,131.4 248.7,129.1 248.8,128.3 248.8,131.1 248.9,129.7 249.0,131.2 249.1,130.7 249.2,130.7 249.2,132.9 249.3,128.8 249.4,130.5 249.5,131.9 249.6,132.9 249.6,129.4 249.7,129.1 249.8,130.1 249.9,128.5 250.0,129.2 250.0,132.8 250.1,129.7 250.2,129.1 250.3,130.3 250.4,131.1 250.4,129.8 250.5,131.0 250.6,132.2 250.7,133.1 250.8,130.7 250.8,132.6 250.9,133.2 251.0,131.8 251.1,128.5 251.2,132.4 251.2,130.7 251.3,132.4 251.4,132.1 251.5,130.2 251.6,130.3 251.6,130.5 251.7,133.4 251.8,130.4 251.9,130.6 252.0,131.4 252.0,129.7 252.1,130.5 252.2,129.9 252.3,132.5 252.4,129.3 252.4,131.1 252.5,131.5 252.6,132.9 252.7,132.4 252.8,131.7 252.8,130.0 252.9,134.4 253.0,133.2 253.1,132.0 253.2,129.4 253.2,130.7 253.3,129.8 253.4,129.8 253.5,130.2 253.6,129.2 253.6,129.5 253.7,130.5 253.8,130.8 253.9,127.6 254.0,130.8 254.0,133.3 254.1,130.9 254.2,130.5 254.3,130.4 254.4,134.1 254.4,132.3 254.5,132.3 254.6,132.0 254.7,131.3 254.8,133.8 254.8,130.9 254.9,128.5 255.0,131.9 255.1,132.4 255.2,131.6 255.2,132.1 255.3,131.9 255.4,131.8 255.5,134.0 255.6,133.3 255.6,132.1 255.7,131.6 255.8,130.7 255.9,129.8 256.0,129.6 256.0,129.7 256.1,130.9 256.2,130.8 256.3,133.3 256.4,131.4 256.4,128.4 256.5,128.8 256.6,130.2 256.7,134.2 256.8,130.5 256.8,131.8 256.9,131.4 257.0,130.4 257.1,132.0 257.2,128.2 257.2,129.6 257.3,128.8 257.4,131.5 257.5,133.8 257.6,130.3 257.6,129.3 257.7,129.3 257.8,130.8 257.9,130.5 258.0,131.3 258.0,129.9 258.1,129.8 258.2,132.3 258.3,132.5 258.4,131.6 258.4,129.4 258.5,128.1 258.6,133.8 258.7,129.4 258.8,131.8 258.8,130.4 258.9,131.2 259.0,131.0 259.1,131.5 259.2,129.8 259.2,130.2 259.3,129.8 259.4,131.0 259.5,130.6 259.6,129.6 259.6,130.4 259.7,129.8 259.8,130.9 259.9,130.7 260.0,130.8 260.0,127.4 260.1,130.1 260.2,129.4 260.3,129.6 260.4,131.6 260.4,129.1 260.5,130.4 260.6,132.3 260.7,132.0 260.8,130.8 260.8,131.7 260.9,132.7 261.0,128.9 261.1,128.6 261.2,128.9 261.2,129.7 261.3,130.2 261.4,131.9 261.5,129.3 261.6,132.2 261.6,132.1 261.7,132.1 261.8,130.3 261.9,129.1 262.0,131.9 262.0,131.4 262.1,129.9 262.2,131.4 262.3,130.6 262.4,129.1 262.4,130.8 262.5,130.3 262.6,129.8 262.7,130.6 262.8,129.0 262.8,130.1 262.9,129.3 263.0,131.0 263.1,130.1 263.2,129.7 263.2,131.1 263.3,129.1 263.4,128.9 263.5,131.4 263.6,128.6 263.6,131.8 263.7,131.2 263.8,129.4 263.9,128.9 264.0,132.6 264.0,129.9 264.1,129.4 264.2,129.1 264.3,128.5 264.4,132.7 264.4,130.7 264.5,130.0 264.6,131.0 264.7,129.3 264.8,131.1 264.8,126.9 264.9,128.9 265.0,128.7 265.1,127.9 265.2,130.9 265.2,129.1 265.3,133.6 265.4,131.4 265.5,128.5 265.6,131.3 265.6,130.2 265.7,129.6 265.8,131.5 265.9,130.2 266.0,130.1 266.0,128.0 266.1,131.1 266.2,129.5 266.3,131.5 266.4,129.5 266.4,131.1 266.5,130.0 266.6,130.7 266.7,127.1 266.8,129.8 266.8,129.5 266.9,129.4 267.0,128.3 267.1,127.3 267.2,133.1 267.2,129.7 267.3,129.9 267.4,131.0 267.5,128.9 267.6,131.5 267.6,130.6 267.7,130.1 267.8,129.9 267.9,132.1 268.0,130.4 268.0,130.7 268.1,125.6 268.2,130.3 268.3,128.4 268.4,128.9 268.4,130.3 268.5,129.4 268.6,127.3 268.7,128.3 268.8,129.0 268.8,130.5 268.9,129.0 269.0,131.2 269.1,129.9 269.2,128.5 269.2,132.0 269.3,129.7 269.4,129.2 269.5,128.9 269.6,129.8 269.6,129.3 269.7,130.2 269.8,130.9 269.9,130.1 270.0,129.0 270.0,131.3 270.1,129.6 270.2,130.5 270.3,127.0 270.4,131.5 270.4,129.1 270.5,131.1 270.6,128.4 270.7,129.7 270.8,131.9 270.8,131.6 270.9,130.5 271.0,131.1 271.1,127.3 271.2,129.2 271.2,129.8 271.3,127.3 271.4,129.3 271.5,130.4 271.6,131.3 271.6,129.8 271.7,131.8 271.8,133.0 271.9,130.0 272.0,131.1 272.0,131.0 272.1,132.0 272.2,127.3 272.3,130.7 272.4,129.4 272.4,128.4 272.5,128.5 272.6,129.6 272.7,130.8 272.8,129.3 272.8,128.1 272.9,129.9 273.0,132.0 273.1,128.9 273.2,131.0 273.2,131.9 273.3,130.1 273.4,129.2 273.5,129.0 273.6,132.0 273.6,131.2 273.7,130.2 273.8,130.6 273.9,129.4 274.0,130.1 274.0,132.4 274.1,131.1 274.2,131.0 274.3,131.3 274.4,129.6 274.4,130.7 274.5,128.8 274.6,127.2 274.7,130.2 274.8,129.7 274.8,129.5 274.9,128.4 275.0,129.9 275.1,129.9 275.2,129.1 275.2,129.3 275.3,128.6 275.4,129.5 275.5,131.3 275.6,128.9 275.6,131.3 275.7,128.5 275.8,129.3 275.9,133.5 276.0,128.4 276.0,131.6 276.1,129.2 276.2,130.8 276.3,131.1 276.4,131.6 276.4,130.3 276.5,129.6 276.6,133.6 276.7,131.4 276.8,131.4 276.8,129.8 276.9,129.0 277.0,131.3 277.1,132.5 277.2,129.8 277.2,129.0 277.3,131.8 277.4,129.8 277.5,131.2 277.6,129.2 277.6,130.6 277.7,133.4 277.8,130.1 277.9,129.6 278.0,131.0 278.0,130.2 278.1,131.0 278.2,130.0 278.3,132.2 278.4,129.8 278.4,130.3 278.5,132.2 278.6,130.9 278.7,129.8 278.8,130.0 278.8,129.7 278.9,132.2 279.0,130.8 279.1,130.8 279.2,128.7 279.2,132.0 279.3,132.1 279.4,132.5 279.5,129.4 279.6,129.5 279.6,130.1 279.7,131.5 279.8,131.1 279.9,132.1 280.0,129.1 280.0,131.1 280.1,132.0 280.2,133.5 280.3,130.8 280.4,131.7 280.4,133.0 280.5,130.6 280.6,130.7 280.7,131.2 280.8,133.0 280.8,130.8 280.9,131.5 281.0,130.7 281.1,131.5 281.2,133.6 281.2,132.2 281.3,132.1 281.4,130.8 281.5,130.5 281.6,132.6 281.6,133.0 281.7,130.4 281.8,130.9 281.9,130.8 282.0,131.0 282.0,132.6 282.1,130.0 282.2,132.9 282.3,133.5 282.4,129.7 282.4,131.7 282.5,135.4 282.6,130.2 282.7,134.2 282.8,133.6 282.8,130.9 282.9,131.0 283.0,131.9 283.1,133.5 283.2,133.2 283.2,132.1 283.3,130.2 283.4,129.6 283.5,131.7 283.6,132.6 283.6,130.2 283.7,133.8 283.8,131.8 283.9,131.7 284.0,133.5 284.0,131.7 284.1,133.1 284.2,128.8 284.3,133.6 284.4,132.4 284.4,132.5 284.5,133.3 284.6,132.2 284.7,130.0 284.8,131.5 284.8,134.3 284.9,131.9 285.0,132.1 285.1,131.4 285.2,131.9 285.2,131.3 285.3,130.7 285.4,132.2 285.5,131.3 285.6,130.7 285.6,133.8 285.7,131.9 285.8,132.7 285.9,134.4 286.0,134.6 286.0,131.6 286.1,134.0 286.2,132.3 286.3,131.4 286.4,132.7 286.4,131.7 286.5,131.4 286.6,132.4 286.7,132.8 286.8,133.3 286.8,132.3 286.9,132.4 287.0,132.0 287.1,132.0 287.2,133.5 287.2,131.4 287.3,133.3 287.4,133.6 287.5,131.9 287.6,131.8 287.6,132.7 287.7,133.4 287.8,132.1 287.9,132.2 288.0,130.7 288.0,133.1 288.1,133.7 288.2,133.9 288.3,132.6 288.4,133.5 288.4,134.8 288.5,133.9 288.6,133.1 288.7,134.3 288.8,133.6 288.8,133.4 288.9,132.7 289.0,134.3 289.1,133.0 289.2,131.8 289.2,132.5 289.3,134.7 289.4,133.3 289.5,132.4 289.6,132.2 289.6,135.5 289.7,133.8 289.8,134.5 289.9,132.6 290.0,133.0 290.0,132.7 290.1,133.8 290.2,133.0 290.3,133.7 290.4,131.9 290.4,136.2 290.5,131.9 290.6,136.2 290.7,133.8 290.8,135.2 290.8,133.5 290.9,134.9 291.0,134.0 291.1,132.0 291.2,132.3 291.2,132.0 291.3,134.7 291.4,133.3 291.5,133.5 291.6,132.3 291.6,133.5 291.7,133.6 291.8,132.6 291.9,132.3 292.0,134.2 292.0,134.0 292.1,133.7 292.2,134.6 292.3,134.4 292.4,134.3 292.4,135.5 292.5,131.1 292.6,134.4 292.7,130.8 292.8,134.9 292.8,134.8 292.9,130.1 293.0,133.8 293.1,134.8 293.2,133.4 293.2,133.7 293.3,135.0 293.4,130.9 293.5,134.4 293.6,134.6 293.6,135.0 293.7,134.6 293.8,131.9 293.9,135.7 294.0,132.7 294.0,130.8 294.1,134.3 294.2,134.2 294.3,134.5 294.4,135.0 294.4,136.2 294.5,135.4 294.6,132.3 294.7,134.8 294.8,134.8 294.8,134.1 294.9,134.3 295.0,134.1 295.1,135.3 295.2,133.1 295.2,131.2 295.3,134.2 295.4,133.2 295.5,133.9 295.6,135.3 295.6,132.9 295.7,133.6 295.8,132.9 295.9,133.1 296.0,133.6 296.0,133.2 296.1,135.0 296.2,133.1 296.3,134.3 296.4,134.3 296.4,134.1 296.5,135.5 296.6,136.0 296.7,135.4 296.8,136.2 296.8,138.6 296.9,136.2 297.0,135.8 297.1,134.8 297.2,136.3 297.2,133.6 297.3,133.4 297.4,133.1 297.5,135.2 297.6,133.1 297.6,135.9 297.7,133.2 297.8,134.3 297.9,134.8 298.0,135.5 298.0,133.9 298.1,135.7 298.2,136.0 298.3,134.9 298.4,132.6 298.4,136.3 298.5,134.4 298.6,134.0 298.7,135.2 298.8,132.3 298.8,136.2 298.9,133.5 299.0,135.6 299.1,135.1 299.2,134.0 299.2,135.6 299.3,135.6 299.4,134.9 299.5,135.3 299.6,135.5 299.6,134.3 299.7,133.9 299.8,135.1 299.9,133.0 300.0,133.8 300.0,136.0 300.1,136.1 300.2,135.0 300.3,136.0 300.4,135.0 300.4,134.3 300.5,136.0 300.6,135.3 300.7,135.3 300.8,135.1 300.8,138.3 300.9,138.8 301.0,136.6 301.1,135.1 301.2,136.1 301.2,134.5 301.3,135.0 301.4,135.2 301.5,135.4 301.6,139.4 301.6,134.5 301.7,136.7 301.8,135.9 301.9,135.7 302.0,135.7 302.0,135.3 302.1,133.4 302.2,137.0 302.3,136.4 302.4,133.6 302.4,136.4 302.5,134.3 302.6,135.5 302.7,137.3 302.8,134.4 302.8,135.4 302.9,137.4 303.0,135.6 303.1,135.1 303.2,136.8 303.2,137.0 303.3,137.1 303.4,139.6 303.5,133.6 303.6,133.6 303.6,135.0 303.7,133.6 303.8,134.6 303.9,134.0 304.0,137.9 304.0,137.1 304.1,135.0 304.2,138.7 304.3,138.0 304.4,134.8 304.4,135.4 304.5,135.6 304.6,136.6 304.7,136.7 304.8,136.0 304.8,136.2 304.9,136.2 305.0,136.7 305.1,135.1 305.2,136.0 305.2,134.8 305.3,136.0 305.4,135.6 305.5,136.1 305.6,133.6 305.6,134.2 305.7,138.2 305.8,136.4 305.9,135.0 306.0,136.7 306.0,138.9 306.1,137.6 306.2,134.7 306.3,135.1 306.4,133.7 306.4,134.7 306.5,137.4 306.6,138.1 306.7,136.2 306.8,134.2 306.8,133.0 306.9,136.4 307.0,136.1 307.1,135.9 307.2,136.1 307.2,138.7 307.3,135.8 307.4,136.5 307.5,137.0 307.6,138.2 307.6,136.0 307.7,136.0 307.8,137.0 307.9,136.2 308.0,134.9 308.0,136.1 308.1,136.0 308.2,135.1 308.3,134.3 308.4,135.2 308.4,135.5 308.5,137.2 308.6,137.8 308.7,133.1 308.8,136.5 308.8,136.0 308.9,134.0 309.0,137.1 309.1,135.2 309.2,133.2 309.2,136.8 309.3,136.1 309.4,137.1 309.5,136.9 309.6,135.9 309.6,137.2 309.7,136.0 309.8,136.8 309.9,135.3 310.0,136.7"/>
<line x1="35.0" y1="198.9" x2="310.3" y2="198.9" stroke="#0a8585" stroke-width="1.9"/>
<line x1="48.6" y1="176.3" x2="48.6" y2="198.9" stroke="#0a8585" stroke-width="1.8"/>
<line x1="108.3" y1="188.5" x2="108.3" y2="198.9" stroke="#0a8585" stroke-width="1.8"/>
<line x1="131.6" y1="176.3" x2="131.6" y2="198.9" stroke="#0a8585" stroke-width="1.8"/>
<line x1="190.4" y1="190.3" x2="190.4" y2="198.9" stroke="#0a8585" stroke-width="1.8"/>
<line x1="220.7" y1="192.5" x2="220.7" y2="198.9" stroke="#0a8585" stroke-width="1.8"/>
<line x1="225.0" y1="197.2" x2="225.0" y2="198.9" stroke="#0a8585" stroke-width="1.8"/>
<line x1="236.2" y1="194.8" x2="236.2" y2="198.9" stroke="#0a8585" stroke-width="1.8"/>
<line x1="264.7" y1="197.2" x2="264.7" y2="198.9" stroke="#0a8585" stroke-width="1.8"/>
<line x1="269.9" y1="196.8" x2="269.9" y2="198.9" stroke="#0a8585" stroke-width="1.8"/>
<line x1="279.9" y1="196.0" x2="279.9" y2="198.9" stroke="#0a8585" stroke-width="1.8"/>
<polyline fill="none" stroke="#3c3c3c" stroke-width="2.0" stroke-linejoin="round" points="399.8,199.0 399.9,199.4 400.0,200.3 400.1,199.1 400.2,198.2 400.3,199.5 400.4,200.4 400.5,198.8 400.6,198.9 400.7,199.0 400.8,198.2 400.9,198.2 401.0,198.9 401.1,199.4 401.2,199.2 401.3,198.4 401.4,198.7 401.5,199.6 401.6,198.9 401.7,198.5 401.8,199.4 401.9,200.0 402.0,198.3 402.1,197.9 402.2,198.3 402.3,197.6 402.4,197.9 402.5,198.2 402.6,198.2 402.7,198.1 402.8,198.1 402.9,197.4 403.0,198.6 403.1,198.1 403.2,198.0 403.3,198.5 403.4,198.0 403.5,198.4 403.6,199.5 403.7,197.6 403.8,197.6 403.9,197.7 404.0,198.2 404.1,196.9 404.2,198.0 404.3,198.0 404.4,197.9 404.5,197.4 404.6,197.7 404.7,197.7 404.8,197.6 404.9,196.9 405.0,197.6 405.1,196.7 405.2,197.6 405.3,196.0 405.4,197.0 405.5,196.5 405.6,197.0 405.7,196.3 405.8,197.7 405.9,196.2 406.0,197.0 406.1,196.3 406.2,196.2 406.3,196.9 406.4,196.2 406.5,195.3 406.6,195.7 406.7,195.1 406.8,195.6 406.9,195.2 407.0,194.0 407.1,194.3 407.2,194.7 407.3,195.0 407.4,194.9 407.5,193.2 407.6,194.2 407.7,193.7 407.8,193.6 407.9,193.6 408.0,193.2 408.1,192.9 408.2,192.0 408.3,194.0 408.4,192.7 408.5,192.8 408.6,193.9 408.7,193.2 408.8,192.8 408.9,192.4 409.0,191.5 409.1,191.6 409.2,191.7 409.3,192.1 409.4,191.6 409.5,191.5 409.6,191.3 409.7,190.9 409.8,190.9 409.9,189.5 410.0,189.5 410.1,189.5 410.2,190.0 410.3,190.3 410.4,190.0 410.5,190.2 410.6,189.7 410.7,189.9 410.8,188.8 410.9,189.9 411.0,188.9 411.1,189.1 411.2,189.0 411.3,189.3 411.4,188.5 411.5,188.3 411.6,189.8 411.7,188.2 411.8,189.5 411.9,188.8 412.0,188.6 412.1,188.7 412.2,189.3 412.3,188.6 412.4,188.6 412.5,189.0 412.6,188.2 412.7,188.7 412.8,188.8 412.9,188.4 413.0,189.3 413.1,188.5 413.2,188.7 413.3,189.1 413.4,188.8 413.5,189.0 413.6,188.5 413.7,189.7 413.8,190.3 413.9,189.9 414.0,189.5 414.1,190.2 414.2,190.0 414.3,189.4 414.4,189.6 414.5,190.2 414.6,190.0 414.7,189.6 414.8,190.0 414.9,190.7 415.0,190.2 415.1,190.2 415.2,190.6 415.3,189.5 415.4,190.9 415.5,191.7 415.6,190.9 415.7,190.1 415.8,191.4 415.9,191.3 416.0,190.5 416.1,191.1 416.2,192.1 416.3,192.4 416.4,192.1 416.5,192.1 416.6,192.6 416.7,192.0 416.8,192.3 416.9,192.6 417.0,192.7 417.1,192.7 417.2,193.0 417.3,193.4 417.4,192.8 417.5,193.2 417.6,193.3 417.7,193.4 417.8,194.3 417.9,193.6 418.0,194.7 418.1,193.9 418.2,193.2 418.3,194.0 418.4,193.8 418.5,194.8 418.6,193.6 418.7,194.3 418.8,193.2 418.9,194.5 419.0,193.7 419.1,195.2 419.2,195.0 419.3,194.8 419.4,195.2 419.5,194.4 419.6,194.8 419.7,194.6 419.8,195.3 419.9,194.2 420.0,196.0 420.1,195.0 420.2,194.8 420.3,196.5 420.4,196.7 420.5,196.0 420.6,194.2 420.7,195.7 420.8,195.2 420.9,195.3 421.0,194.9 421.1,195.7 421.2,195.4 421.3,196.3 421.4,195.2 421.5,196.3 421.6,196.2 421.7,196.7 421.8,195.2 421.9,195.9 422.0,196.0 422.1,196.4 422.2,196.2 422.3,195.9 422.4,196.1 422.5,196.6 422.6,196.1 422.7,196.4 422.8,195.5 422.9,196.4 423.0,197.2 423.1,197.2 423.2,196.4 423.3,196.2 423.4,196.7 423.5,196.5 423.6,195.9 423.7,197.1 423.8,196.8 423.9,197.1 424.0,198.1 424.1,196.5 424.2,197.5 424.3,197.4 424.4,197.9 424.5,198.1 424.6,197.2 424.7,196.5 424.8,196.7 424.9,196.8 425.0,198.4 425.1,196.3 425.2,197.5 425.3,196.5 425.4,196.3 425.5,197.3 425.6,196.8 425.7,197.4 425.8,196.7 425.9,197.7 426.0,198.1 426.1,196.8 426.2,197.4 426.3,196.9 426.4,196.3 426.5,196.2 426.6,198.5 426.7,197.2 426.8,196.5 426.9,197.5 427.0,197.4 427.1,197.1 427.2,197.2 427.3,197.1 427.4,196.9 427.5,197.6 427.6,198.6 427.7,198.0 427.8,197.8 427.9,197.8 428.0,197.8 428.1,198.3 428.2,198.5 428.3,196.9 428.4,196.7 428.5,197.3 428.6,198.4 428.7,198.5 428.8,197.7 428.9,198.1 429.0,197.3 429.1,197.8 429.2,197.1 429.3,198.0 429.4,196.6 429.5,196.4 429.6,196.8 429.7,197.5 429.8,197.8 429.9,198.2 430.0,197.6 430.1,198.2 430.2,197.5 430.3,197.5 430.4,198.1 430.5,196.8 430.6,197.3 430.7,197.5 430.8,197.2 430.9,197.4 431.0,197.5 431.1,197.8 431.2,196.9 431.3,198.0 431.4,197.7 431.5,198.1 431.6,197.7 431.7,197.9 431.8,197.3 431.9,197.8 432.0,197.1 432.1,198.0 432.2,198.6 432.3,197.5 432.4,197.9 432.5,196.8 432.6,197.3 432.7,198.1 432.8,197.4 432.9,197.9 433.0,198.3 433.1,197.6 433.2,198.7 433.3,196.9 433.4,197.6 433.5,197.7 433.6,198.0 433.7,196.7 433.8,198.8 433.9,198.0 434.0,198.0 434.1,198.3 434.2,197.9 434.3,198.4 434.4,198.0 434.5,197.8 434.6,197.5 434.7,199.2 434.8,197.0 434.9,196.9 435.0,198.0 435.1,197.6 435.2,199.5 435.3,199.3 435.4,198.3 435.5,197.6 435.6,198.5 435.7,197.7 435.8,199.2 435.9,198.3 436.0,198.9 436.1,199.2 436.2,198.2 436.3,199.1 436.4,197.6 436.5,198.5 436.6,198.3 436.7,198.4 436.8,198.1 436.9,199.1 437.0,198.0 437.1,198.5 437.2,197.9 437.3,199.2 437.4,198.8 437.5,198.5 437.6,198.2 437.7,198.4 437.8,198.1 437.9,197.4 438.0,197.4 438.1,199.1 438.2,197.6 438.3,199.2 438.4,197.9 438.5,198.5 438.6,198.9 438.7,197.0 438.8,197.3 438.9,198.4 439.0,199.7 439.1,197.1 439.2,198.4 439.3,198.1 439.4,198.3 439.5,198.3 439.6,198.0 439.7,198.8 439.8,199.1 439.9,199.0 440.0,197.0 440.1,199.0 440.2,198.1 440.3,197.9 440.4,199.0 440.5,198.6 440.6,199.4 440.7,197.5 440.8,199.0 440.9,198.2 441.0,198.7 441.1,198.3 441.2,198.3 441.3,197.7 441.4,197.6 441.5,199.7 441.6,198.4 441.7,199.4 441.8,198.2 441.9,199.2 442.0,198.6 442.1,198.4 442.2,198.1 442.3,199.1 442.4,197.8 442.5,197.9 442.6,199.5 442.7,198.6 442.8,198.5 442.9,197.4 443.0,198.0 443.1,199.2 443.2,198.1 443.3,197.3 443.4,199.0 443.5,197.5 443.6,198.8 443.7,199.9 443.8,199.4 443.9,198.4 444.0,198.1 444.1,197.9 444.2,198.6 444.3,198.5 444.4,199.4 444.5,198.5 444.6,199.2 444.7,198.8 444.8,199.6 444.9,197.2 445.0,198.7 445.1,198.0 445.2,198.3 445.3,197.3 445.4,198.7 445.5,197.8 445.6,199.2 445.7,199.7 445.8,199.4 445.9,197.5 446.0,198.5 446.1,199.2 446.2,197.8 446.3,199.2 446.4,199.2 446.5,197.9 446.6,198.9 446.7,198.7 446.8,198.7 446.9,199.2 447.0,198.5 447.1,199.0 447.2,198.5 447.3,198.3 447.4,197.9 447.5,199.1 447.6,198.2 447.7,199.6 447.8,198.6 447.9,198.0 448.0,198.2 448.1,198.9 448.2,199.1 448.3,198.4 448.4,198.0 448.5,198.7 448.6,198.6 448.7,199.2 448.8,197.9 448.9,199.5 449.0,198.0 449.1,198.1 449.2,199.2 449.3,199.3 449.4,198.5 449.5,198.6 449.6,198.7 449.7,198.2 449.8,198.6 449.9,199.5 450.0,199.6 450.1,198.7 450.2,198.8 450.3,198.8 450.4,199.5 450.5,197.8 450.6,198.8 450.7,198.7 450.8,198.5 450.9,198.6 451.0,198.0 451.1,198.7 451.2,198.8 451.3,198.4 451.4,199.1 451.5,199.5 451.6,199.2 451.7,198.7 451.8,198.5 451.9,198.6 452.0,197.9 452.1,198.7 452.2,199.3 452.3,198.5 452.4,198.8 452.5,198.2 452.6,198.7 452.7,198.9 452.8,198.8 452.9,197.5 453.0,198.3 453.1,198.5 453.2,198.4 453.3,198.9 453.4,198.6 453.5,197.5 453.6,198.4 453.7,198.1 453.8,199.2 453.9,199.0 454.0,198.9 454.1,199.5 454.2,198.8 454.3,198.6 454.4,198.1 454.5,200.1 454.6,198.6 454.7,199.1 454.8,197.5 454.9,199.7 455.0,199.0 455.1,199.2 455.2,198.5 455.3,198.0 455.4,198.8 455.5,198.5 455.6,198.3 455.7,198.3 455.8,199.0 455.9,198.6 456.0,198.0 456.1,199.0 456.2,199.0 456.3,199.0 456.4,198.3 456.5,198.2 456.6,198.7 456.7,199.5 456.8,198.2 456.9,198.1 457.0,198.5 457.1,197.9 457.2,199.7 457.3,198.3 457.4,199.2 457.5,198.3 457.6,200.0 457.7,199.4 457.8,199.1 457.9,199.4 458.0,199.3 458.1,198.1 458.2,199.1 458.3,198.9 458.4,199.7 458.5,199.1 458.6,198.3 458.7,199.9 458.8,198.9 458.9,198.4 459.0,198.2 459.1,199.2 459.2,198.1 459.3,198.8 459.4,199.0 459.5,197.7 459.6,198.0 459.7,197.6 459.8,198.9 459.9,198.8 460.0,198.8 460.1,198.7 460.2,199.2 460.3,200.2 460.4,199.3 460.5,199.0 460.6,198.9 460.7,200.0 460.8,198.0 460.9,200.6 461.0,199.7 461.1,198.4 461.2,199.7 461.3,198.3 461.4,198.8 461.5,198.5 461.6,198.9 461.7,197.5 461.8,198.7 461.9,198.9 462.0,198.7 462.1,199.6 462.2,199.3 462.3,198.7 462.4,199.4 462.5,198.5 462.6,198.9 462.7,199.2 462.8,199.0 462.9,199.7 463.0,198.9 463.1,198.7 463.2,199.6 463.3,199.2 463.4,199.4 463.5,200.4 463.6,199.6 463.7,199.1 463.8,199.1 463.9,198.5 464.0,199.1 464.1,198.6 464.2,199.6 464.3,199.0 464.4,198.3 464.5,199.3 464.6,199.8 464.7,199.5 464.8,199.4 464.9,200.0 465.0,198.7 465.1,199.3 465.2,199.0 465.3,199.5 465.4,198.5 465.5,199.8 465.6,198.9 465.7,199.6 465.8,199.9 465.9,199.3 466.0,200.4 466.1,198.7 466.2,198.8 466.3,198.7 466.4,199.0 466.5,199.6 466.6,200.0 466.7,199.3 466.8,198.9 466.9,198.9 467.0,198.2 467.1,199.3 467.2,198.3 467.3,199.8 467.4,198.6 467.5,200.4 467.6,197.9 467.7,199.7 467.8,198.2 467.9,199.0 468.0,198.9 468.1,199.5 468.2,200.1 468.3,199.9 468.4,198.3 468.5,199.9 468.6,198.3 468.7,198.8 468.8,200.1 468.9,198.5 469.0,198.8 469.1,199.2 469.2,198.4 469.3,199.5 469.4,198.2 469.5,199.8 469.6,199.3 469.7,199.1 469.8,199.9 469.9,198.5 470.0,199.4 470.1,199.3 470.2,199.0 470.3,199.2 470.4,198.8 470.5,198.2 470.6,197.9 470.7,199.4 470.8,199.5 470.9,198.9 471.0,198.8 471.1,198.2 471.2,199.7 471.3,198.7 471.4,199.1 471.5,199.0 471.6,198.6 471.7,198.8 471.8,198.8 471.9,198.4 472.0,198.2 472.1,198.0 472.2,197.0 472.3,197.4 472.4,196.9 472.5,196.7 472.6,196.0 472.7,196.0 472.8,195.9 472.9,195.6 473.0,195.6 473.1,195.5 473.2,195.6 473.3,195.7 473.4,196.2 473.5,196.1 473.6,195.9 473.7,196.2 473.8,197.1 473.9,197.4 474.0,197.4 474.1,197.6 474.2,198.2 474.3,197.9 474.4,198.7 474.5,198.8 474.6,198.9 474.7,198.3 474.8,199.0 474.9,199.3 475.0,198.9 475.1,198.6 475.2,198.5 475.3,199.0 475.4,199.5 475.5,199.3 475.6,199.5 475.7,200.0 475.8,199.0 475.9,198.5 476.0,198.6 476.1,199.3 476.2,199.4 476.3,199.5 476.4,200.3 476.5,199.0 476.6,199.4 476.7,198.6 476.8,198.7 476.9,198.8 477.0,199.3 477.1,200.9 477.2,199.7 477.3,199.8 477.4,198.8 477.5,199.4 477.6,199.1 477.7,200.2 477.8,199.6 477.9,200.3 478.0,199.1 478.1,199.8 478.2,200.1 478.3,200.7 478.4,200.9 478.5,199.2 478.6,200.6 478.7,199.7 478.8,199.8 478.9,199.7 479.0,200.0 479.1,198.8 479.2,200.2 479.3,199.6 479.4,200.0 479.5,198.8 479.6,199.9 479.7,199.7 479.8,199.8 479.9,200.0 480.0,200.5 480.1,200.0 480.2,200.3 480.3,199.7 480.4,199.5 480.5,199.7 480.6,199.7 480.7,200.4 480.8,200.4 480.9,200.5 481.0,200.3 481.1,199.9 481.2,199.5 481.3,200.8 481.4,200.8 481.5,199.2 481.6,201.5 481.7,199.8 481.8,200.9 481.9,199.6 482.0,200.4 482.1,200.3 482.2,200.8 482.3,200.3 482.4,199.8 482.5,201.1 482.6,199.2 482.7,199.9 482.8,199.2 482.9,200.7 483.0,200.3 483.1,200.0 483.2,201.0 483.3,200.6 483.4,200.0 483.5,200.1 483.6,200.2 483.7,200.1 483.8,200.7 483.9,200.4 484.0,200.2 484.1,200.4 484.2,199.8 484.3,200.5 484.4,200.8 484.5,200.3 484.6,199.8 484.7,200.0 484.8,199.6 484.9,200.7 485.0,200.6 485.1,199.7 485.2,200.0 485.3,199.5 485.4,199.9 485.5,199.5 485.6,200.6 485.7,199.3 485.8,200.4 485.9,199.4 486.0,200.0 486.1,199.6 486.2,199.3 486.3,199.2 486.4,199.7 486.5,199.9 486.6,199.8 486.7,199.8 486.8,199.4 486.9,200.1 487.0,199.3 487.1,199.3 487.2,199.3 487.3,199.5 487.4,198.4 487.5,199.6 487.6,199.4 487.7,199.5 487.8,200.5 487.9,199.3 488.0,198.4 488.1,198.5 488.2,199.4 488.3,198.8 488.4,199.3 488.5,199.1 488.6,198.7 488.7,197.6 488.8,198.2 488.9,198.3 489.0,198.8 489.1,198.2 489.2,198.7 489.3,199.7 489.4,198.0 489.5,197.4 489.6,197.4 489.7,198.5 489.8,198.2 489.9,199.6 490.0,197.6 490.1,197.2 490.2,198.1 490.3,198.5 490.4,199.0 490.5,199.1 490.6,198.6 490.7,197.9 490.8,197.7 490.9,197.4 491.0,198.1 491.1,197.8 491.2,197.0 491.3,197.4 491.4,196.9 491.5,197.7 491.6,197.7 491.7,197.8 491.8,196.8 491.9,196.9 492.0,197.1 492.1,196.3 492.2,196.8 492.3,197.0 492.4,197.1 492.5,196.7 492.6,197.9 492.7,197.3 492.8,196.6 492.9,196.5 493.0,196.7 493.1,197.1 493.2,197.2 493.3,197.2 493.4,197.0 493.5,196.9 493.6,196.0 493.7,196.3 493.8,196.6 493.9,196.8 494.0,195.8 494.1,196.9 494.2,197.1 494.3,195.4 494.4,195.3 494.5,195.6 494.6,195.7 494.7,196.4 494.8,196.8 494.9,196.8 495.0,195.9 495.1,195.7 495.2,196.9 495.3,196.4 495.4,196.2 495.5,195.7 495.6,195.6 495.7,196.3 495.8,195.9 495.9,195.8 496.0,195.8 496.1,196.2 496.2,196.4 496.3,196.2 496.4,195.9 496.5,194.9 496.6,196.1 496.7,195.8 496.8,194.7 496.9,195.6 497.0,195.3 497.1,195.8 497.2,195.9 497.3,196.2 497.4,196.9 497.5,195.1 497.6,196.5 497.7,195.3 497.8,196.5 497.9,196.1 498.0,196.0 498.1,194.8 498.2,196.3 498.3,196.5 498.4,196.2 498.5,196.6 498.6,197.1 498.7,196.4 498.8,196.5 498.9,196.3 499.0,195.7 499.1,197.2 499.2,197.1 499.3,196.2 499.4,196.3 499.5,197.0 499.6,196.7 499.7,196.2 499.8,196.3 499.9,197.6 500.0,196.5 500.1,196.7 500.2,197.2 500.3,197.3 500.4,197.5 500.5,196.9 500.6,197.0 500.7,197.2 500.8,196.8 500.9,198.4 501.0,197.3 501.1,198.0 501.2,197.1 501.3,197.2 501.4,197.3 501.5,197.3 501.6,196.9 501.7,197.4 501.8,198.2 501.9,198.7 502.0,198.6 502.1,198.7 502.2,199.2 502.3,198.4 502.4,198.9 502.5,199.1 502.6,198.2 502.7,198.5 502.8,199.1 502.9,199.5 503.0,198.1 503.1,199.6 503.2,198.5 503.3,198.2 503.4,198.4 503.5,197.9 503.6,198.9 503.7,199.1 503.8,199.9 503.9,199.6 504.0,200.1 504.1,200.6 504.2,200.4 504.3,199.2 504.4,199.1 504.5,199.7 504.6,199.6 504.7,200.1 504.8,199.6 504.9,199.5 505.0,200.5 505.1,200.2 505.2,200.7 505.3,200.7 505.4,199.8 505.5,200.6 505.6,200.5 505.7,200.5 505.8,200.6 505.9,199.9 506.0,200.0 506.1,199.7 506.2,199.5 506.3,199.8 506.4,199.4 506.5,200.8 506.6,200.5 506.7,200.3 506.8,200.8 506.9,199.3 507.0,201.6 507.1,199.8 507.2,200.5 507.3,200.4 507.4,200.0 507.5,200.7 507.6,200.2 507.7,200.9 507.8,201.0 507.9,200.3 508.0,201.5 508.1,200.9 508.2,200.2 508.3,200.1 508.4,200.9 508.5,199.0 508.6,199.9 508.7,200.6 508.8,200.9 508.9,200.6 509.0,200.6 509.1,200.0 509.2,199.9 509.3,201.5 509.4,200.3 509.5,200.7 509.6,200.5 509.7,201.4 509.8,199.4 509.9,200.5 510.0,200.1 510.1,200.4 510.2,200.8 510.3,200.0 510.4,201.3 510.5,200.3 510.6,201.1 510.7,200.6 510.8,200.7 510.9,201.1 511.0,200.6 511.1,200.9 511.2,200.6 511.3,200.9 511.4,199.9 511.5,201.7 511.6,200.8 511.7,200.6 511.8,200.5 511.9,200.4 512.0,199.7 512.1,200.9 512.2,201.0 512.3,200.4 512.4,199.7 512.5,199.8 512.6,201.0 512.7,200.4 512.8,200.7 512.9,200.3 513.0,201.1 513.1,200.7 513.2,200.0 513.3,199.6 513.4,200.2 513.5,200.0 513.6,200.0 513.7,201.3 513.8,201.3 513.9,201.0 514.0,200.7 514.1,202.0 514.2,200.2 514.3,200.7 514.4,200.4 514.5,200.1 514.6,201.3 514.7,200.6 514.8,200.2 514.9,200.2 515.0,200.6 515.1,200.4 515.2,199.9 515.3,200.2 515.4,200.9 515.5,199.8 515.6,200.3 515.7,202.0 515.8,200.9 515.9,200.4 516.0,200.8 516.1,200.5 516.2,200.5 516.3,201.3 516.4,200.8 516.5,201.1 516.6,200.5 516.7,200.5 516.8,201.1 516.9,201.6 517.0,201.0 517.1,200.4 517.2,201.2 517.3,201.0 517.4,200.5 517.5,200.4 517.6,200.8 517.7,199.9 517.8,200.5 517.9,199.8 518.0,201.4 518.1,200.9 518.2,201.1 518.3,200.2 518.4,201.2 518.5,201.1 518.6,200.3 518.7,201.4 518.8,200.7 518.9,200.8 519.0,201.0 519.1,200.3 519.2,200.6 519.3,200.7 519.4,200.8 519.5,200.5 519.6,201.1 519.7,200.4 519.8,200.0 519.9,200.8 520.0,200.5 520.1,200.9 520.2,201.8 520.3,201.4 520.4,201.4 520.5,200.8 520.6,200.8 520.7,200.6 520.8,200.8 520.9,201.1 521.0,201.2 521.1,200.8 521.2,200.3 521.3,201.3 521.4,199.7 521.5,200.4 521.6,200.9 521.7,201.8 521.8,201.2 521.9,201.7 522.0,201.0 522.1,200.0 522.2,200.6 522.3,200.3 522.4,200.8 522.5,200.5 522.6,200.5 522.7,201.2 522.8,201.2 522.9,201.9 523.0,200.7 523.1,200.8 523.2,201.2 523.3,200.9 523.4,200.5 523.5,200.7 523.6,199.8 523.7,200.3 523.8,200.9 523.9,200.8 524.0,200.3 524.1,200.6 524.2,202.1 524.3,201.5 524.4,200.9 524.5,200.2 524.6,201.4 524.7,200.2 524.8,199.4 524.9,201.1 525.0,201.9 525.1,199.8 525.2,199.6 525.3,200.3 525.4,201.1 525.5,200.6 525.6,200.5 525.7,200.4 525.8,201.1 525.9,201.4 526.0,200.6 526.1,201.6 526.2,200.6 526.3,201.0 526.4,200.8 526.5,200.5 526.6,200.7 526.7,199.4 526.8,200.8 526.9,201.8 527.0,201.6 527.1,201.2 527.2,201.0 527.3,200.0 527.4,201.1 527.5,200.0 527.6,201.0 527.7,201.4 527.8,199.8 527.9,200.5 528.0,201.3 528.1,200.9 528.2,200.7 528.3,201.5 528.4,201.6 528.5,200.5 528.6,199.7 528.7,200.5 528.8,200.9 528.9,202.1 529.0,201.4 529.1,200.4 529.2,201.5 529.3,200.4 529.4,200.3 529.5,200.3 529.6,200.7 529.7,201.2 529.8,201.0 529.9,200.2 530.0,200.8 530.1,199.4 530.2,200.3 530.3,199.4 530.4,200.6 530.5,201.9 530.6,201.2 530.7,200.1 530.8,201.1 530.9,201.0 531.0,200.4 531.1,200.6 531.2,200.0 531.3,201.6 531.4,200.7 531.5,200.0 531.6,199.7 531.7,201.5 531.8,199.8 531.9,200.5 532.0,200.2 532.1,200.4 532.2,200.8 532.3,201.1 532.4,200.4 532.5,200.4 532.6,201.0 532.7,200.9 532.8,201.3 532.9,199.9 533.0,201.3 533.1,201.4 533.2,200.0 533.3,200.7 533.4,201.0 533.5,200.8 533.6,201.3 533.7,201.5 533.8,201.5 533.9,200.1 534.0,201.6 534.1,201.3 534.2,200.3 534.3,200.2 534.4,201.1 534.5,200.4 534.6,200.4 534.7,200.1 534.8,201.4 534.9,200.5 535.0,201.4 535.1,200.0 535.2,200.3 535.3,200.9 535.4,201.2 535.5,201.9 535.6,200.8 535.7,200.6 535.8,200.1 535.9,201.6 536.0,200.9 536.1,201.0 536.2,200.9 536.3,200.9 536.4,200.7 536.5,200.9 536.6,200.9 536.7,200.9 536.8,201.3 536.9,201.0 537.0,199.9 537.1,200.0 537.2,200.3 537.3,200.8 537.4,201.2 537.5,201.3 537.6,201.0 537.7,200.8 537.8,200.1 537.9,200.9 538.0,201.0 538.1,200.2 538.2,201.0 538.3,200.9 538.4,200.3 538.5,200.9 538.6,200.9 538.7,200.4 538.8,200.6 538.9,200.7 539.0,200.5 539.1,199.6 539.2,200.7 539.3,199.8 539.4,201.0 539.5,200.8 539.6,201.2 539.7,200.6 539.8,200.3 539.9,200.5 540.0,199.8 540.1,200.9 540.2,200.7 540.3,200.4 540.4,201.2 540.5,199.6 540.6,200.5 540.7,199.8 540.8,199.3 540.9,200.1 541.0,199.8 541.1,201.1 541.2,199.9 541.3,198.4 541.4,201.2 541.5,200.6 541.6,200.7 541.7,200.4 541.8,200.4 541.9,200.8 542.0,200.8 542.1,199.8 542.2,200.7 542.3,198.6 542.4,199.8 542.5,199.8 542.6,199.8 542.7,200.1 542.8,200.0 542.9,200.8 543.0,198.7 543.1,199.4 543.2,200.1 543.3,200.0 543.4,199.1 543.5,199.6 543.6,199.4 543.7,199.7 543.8,199.6 543.9,198.9 544.0,199.2 544.1,198.9 544.2,199.6 544.3,200.2 544.4,200.4 544.5,200.1 544.6,199.6 544.7,198.4 544.8,199.6 544.9,198.5 545.0,198.8 545.1,199.0 545.2,199.4 545.3,199.4 545.4,198.5 545.5,198.2 545.6,199.4 545.7,199.2 545.8,198.3 545.9,199.4 546.0,198.5 546.1,199.5 546.2,199.7 546.3,200.2 546.4,199.2 546.5,198.3 546.6,200.2 546.7,198.0 546.8,198.8 546.9,198.5 547.0,199.0 547.1,199.4 547.2,199.5 547.3,198.1 547.4,197.4 547.5,199.2 547.6,199.4 547.7,198.9 547.8,199.3 547.9,198.4 548.0,198.4 548.1,197.6 548.2,198.9 548.3,198.1 548.4,198.9 548.5,198.1 548.6,197.9 548.7,197.2 548.8,198.3 548.9,198.1 549.0,198.6 549.1,197.7 549.2,198.5 549.3,197.9 549.4,198.1 549.5,197.7 549.6,198.0 549.7,198.4 549.8,198.9 549.9,197.9 550.0,198.3 550.1,198.8 550.2,198.0 550.3,199.0 550.4,198.0 550.5,198.2 550.6,198.6 550.7,198.3 550.8,198.7 550.9,198.8 551.0,198.6 551.1,198.3 551.2,197.5 551.3,198.1 551.4,198.4 551.5,197.8 551.6,198.5 551.7,198.3 551.8,198.2 551.9,198.0 552.0,198.2 552.1,198.3 552.2,198.9 552.3,198.4 552.4,197.5 552.5,198.2 552.6,198.5 552.7,197.3 552.8,198.1 552.9,198.2 553.0,197.8 553.1,198.6 553.2,199.2 553.3,199.0 553.4,198.4 553.5,198.7 553.6,199.4 553.7,198.2 553.8,198.5 553.9,198.7 554.0,198.9 554.1,198.1 554.2,198.7 554.3,197.3 554.4,198.7 554.5,198.1 554.6,198.3 554.7,199.8 554.8,198.4 554.9,197.5 555.0,198.6 555.1,198.9 555.2,198.3 555.3,198.4 555.4,198.8 555.5,198.7 555.6,197.8 555.7,198.1 555.8,198.8 555.9,198.8 556.0,198.6 556.1,199.3 556.2,199.1 556.3,198.4 556.4,199.0 556.5,199.2 556.6,197.9 556.7,198.4 556.8,198.7 556.9,198.2 557.0,199.4 557.1,199.5 557.2,197.4 557.3,198.2 557.4,199.5 557.5,199.9 557.6,199.1 557.7,200.7 557.8,199.2 557.9,199.0 558.0,199.9 558.1,198.6 558.2,198.7 558.3,198.9 558.4,198.8 558.5,198.3 558.6,198.4 558.7,200.1 558.8,199.1 558.9,198.8 559.0,198.3 559.1,198.6 559.2,199.0 559.3,198.4 559.4,199.8 559.5,198.9 559.6,199.5 559.7,198.8 559.8,199.2 559.9,198.3 560.0,198.8 560.1,199.0 560.2,199.7 560.3,198.8 560.4,200.1 560.5,198.9 560.6,199.4 560.7,199.6 560.8,199.3 560.9,199.0 561.0,198.9 561.1,199.6 561.2,199.0 561.3,200.5 561.4,199.9 561.5,199.3 561.6,198.8 561.7,200.1 561.8,200.8 561.9,199.1 562.0,198.7 562.1,200.1 562.2,200.8 562.3,200.0 562.4,199.1 562.5,199.5 562.6,200.2 562.7,199.2 562.8,200.0 562.9,200.2 563.0,200.5 563.1,199.3 563.2,200.0 563.3,200.3 563.4,199.9 563.5,200.4 563.6,199.8 563.7,199.4 563.8,199.2 563.9,199.8 564.0,200.0 564.1,200.6 564.2,200.2 564.3,199.5 564.4,200.4 564.5,201.2 564.6,199.7 564.7,200.4 564.8,199.1 564.9,201.6 565.0,200.8 565.1,201.0 565.2,200.4 565.3,200.5 565.4,200.3 565.5,200.0 565.6,201.5 565.7,201.1 565.8,200.1 565.9,200.3 566.0,200.6 566.1,200.7 566.2,201.5 566.3,199.6 566.4,200.2 566.5,199.5 566.6,200.2 566.7,200.6 566.8,201.6 566.9,201.2 567.0,201.2 567.1,200.5 567.2,201.9 567.3,201.5 567.4,200.6 567.5,200.5 567.6,201.2 567.7,200.2 567.8,200.4 567.9,201.2 568.0,200.9 568.1,200.7 568.2,200.9 568.3,200.9 568.4,200.8 568.5,201.1 568.6,200.0 568.7,201.5 568.8,200.9 568.9,200.9 569.0,201.1 569.1,201.4 569.2,202.4 569.3,200.7 569.4,200.6 569.5,201.0 569.6,200.9 569.7,200.2 569.8,200.9 569.9,200.9 570.0,202.0 570.1,201.7 570.2,200.1 570.3,200.0 570.4,202.2 570.5,201.1 570.6,200.1 570.7,200.9 570.8,202.0 570.9,201.5 571.0,202.4 571.1,202.2 571.2,201.1 571.3,201.9 571.4,200.5 571.5,201.6 571.6,201.6 571.7,201.5 571.8,201.6 571.9,202.5 572.0,200.8 572.1,201.0 572.2,201.4 572.3,201.2 572.4,201.8 572.5,201.4 572.6,200.6 572.7,201.6 572.8,201.1 572.9,200.6 573.0,201.8 573.1,200.9 573.2,201.1 573.3,201.7 573.4,200.9 573.5,200.9 573.6,201.0 573.7,201.4 573.8,201.3 573.9,201.9 574.0,200.8 574.1,202.0 574.2,201.6 574.3,201.7 574.4,201.3 574.5,200.5 574.6,201.1 574.7,201.7 574.8,201.9 574.9,201.0 575.0,201.2 575.1,201.5 575.2,201.7 575.3,201.4 575.4,200.6 575.5,200.7 575.6,201.3 575.7,200.9 575.8,202.6 575.9,200.5 576.0,201.3 576.1,200.8 576.2,201.5 576.3,202.3 576.4,200.0 576.5,201.0 576.6,200.9 576.7,201.4 576.8,200.8 576.9,201.2 577.0,200.6 577.1,201.7 577.2,201.7 577.3,199.3 577.4,199.8 577.5,200.9 577.6,201.0 577.7,200.5 577.8,201.9 577.9,200.1 578.0,202.2 578.1,201.2 578.2,201.5 578.3,200.4 578.4,200.3 578.5,201.2 578.6,202.1 578.7,200.9 578.8,201.8 578.9,201.2 579.0,200.5 579.1,201.2 579.2,201.5 579.3,200.9 579.4,201.3 579.5,201.2 579.6,201.7 579.7,200.7 579.8,200.7 579.9,201.3 580.0,200.0 580.1,200.8 580.2,200.6 580.3,200.6 580.4,201.3 580.5,200.9 580.6,200.7 580.7,201.2 580.8,200.0 580.9,201.1 581.0,200.3 581.1,200.9 581.2,201.5 581.3,200.6 581.4,200.1 581.5,199.7 581.6,200.1 581.7,200.0 581.8,199.8 581.9,199.7 582.0,199.9 582.1,199.8 582.2,200.1 582.3,200.0 582.4,200.9 582.5,199.9 582.6,199.9 582.7,200.1 582.8,200.1 582.9,199.6 583.0,199.4 583.1,199.6 583.2,199.5 583.3,200.4 583.4,199.2 583.5,199.5 583.6,199.7 583.7,199.9 583.8,200.4 583.9,199.4 584.0,199.5 584.1,200.3 584.2,200.2 584.3,199.5 584.4,198.9 584.5,199.7 584.6,198.8 584.7,200.2 584.8,199.8 584.9,198.8 585.0,199.9 585.1,199.0 585.2,199.2 585.3,200.0 585.4,198.8 585.5,198.5 585.6,198.8 585.7,199.6 585.8,199.6 585.9,199.1 586.0,198.5 586.1,199.3 586.2,199.0 586.3,200.0 586.4,198.6 586.5,200.0 586.6,199.6 586.7,199.9 586.8,200.0 586.9,200.1 587.0,199.2 587.1,200.3 587.2,199.2 587.3,200.4 587.4,200.1 587.5,199.8 587.6,200.1 587.7,200.3 587.8,200.3 587.9,200.8 588.0,200.4 588.1,200.2 588.2,201.7 588.3,200.0 588.4,199.9 588.5,200.8 588.6,201.1 588.7,201.2 588.8,201.2 588.9,201.4 589.0,200.3 589.1,201.2 589.2,200.1 589.3,200.9 589.4,200.3 589.5,200.9 589.6,201.1 589.7,201.1 589.8,200.7 589.9,200.5 590.0,201.5 590.1,201.7 590.2,200.7 590.3,199.9 590.4,201.0 590.5,201.5 590.6,200.8 590.7,200.8 590.8,201.5 590.9,201.8 591.0,200.6 591.1,200.5 591.2,200.9 591.3,200.3 591.4,201.4 591.5,200.4 591.6,201.9 591.7,200.9 591.8,201.0 591.9,201.7 592.0,201.6 592.1,201.4 592.2,201.6 592.3,200.9 592.4,202.4 592.5,200.5 592.6,201.0 592.7,200.7 592.8,200.7 592.9,201.9 593.0,202.1 593.1,202.0 593.2,201.5 593.3,200.4 593.4,200.5 593.5,200.7 593.6,200.9 593.7,201.5 593.8,201.6 593.9,201.3 594.0,200.4 594.1,201.7 594.2,201.3 594.3,200.3 594.4,201.6 594.5,200.9 594.6,202.5 594.7,200.6 594.8,201.7 594.9,201.1 595.0,200.1 595.1,200.5 595.2,200.5 595.3,201.2 595.4,202.0 595.5,201.6 595.6,202.3 595.7,201.8 595.8,202.1 595.9,201.5 596.0,201.7 596.1,201.8 596.2,201.2 596.3,201.5 596.4,201.0 596.5,201.2 596.6,200.9 596.7,201.2 596.8,201.2 596.9,202.0 597.0,201.0 597.1,200.9 597.2,201.5 597.3,201.1 597.4,201.1 597.5,201.5 597.6,201.6 597.7,201.4 597.8,202.0 597.9,202.4 598.0,202.0 598.1,201.2 598.2,200.7 598.3,200.7 598.4,201.4 598.5,200.5 598.6,201.6 598.7,201.1 598.8,201.3 598.9,201.7 599.0,201.5 599.1,200.2 599.2,200.4 599.3,202.2 599.4,201.3 599.5,202.2 599.6,201.3 599.7,201.6 599.8,201.0 599.9,201.7 600.0,201.9 600.1,201.5 600.2,201.9 600.3,201.5 600.4,200.2 600.5,201.7 600.6,201.9 600.7,200.9 600.8,201.9 600.9,200.7 601.0,201.3 601.1,201.6 601.2,200.0 601.3,201.7 601.4,201.4 601.5,201.9 601.6,201.1 601.7,201.7 601.8,201.4 601.9,201.4 602.0,200.9 602.1,202.2 602.2,200.6 602.3,201.2 602.4,201.6 602.5,201.0 602.6,202.0 602.7,201.1 602.8,201.0 602.9,201.7 603.0,202.5 603.1,201.3 603.2,202.1 603.3,201.1 603.4,200.5 603.5,201.5 603.6,201.9 603.7,201.7 603.8,201.0 603.9,201.1 604.0,201.3 604.1,201.7 604.2,202.8 604.3,201.4 604.4,202.5 604.5,202.7 604.6,201.2 604.7,200.9 604.8,202.1 604.9,200.6 605.0,202.3 605.1,201.4 605.2,201.9 605.3,201.7 605.4,200.5 605.5,202.1 605.6,201.7 605.7,200.1 605.8,200.4 605.9,201.6 606.0,201.5 606.1,201.4 606.2,201.5 606.3,200.9 606.4,201.2 606.5,202.2 606.6,200.1 606.7,200.1 606.8,202.2 606.9,201.8 607.0,202.4 607.1,201.9 607.2,202.1 607.3,201.7 607.4,200.7 607.5,200.9 607.6,202.0 607.7,201.6 607.8,202.0 607.9,202.4 608.0,201.5 608.1,202.7 608.2,201.2 608.3,201.5 608.4,201.9 608.5,202.0 608.6,201.3 608.7,202.0 608.8,200.6 608.9,201.7 609.0,202.1 609.1,201.6 609.2,201.5 609.3,201.6 609.4,201.0 609.5,202.7 609.6,201.7 609.7,201.4 609.8,201.5 609.9,201.8 610.0,201.2 610.1,200.8 610.2,202.1 610.3,201.2 610.4,201.3 610.5,200.5 610.6,201.8 610.7,202.0 610.8,201.9 610.9,201.8 611.0,200.5 611.1,202.5 611.2,201.9 611.3,201.3 611.4,202.0 611.5,201.7 611.6,201.8 611.7,201.2 611.8,201.6 611.9,201.4 612.0,201.9 612.1,201.4 612.2,201.8 612.3,201.5 612.4,201.9 612.5,202.1 612.6,201.7 612.7,202.2 612.8,201.6 612.9,202.9 613.0,202.3 613.1,202.3 613.2,200.8 613.3,201.3 613.4,201.6 613.5,201.9 613.6,201.8 613.7,201.9 613.8,201.0 613.9,202.8 614.0,201.8 614.1,202.0 614.2,201.7 614.3,201.7 614.4,201.6 614.5,202.6 614.6,201.4 614.7,201.9 614.8,202.3 614.9,200.8 615.0,201.1 615.1,201.0 615.2,201.9 615.3,200.6 615.4,201.4 615.5,201.5 615.6,201.3 615.7,200.5 615.8,202.6 615.9,201.1 616.0,201.1 616.1,202.2 616.2,201.2 616.3,201.2 616.4,201.0 616.5,201.3 616.6,201.6 616.7,202.2 616.8,201.5 616.9,201.6 617.0,200.4 617.1,201.6 617.2,202.0 617.3,202.1 617.4,200.5 617.5,201.0 617.6,200.5 617.7,201.4 617.8,202.2 617.9,200.6 618.0,201.7 618.1,201.1 618.2,202.1 618.3,201.1 618.4,200.4 618.5,201.1 618.6,201.3 618.7,201.2 618.8,201.0 618.9,201.8 619.0,201.7 619.1,201.3 619.2,201.8 619.3,201.6 619.4,202.3 619.5,202.6 619.6,202.6 619.7,201.3 619.8,201.9 619.9,201.4 620.0,201.8 620.1,201.9 620.2,201.5 620.3,201.4 620.4,202.0 620.5,201.3 620.6,201.2 620.7,200.9 620.8,200.8 620.9,202.0 621.0,202.2 621.1,201.4 621.2,201.1 621.3,202.4 621.4,201.4 621.5,201.1 621.6,201.3 621.7,201.9 621.8,201.6 621.9,202.4 622.0,202.1 622.1,201.7 622.2,200.5 622.3,201.0 622.4,202.4 622.5,202.3 622.6,202.0 622.7,202.0 622.8,201.6 622.9,201.6 623.0,201.0 623.1,202.0 623.2,201.8 623.3,200.9 623.4,200.8 623.5,201.8 623.6,201.1 623.7,202.5 623.8,201.6 623.9,200.9 624.0,201.3 624.1,201.1 624.2,201.1 624.3,201.9 624.4,201.1 624.5,200.9 624.6,200.2 624.7,201.9 624.8,201.7 624.9,200.3 625.0,202.2 625.1,201.3 625.2,202.6 625.3,201.6 625.4,201.2 625.5,201.9 625.6,202.2 625.7,200.8 625.8,201.7 625.9,201.9 626.0,201.4 626.1,200.9 626.2,201.2 626.3,202.2 626.4,202.1 626.5,201.7 626.6,202.7 626.7,202.0 626.8,202.2 626.9,202.0 627.0,201.8 627.1,201.6 627.2,202.0 627.3,201.4 627.4,201.6 627.5,200.2 627.6,200.9 627.7,200.8 627.8,202.7 627.9,200.4 628.0,201.7 628.1,202.1 628.2,201.4 628.3,201.5 628.4,201.7 628.5,200.4 628.6,201.5 628.7,202.3 628.8,202.0 628.9,201.6 629.0,201.6 629.1,202.2 629.2,201.1 629.3,201.8 629.4,202.3 629.5,200.9 629.6,201.5 629.7,202.1 629.8,202.8 629.9,201.0 630.0,202.2 630.1,202.7 630.2,202.0 630.3,201.6 630.4,201.6 630.5,200.9 630.6,202.4 630.7,200.8 630.8,201.5 630.9,201.3 631.0,201.8 631.1,201.3 631.2,202.4 631.3,200.5 631.4,200.4 631.5,201.6 631.6,200.7 631.7,202.0 631.8,202.0 631.9,202.1 632.0,200.9 632.1,201.1 632.2,201.3 632.3,201.7 632.4,201.6 632.5,202.0 632.6,201.3 632.7,202.8 632.8,201.8 632.9,201.9 633.0,200.2 633.1,201.1 633.2,202.2 633.3,201.3 633.4,201.3 633.5,200.9 633.6,201.5 633.7,202.1 633.8,201.6 633.9,202.3 634.0,201.1 634.1,202.0 634.2,201.7 634.3,201.7 634.4,200.8 634.5,201.6 634.6,201.8 634.7,200.7 634.8,202.7 634.9,201.6 635.0,200.9 635.1,202.3 635.2,201.0 635.3,201.8 635.4,200.7 635.5,202.3 635.6,201.8 635.7,201.6 635.8,201.1 635.9,200.9 636.0,202.5 636.1,201.5 636.2,202.3 636.3,201.0 636.4,201.6 636.5,201.0 636.6,201.9 636.7,200.5 636.8,202.1 636.9,200.9 637.0,201.9 637.1,201.7 637.2,201.6 637.3,201.6 637.4,202.6 637.5,201.0 637.6,201.2 637.7,202.3 637.8,202.0 637.9,202.4 638.0,201.8 638.1,201.4 638.2,201.6 638.3,201.9 638.4,202.1 638.5,201.8 638.6,201.2 638.7,201.5 638.8,202.6 638.9,201.2 639.0,202.5 639.1,200.8 639.2,201.1 639.3,200.7 639.4,202.2 639.5,201.4 639.6,201.6 639.7,202.4 639.8,201.9 639.9,200.8 640.0,201.0 640.1,200.6 640.2,202.1 640.3,201.6 640.4,201.1 640.5,201.6 640.6,202.0 640.7,202.2 640.8,203.0 640.9,201.3 641.0,202.2 641.1,202.3 641.2,201.9 641.3,200.3 641.4,200.9 641.5,202.8 641.6,201.2 641.7,201.8 641.8,201.2 641.9,202.9 642.0,202.2 642.1,201.2 642.2,201.0 642.3,202.1 642.4,202.4 642.5,201.5 642.6,202.2 642.7,201.8 642.8,201.8 642.9,201.9 643.0,200.9 643.1,203.5 643.2,201.9 643.3,201.7 643.4,202.6 643.5,200.9 643.6,202.0 643.7,203.1 643.8,202.1 643.9,202.2 644.0,201.5 644.1,201.5 644.2,202.0 644.3,201.2 644.4,201.0 644.5,200.9 644.6,200.7 644.7,202.4 644.8,202.2 644.9,202.4 645.0,201.9 645.1,201.9 645.2,201.0 645.3,201.6 645.4,202.2 645.5,201.3 645.6,200.7 645.7,202.1 645.8,201.0 645.9,202.2 646.0,201.5 646.1,201.3 646.2,201.4 646.3,201.4 646.4,202.1 646.5,202.1 646.6,202.3 646.7,201.9 646.8,201.7 646.9,202.1 647.0,201.5 647.1,201.3 647.2,201.6 647.3,201.4 647.4,200.7 647.5,201.0 647.6,202.0 647.7,201.7 647.8,201.5 647.9,201.9 648.0,201.9 648.1,202.4 648.2,202.1 648.3,201.8 648.4,201.9 648.5,201.9 648.6,200.6 648.7,202.8 648.8,201.1 648.9,202.1 649.0,201.5 649.1,201.3 649.2,202.5 649.3,201.2 649.4,201.5 649.5,200.4 649.6,202.1 649.7,201.4 649.8,201.2 649.9,202.3 650.0,201.6 650.1,200.4 650.2,202.1 650.3,201.1 650.4,201.2 650.5,201.2 650.6,200.7 650.7,201.3 650.8,201.6 650.9,202.2 651.0,202.0 651.1,201.4 651.2,202.8 651.3,201.6 651.4,202.5 651.5,201.9 651.6,201.8 651.7,200.4 651.8,202.5 651.9,200.8 652.0,202.1 652.1,200.7 652.2,200.6 652.3,200.8 652.4,200.9 652.5,201.1 652.6,201.9 652.7,202.0 652.8,202.0 652.9,202.4 653.0,202.2 653.1,202.0 653.2,201.8 653.3,202.6 653.4,201.8 653.5,200.6 653.6,201.3 653.7,202.5 653.8,201.6 653.9,201.5 654.0,202.5 654.1,201.9 654.2,201.8 654.3,201.8 654.4,202.7 654.5,202.0 654.6,201.9 654.7,201.9 654.8,201.5 654.9,201.7 655.0,202.9 655.1,201.9 655.2,202.6 655.3,201.5 655.4,201.6 655.5,201.4 655.6,201.8 655.7,202.5 655.8,201.6 655.9,201.6 656.0,201.0 656.1,202.3 656.2,202.3 656.3,201.9 656.4,202.5 656.5,202.2 656.6,201.7 656.7,200.8 656.8,201.7 656.9,201.3 657.0,202.0 657.1,202.4 657.2,201.6 657.3,200.8 657.4,202.5 657.5,202.3 657.6,202.4 657.7,201.1 657.8,201.6 657.9,202.3 658.0,202.4 658.1,202.3 658.2,200.6 658.3,202.8 658.4,201.4 658.5,201.4 658.6,202.3 658.7,201.6 658.8,201.5 658.9,201.9 659.0,201.8 659.1,201.8 659.2,201.6 659.3,201.2 659.4,201.5 659.5,201.7 659.6,201.6 659.7,202.1 659.8,202.9 659.9,201.1 660.0,201.9 660.1,202.1 660.2,201.2 660.3,201.6 660.4,201.6 660.5,201.7 660.6,201.6 660.7,201.6 660.8,202.3 660.9,201.0 661.0,202.2 661.1,202.3 661.2,202.2 661.3,201.0 661.4,201.0 661.5,201.6 661.6,201.4 661.7,201.3 661.8,202.6 661.9,201.3 662.0,202.3 662.1,202.6 662.2,202.7 662.3,203.0 662.4,202.5 662.5,202.0 662.6,201.0 662.7,201.8 662.8,201.6 662.9,202.9 663.0,202.3 663.1,201.9 663.2,201.1 663.3,201.2 663.4,201.7 663.5,202.0 663.6,202.5 663.7,202.2 663.8,201.9 663.9,202.4 664.0,201.3 664.1,201.5 664.2,201.5 664.3,202.0 664.4,202.2 664.5,201.7 664.6,200.9 664.7,201.9 664.8,201.2 664.9,202.2 665.0,200.6 665.1,203.0 665.2,201.3 665.3,202.9 665.4,202.3 665.5,202.7 665.6,202.5 665.7,201.5 665.8,201.5 665.9,201.4 666.0,201.3 666.1,202.6 666.2,201.3 666.3,201.6 666.4,200.8 666.5,202.0 666.6,201.0 666.7,203.3 666.8,201.8 666.9,201.8 667.0,202.1 667.1,201.4 667.2,201.6 667.3,201.9 667.4,202.0 667.5,202.2 667.6,201.8 667.7,200.6 667.8,201.6 667.9,201.4 668.0,201.7 668.1,202.0 668.2,201.8 668.3,203.1 668.4,201.7 668.5,201.4 668.6,201.9 668.7,201.9 668.8,202.7 668.9,201.5 669.0,202.2 669.1,202.1 669.2,202.0 669.3,202.0 669.4,202.0 669.5,201.1 669.6,201.5 669.7,202.0 669.8,202.8 669.9,202.4 670.0,202.1 670.1,202.1 670.2,202.1 670.3,202.2 670.4,202.4 670.5,201.0 670.6,201.7 670.7,203.2 670.8,202.4 670.9,201.8 671.0,201.6 671.1,202.0 671.2,201.1 671.3,201.5 671.4,202.4 671.5,202.4 671.6,202.1 671.7,202.0 671.8,201.8 671.9,201.2 672.0,201.4 672.1,201.6 672.2,201.9 672.3,201.3 672.4,201.4 672.5,202.7 672.6,201.8 672.7,202.5 672.8,201.9 672.9,201.5 673.0,201.7 673.1,201.2 673.2,202.5 673.3,202.4 673.4,202.4 673.5,202.1 673.6,201.7 673.7,201.5 673.8,202.4 673.9,201.9 674.0,201.7 674.1,201.7 674.2,202.0 674.3,201.6 674.4,202.0 674.5,201.6 674.6,202.5 674.7,201.6 674.8,202.2 674.9,201.8 675.0,201.3"/>
<polyline fill="none" stroke="#f50000" stroke-width="1.8" stroke-linejoin="round" points="399.8,161.9 399.9,163.6 400.0,162.1 400.0,162.8 400.1,161.5 400.2,162.8 400.3,159.9 400.4,162.2 400.4,160.9 400.5,163.7 400.6,160.2 400.7,161.8 400.8,158.8 400.8,160.3 400.9,159.9 401.0,158.9 401.1,158.5 401.2,159.2 401.2,158.6 401.3,158.1 401.4,161.0 401.5,158.2 401.6,157.2 401.6,158.2 401.7,160.2 401.8,156.9 401.9,159.4 402.0,155.6 402.0,158.2 402.1,157.7 402.2,158.4 402.3,159.1 402.4,158.4 402.4,155.3 402.5,158.0 402.6,156.8 402.7,157.1 402.8,156.3 402.8,156.5 402.9,158.3 403.0,157.9 403.1,156.5 403.2,154.9 403.2,155.6 403.3,156.4 403.4,155.7 403.5,157.5 403.6,155.5 403.6,154.8 403.7,156.4 403.8,155.5 403.9,153.2 404.0,155.0 404.0,155.7 404.1,156.6 404.2,152.4 404.3,155.0 404.4,154.2 404.4,154.3 404.5,153.2 404.6,155.0 404.7,154.5 404.8,152.7 404.8,153.3 404.9,156.5 405.0,152.3 405.1,151.8 405.2,153.1 405.2,154.6 405.3,153.7 405.4,152.6 405.5,153.7 405.6,152.7 405.6,153.3 405.7,154.4 405.8,151.5 405.9,152.7 406.0,151.1 406.0,150.5 406.1,151.1 406.2,153.2 406.3,154.7 406.4,154.3 406.4,151.5 406.5,153.1 406.6,152.2 406.7,153.8 406.8,152.0 406.8,151.4 406.9,152.1 407.0,152.9 407.1,150.5 407.2,151.8 407.2,150.0 407.3,153.1 407.4,149.9 407.5,150.7 407.6,151.8 407.6,151.7 407.7,150.2 407.8,150.5 407.9,149.2 408.0,147.8 408.0,148.0 408.1,150.1 408.2,150.6 408.3,147.6 408.4,149.2 408.4,149.3 408.5,147.7 408.6,149.5 408.7,149.9 408.8,150.3 408.8,149.7 408.9,149.0 409.0,150.9 409.1,148.9 409.2,148.1 409.2,149.1 409.3,148.6 409.4,149.9 409.5,145.5 409.6,151.5 409.6,150.4 409.7,148.7 409.8,148.7 409.9,148.3 410.0,149.6 410.0,149.0 410.1,149.7 410.2,148.5 410.3,149.1 410.4,149.1 410.4,147.6 410.5,151.2 410.6,148.5 410.7,148.7 410.8,148.9 410.8,147.3 410.9,150.1 411.0,148.2 411.1,149.5 411.2,149.9 411.2,148.5 411.3,149.7 411.4,149.3 411.5,147.8 411.6,149.5 411.6,148.1 411.7,149.3 411.8,147.8 411.9,148.7 412.0,147.7 412.0,149.2 412.1,149.1 412.2,148.5 412.3,147.6 412.4,146.6 412.4,149.9 412.5,148.5 412.6,147.5 412.7,148.8 412.8,148.8 412.8,149.3 412.9,146.8 413.0,148.8 413.1,149.8 413.2,150.5 413.2,149.8 413.3,149.3 413.4,150.3 413.5,149.6 413.6,147.5 413.6,149.9 413.7,148.3 413.8,152.3 413.9,150.4 414.0,151.5 414.0,151.8 414.1,149.4 414.2,149.6 414.3,151.5 414.4,150.8 414.4,149.7 414.5,149.8 414.6,151.6 414.7,152.7 414.8,151.2 414.8,150.7 414.9,151.0 415.0,149.5 415.1,151.7 415.2,152.3 415.2,150.1 415.3,152.0 415.4,152.3 415.5,152.7 415.6,152.1 415.6,151.6 415.7,153.4 415.8,151.3 415.9,153.7 416.0,152.5 416.0,153.2 416.1,153.6 416.2,152.6 416.3,154.5 416.4,151.9 416.4,153.9 416.5,152.2 416.6,155.0 416.7,153.2 416.8,154.8 416.8,152.3 416.9,155.6 417.0,152.3 417.1,152.0 417.2,152.2 417.2,154.9 417.3,154.6 417.4,154.0 417.5,153.5 417.6,154.8 417.6,156.1 417.7,154.8 417.8,153.3 417.9,156.9 418.0,155.8 418.0,156.1 418.1,154.4 418.2,154.3 418.3,155.9 418.4,154.4 418.4,157.1 418.5,155.4 418.6,158.1 418.7,157.1 418.8,155.8 418.8,157.4 418.9,157.9 419.0,154.2 419.1,157.6 419.2,157.1 419.2,153.7 419.3,155.9 419.4,156.6 419.5,158.4 419.6,156.9 419.6,156.3 419.7,154.9 419.8,156.4 419.9,157.3 420.0,156.2 420.0,156.5 420.1,158.1 420.2,157.9 420.3,158.1 420.4,157.7 420.4,159.0 420.5,156.2 420.6,155.7 420.7,161.1 420.8,159.2 420.8,156.6 420.9,155.7 421.0,160.9 421.1,157.8 421.2,158.8 421.2,161.6 421.3,157.8 421.4,156.2 421.5,159.9 421.6,157.9 421.6,162.0 421.7,158.1 421.8,158.6 421.9,158.7 422.0,159.2 422.0,158.9 422.1,158.5 422.2,159.7 422.3,157.9 422.4,157.8 422.4,159.4 422.5,159.2 422.6,161.2 422.7,161.6 422.8,162.3 422.8,163.1 422.9,159.0 423.0,159.8 423.1,161.5 423.2,161.6 423.2,162.8 423.3,160.2 423.4,159.7 423.5,162.2 423.6,161.9 423.6,159.7 423.7,161.0 423.8,160.0 423.9,162.1 424.0,161.5 424.0,161.1 424.1,160.0 424.2,160.1 424.3,162.0 424.4,159.5 424.4,160.0 424.5,162.6 424.6,163.0 424.7,162.3 424.8,160.9 424.8,160.3 424.9,162.3 425.0,161.7 425.1,161.2 425.2,163.0 425.2,163.0 425.3,159.4 425.4,165.4 425.5,162.9 425.6,162.3 425.6,162.5 425.7,164.4 425.8,163.5 425.9,162.7 426.0,162.5 426.0,163.8 426.1,165.7 426.2,164.0 426.3,164.6 426.4,163.8 426.4,164.5 426.5,164.3 426.6,165.3 426.7,165.2 426.8,162.3 426.8,162.2 426.9,164.0 427.0,161.9 427.1,164.3 427.2,163.3 427.2,162.7 427.3,161.9 427.4,162.6 427.5,162.5 427.6,166.9 427.6,165.1 427.7,166.0 427.8,164.5 427.9,164.7 428.0,164.3 428.0,165.6 428.1,164.8 428.2,164.3 428.3,163.6 428.4,162.7 428.4,163.0 428.5,166.0 428.6,164.0 428.7,166.5 428.8,162.6 428.8,165.5 428.9,166.8 429.0,162.9 429.1,163.4 429.2,165.5 429.2,165.8 429.3,166.0 429.4,164.7 429.5,166.3 429.6,166.6 429.6,162.7 429.7,164.2 429.8,165.3 429.9,164.8 430.0,165.1 430.0,166.2 430.1,163.8 430.2,165.8 430.3,168.3 430.4,166.9 430.4,166.1 430.5,166.0 430.6,167.8 430.7,167.4 430.8,167.5 430.8,165.3 430.9,166.0 431.0,166.1 431.1,166.0 431.2,166.9 431.2,167.2 431.3,168.0 431.4,166.2 431.5,165.4 431.6,167.6 431.6,166.5 431.7,166.3 431.8,165.9 431.9,165.3 432.0,166.8 432.0,165.7 432.1,166.7 432.2,167.5 432.3,169.4 432.4,167.2 432.4,166.9 432.5,168.2 432.6,169.4 432.7,167.1 432.8,168.1 432.8,169.0 432.9,166.6 433.0,166.2 433.1,168.6 433.2,166.5 433.2,165.5 433.3,167.1 433.4,168.9 433.5,168.8 433.6,166.8 433.6,169.7 433.7,167.8 433.8,169.1 433.9,167.1 434.0,169.5 434.0,171.4 434.1,167.9 434.2,167.2 434.3,168.4 434.4,169.2 434.4,170.2 434.5,168.9 434.6,169.4 434.7,169.0 434.8,167.7 434.8,170.8 434.9,169.2 435.0,171.7 435.1,168.3 435.2,168.7 435.2,170.2 435.3,170.6 435.4,171.3 435.5,171.5 435.6,171.0 435.6,167.9 435.7,172.8 435.8,170.4 435.9,169.0 436.0,170.4 436.0,168.7 436.1,171.8 436.2,170.7 436.3,170.9 436.4,169.9 436.4,171.6 436.5,171.1 436.6,169.5 436.7,170.4 436.8,171.1 436.8,169.0 436.9,172.2 437.0,170.0 437.1,171.2 437.2,171.3 437.2,169.1 437.3,171.1 437.4,169.0 437.5,171.3 437.6,170.1 437.6,171.5 437.7,170.0 437.8,169.4 437.9,171.6 438.0,168.5 438.0,170.9 438.1,170.9 438.2,172.1 438.3,172.2 438.4,171.3 438.4,170.4 438.5,170.1 438.6,169.7 438.7,171.6 438.8,168.7 438.8,170.5 438.9,172.5 439.0,172.4 439.1,173.4 439.2,172.8 439.2,170.9 439.3,172.1 439.4,168.9 439.5,171.3 439.6,172.2 439.6,170.7 439.7,171.9 439.8,173.1 439.9,171.2 440.0,173.1 440.0,168.7 440.1,173.5 440.2,172.6 440.3,170.3 440.4,171.6 440.4,172.7 440.5,170.3 440.6,171.8 440.7,175.3 440.8,172.4 440.8,174.7 440.9,170.5 441.0,170.6 441.1,172.3 441.2,171.7 441.2,173.8 441.3,169.6 441.4,172.0 441.5,172.9 441.6,173.4 441.6,173.1 441.7,171.7 441.8,172.8 441.9,172.2 442.0,172.0 442.0,173.1 442.1,172.3 442.2,171.6 442.3,172.2 442.4,173.2 442.4,174.3 442.5,173.5 442.6,171.1 442.7,171.9 442.8,175.6 442.8,172.9 442.9,173.9 443.0,169.3 443.1,171.2 443.2,172.7 443.2,172.0 443.3,173.8 443.4,173.5 443.5,174.3 443.6,173.2 443.6,173.3 443.7,173.3 443.8,174.4 443.9,174.1 444.0,175.4 444.0,171.1 444.1,174.4 444.2,175.7 444.3,172.8 444.4,174.1 444.4,173.2 444.5,171.4 444.6,175.1 444.7,172.5 444.8,173.6 444.8,173.2 444.9,173.2 445.0,172.5 445.1,171.5 445.2,174.3 445.2,173.7 445.3,175.4 445.4,173.1 445.5,175.2 445.6,173.3 445.6,170.0 445.7,173.7 445.8,174.5 445.9,174.0 446.0,175.8 446.0,174.4 446.1,173.1 446.2,171.7 446.3,172.2 446.4,174.5 446.4,172.2 446.5,173.6 446.6,175.0 446.7,175.5 446.8,175.6 446.8,173.3 446.9,174.7 447.0,175.5 447.1,173.7 447.2,173.4 447.2,173.4 447.3,173.9 447.4,173.3 447.5,177.3 447.6,174.0 447.6,175.0 447.7,173.8 447.8,175.3 447.9,177.4 448.0,175.0 448.0,177.2 448.1,174.9 448.2,175.2 448.3,175.4 448.4,176.5 448.4,173.8 448.5,173.6 448.6,175.0 448.7,175.8 448.8,174.1 448.8,174.9 448.9,175.2 449.0,175.7 449.1,175.0 449.2,171.9 449.2,175.2 449.3,175.3 449.4,173.5 449.5,176.1 449.6,174.8 449.6,174.9 449.7,173.2 449.8,177.5 449.9,177.8 450.0,175.1 450.0,172.9 450.1,173.4 450.2,174.3 450.3,174.7 450.4,174.4 450.4,176.1 450.5,174.2 450.6,175.1 450.7,175.5 450.8,175.8 450.8,173.9 450.9,176.4 451.0,173.2 451.1,175.6 451.2,173.6 451.2,174.6 451.3,175.7 451.4,177.0 451.5,177.2 451.6,173.8 451.6,173.0 451.7,173.4 451.8,176.7 451.9,173.9 452.0,177.3 452.0,174.7 452.1,173.1 452.2,173.9 452.3,175.5 452.4,174.4 452.4,173.6 452.5,175.8 452.6,176.4 452.7,174.3 452.8,174.7 452.8,176.6 452.9,175.8 453.0,175.0 453.1,175.6 453.2,177.4 453.2,176.8 453.3,176.0 453.4,173.1 453.5,175.3 453.6,174.4 453.6,174.9 453.7,177.4 453.8,175.8 453.9,174.4 454.0,176.7 454.0,172.9 454.1,177.8 454.2,175.6 454.3,176.5 454.4,175.8 454.4,177.5 454.5,174.8 454.6,175.0 454.7,173.3 454.8,173.3 454.8,176.2 454.9,174.4 455.0,176.9 455.1,174.0 455.2,175.2 455.2,172.8 455.3,176.2 455.4,174.3 455.5,175.6 455.6,177.1 455.6,176.6 455.7,177.5 455.8,176.7 455.9,176.1 456.0,174.3 456.0,175.3 456.1,176.7 456.2,175.0 456.3,175.9 456.4,174.9 456.4,177.8 456.5,176.0 456.6,175.0 456.7,177.8 456.8,175.4 456.8,176.7 456.9,178.9 457.0,177.7 457.1,175.0 457.2,174.4 457.2,176.0 457.3,176.0 457.4,175.5 457.5,176.8 457.6,176.3 457.6,176.1 457.7,174.0 457.8,174.2 457.9,177.1 458.0,174.7 458.0,179.0 458.1,175.1 458.2,176.2 458.3,177.1 458.4,178.1 458.4,177.0 458.5,176.9 458.6,173.7 458.7,174.7 458.8,176.3 458.8,175.0 458.9,177.3 459.0,175.4 459.1,175.8 459.2,176.7 459.2,177.5 459.3,175.0 459.4,175.4 459.5,173.2 459.6,174.9 459.6,176.5 459.7,176.5 459.8,177.5 459.9,175.2 460.0,176.4 460.0,173.1 460.1,175.1 460.2,177.8 460.3,173.1 460.4,174.5 460.4,175.6 460.5,174.6 460.6,174.0 460.7,176.4 460.8,176.8 460.8,177.6 460.9,177.1 461.0,176.1 461.1,175.4 461.2,176.8 461.2,175.3 461.3,175.7 461.4,176.8 461.5,175.6 461.6,178.3 461.6,174.1 461.7,175.8 461.8,178.4 461.9,178.0 462.0,176.7 462.0,177.8 462.1,175.0 462.2,175.7 462.3,173.4 462.4,175.6 462.4,176.4 462.5,177.1 462.6,174.5 462.7,177.7 462.8,176.7 462.8,176.3 462.9,174.6 463.0,176.1 463.1,174.9 463.2,176.5 463.2,177.7 463.3,176.0 463.4,174.5 463.5,176.1 463.6,175.8 463.6,177.2 463.7,176.5 463.8,178.1 463.9,173.2 464.0,175.7 464.0,175.4 464.1,175.9 464.2,173.4 464.3,177.1 464.4,175.7 464.4,178.9 464.5,176.2 464.6,172.5 464.7,176.2 464.8,176.3 464.8,175.4 464.9,178.7 465.0,174.7 465.1,176.4 465.2,175.1 465.2,175.5 465.3,177.4 465.4,175.9 465.5,177.0 465.6,175.3 465.6,176.1 465.7,177.5 465.8,174.7 465.9,173.6 466.0,176.2 466.0,175.8 466.1,177.4 466.2,176.1 466.3,173.9 466.4,175.7 466.4,173.8 466.5,175.6 466.6,174.9 466.7,175.9 466.8,174.6 466.8,176.9 466.9,176.4 467.0,175.2 467.1,175.8 467.2,176.7 467.2,174.4 467.3,174.0 467.4,177.8 467.5,174.2 467.6,174.3 467.6,174.1 467.7,174.5 467.8,176.8 467.9,177.4 468.0,176.9 468.0,176.5 468.1,175.0 468.2,176.6 468.3,175.1 468.4,175.9 468.4,174.6 468.5,174.7 468.6,176.5 468.7,178.7 468.8,175.8 468.8,175.1 468.9,174.2 469.0,176.9 469.1,175.2 469.2,174.5 469.2,176.1 469.3,176.7 469.4,175.5 469.5,173.0 469.6,175.2 469.6,174.6 469.7,173.9 469.8,174.1 469.9,174.9 470.0,174.9 470.0,173.9 470.1,174.6 470.2,172.6 470.3,173.0 470.4,175.0 470.4,175.3 470.5,173.6 470.6,173.7 470.7,174.0 470.8,173.7 470.8,173.5 470.9,173.3 471.0,173.4 471.1,173.6 471.2,172.9 471.2,172.8 471.3,172.7 471.4,172.4 471.5,171.8 471.6,171.9 471.6,170.9 471.7,170.6 471.8,170.3 471.9,169.6 472.0,168.9 472.0,168.0 472.1,167.4 472.2,166.6 472.3,166.0 472.4,164.2 472.4,163.2 472.5,162.4 472.6,161.0 472.7,159.7 472.8,158.5 472.8,157.2 472.9,155.4 473.0,153.9 473.1,152.1 473.2,151.2 473.2,149.8 473.3,148.4 473.4,147.0 473.5,145.8 473.6,145.1 473.6,144.1 473.7,143.5 473.8,143.3 473.9,143.0 474.0,143.0 474.0,143.4 474.1,143.8 474.2,144.7 474.3,145.7 474.4,146.5 474.4,147.5 474.5,149.0 474.6,150.7 474.7,152.2 474.8,153.6 474.8,154.9 474.9,156.4 475.0,157.3 475.1,158.3 475.2,160.3 475.2,161.4 475.3,162.7 475.4,163.7 475.5,165.2 475.6,165.7 475.6,166.8 475.7,168.0 475.8,168.5 475.9,169.2 476.0,170.0 476.0,170.4 476.1,171.1 476.2,171.7 476.3,171.9 476.4,172.4 476.4,172.5 476.5,172.7 476.6,172.6 476.7,173.8 476.8,173.7 476.8,172.8 476.9,174.0 477.0,173.9 477.1,174.7 477.2,174.5 477.2,174.3 477.3,174.1 477.4,173.7 477.5,175.4 477.6,174.9 477.6,175.2 477.7,174.9 477.8,175.2 477.9,174.1 478.0,173.9 478.0,174.5 478.1,175.0 478.2,175.1 478.3,174.5 478.4,174.9 478.4,178.6 478.5,172.3 478.6,173.5 478.7,176.2 478.8,173.3 478.8,176.9 478.9,176.9 479.0,174.3 479.1,174.9 479.2,175.6 479.2,174.5 479.3,176.5 479.4,175.9 479.5,173.2 479.6,173.8 479.6,176.7 479.7,174.3 479.8,175.6 479.9,175.3 480.0,175.6 480.0,174.9 480.1,176.1 480.2,177.4 480.3,175.7 480.4,175.9 480.4,175.7 480.5,175.9 480.6,175.8 480.7,176.6 480.8,175.0 480.8,174.1 480.9,177.3 481.0,175.7 481.1,176.2 481.2,176.3 481.2,176.8 481.3,174.0 481.4,174.8 481.5,175.7 481.6,175.8 481.6,175.0 481.7,176.3 481.8,174.0 481.9,172.5 482.0,174.3 482.0,175.6 482.1,177.9 482.2,174.9 482.3,174.8 482.4,173.6 482.4,176.9 482.5,174.3 482.6,175.3 482.7,176.7 482.8,173.5 482.8,173.5 482.9,175.4 483.0,175.0 483.1,174.1 483.2,175.6 483.2,173.9 483.3,173.7 483.4,173.0 483.5,173.0 483.6,173.4 483.6,175.1 483.7,174.3 483.8,173.7 483.9,173.5 484.0,172.6 484.0,173.8 484.1,174.0 484.2,174.7 484.3,172.3 484.4,174.9 484.4,173.4 484.5,173.3 484.6,173.1 484.7,171.2 484.8,173.6 484.8,173.2 484.9,171.6 485.0,171.1 485.1,172.7 485.2,171.8 485.2,170.3 485.3,171.4 485.4,171.7 485.5,169.9 485.6,171.9 485.6,172.8 485.7,170.7 485.8,171.2 485.9,170.1 486.0,169.8 486.0,172.2 486.1,169.5 486.2,172.5 486.3,169.8 486.4,169.7 486.4,168.2 486.5,169.2 486.6,170.6 486.7,169.8 486.8,170.0 486.8,170.7 486.9,168.8 487.0,169.5 487.1,171.8 487.2,168.1 487.2,170.1 487.3,167.0 487.4,168.6 487.5,169.6 487.6,166.5 487.6,167.5 487.7,165.8 487.8,167.9 487.9,166.4 488.0,167.8 488.0,168.6 488.1,166.5 488.2,165.8 488.3,167.5 488.4,164.0 488.4,165.9 488.5,165.1 488.6,163.7 488.7,166.9 488.8,165.3 488.8,164.7 488.9,165.1 489.0,164.1 489.1,163.4 489.2,164.6 489.2,164.6 489.3,164.7 489.4,164.4 489.5,163.4 489.6,166.1 489.6,164.5 489.7,164.8 489.8,161.5 489.9,162.7 490.0,162.5 490.0,164.2 490.1,162.2 490.2,161.6 490.3,161.9 490.4,160.6 490.4,161.2 490.5,162.1 490.6,163.0 490.7,159.6 490.8,164.5 490.8,161.3 490.9,161.9 491.0,159.9 491.1,160.8 491.2,160.9 491.2,161.1 491.3,159.8 491.4,159.1 491.5,159.6 491.6,160.4 491.6,162.4 491.7,158.5 491.8,158.4 491.9,158.0 492.0,157.9 492.0,160.0 492.1,158.4 492.2,158.6 492.3,160.0 492.4,158.9 492.4,158.7 492.5,157.9 492.6,158.0 492.7,157.5 492.8,158.1 492.8,158.5 492.9,156.8 493.0,156.6 493.1,156.9 493.2,156.7 493.2,157.5 493.3,157.4 493.4,155.5 493.5,155.2 493.6,154.2 493.6,154.3 493.7,155.6 493.8,155.3 493.9,151.6 494.0,154.1 494.0,153.2 494.1,153.8 494.2,154.4 494.3,152.4 494.4,151.7 494.4,152.9 494.5,152.5 494.6,153.4 494.7,151.8 494.8,151.3 494.8,151.5 494.9,150.8 495.0,151.4 495.1,151.9 495.2,151.0 495.2,149.7 495.3,150.4 495.4,151.7 495.5,151.8 495.6,151.7 495.6,150.7 495.7,149.9 495.8,150.7 495.9,151.2 496.0,150.8 496.0,149.9 496.1,150.9 496.2,151.0 496.3,148.8 496.4,149.7 496.4,151.2 496.5,151.0 496.6,150.8 496.7,151.2 496.8,150.6 496.8,150.5 496.9,151.4 497.0,149.7 497.1,150.3 497.2,152.9 497.2,151.0 497.3,152.3 497.4,152.3 497.5,152.3 497.6,152.0 497.6,149.6 497.7,152.9 497.8,152.5 497.9,153.1 498.0,153.4 498.0,154.6 498.1,151.7 498.2,153.2 498.3,155.2 498.4,152.6 498.4,154.4 498.5,154.3 498.6,153.9 498.7,152.1 498.8,154.0 498.8,153.5 498.9,153.6 499.0,153.8 499.1,154.2 499.2,155.4 499.2,153.5 499.3,155.2 499.4,155.3 499.5,154.4 499.6,155.4 499.6,156.0 499.7,155.6 499.8,154.5 499.9,157.0 500.0,156.6 500.0,157.4 500.1,155.3 500.2,159.0 500.3,156.4 500.4,158.5 500.4,157.9 500.5,156.8 500.6,158.1 500.7,160.9 500.8,160.3 500.8,160.7 500.9,159.9 501.0,160.3 501.1,158.3 501.2,161.6 501.2,161.7 501.3,160.3 501.4,160.8 501.5,160.4 501.6,161.8 501.6,162.2 501.7,163.5 501.8,162.1 501.9,162.1 502.0,162.8 502.0,162.0 502.1,162.3 502.2,162.9 502.3,164.5 502.4,164.6 502.4,163.6 502.5,164.7 502.6,164.0 502.7,163.2 502.8,162.7 502.8,164.7 502.9,164.5 503.0,164.6 503.1,164.2 503.2,165.3 503.2,163.9 503.3,166.0 503.4,165.3 503.5,165.7 503.6,166.1 503.6,163.2 503.7,166.5 503.8,169.4 503.9,165.1 504.0,168.2 504.0,166.2 504.1,168.7 504.2,166.8 504.3,167.1 504.4,166.5 504.4,169.5 504.5,168.8 504.6,165.8 504.7,168.5 504.8,168.4 504.8,168.3 504.9,170.2 505.0,169.1 505.1,169.9 505.2,170.1 505.2,170.6 505.3,170.3 505.4,172.7 505.5,168.6 505.6,169.1 505.6,169.7 505.7,171.0 505.8,173.0 505.9,172.1 506.0,172.2 506.0,172.9 506.1,173.1 506.2,171.6 506.3,172.5 506.4,172.4 506.4,173.0 506.5,173.2 506.6,173.1 506.7,173.8 506.8,171.3 506.8,175.7 506.9,174.7 507.0,172.7 507.1,172.4 507.2,175.5 507.2,174.8 507.3,174.2 507.4,174.0 507.5,174.3 507.6,173.2 507.6,172.9 507.7,172.9 507.8,173.7 507.9,173.3 508.0,175.8 508.0,174.5 508.1,176.0 508.2,174.3 508.3,172.9 508.4,174.8 508.4,175.8 508.5,174.0 508.6,174.1 508.7,176.1 508.8,176.5 508.8,175.1 508.9,176.1 509.0,176.2 509.1,177.2 509.2,174.7 509.2,177.2 509.3,177.2 509.4,177.8 509.5,178.1 509.6,175.8 509.6,177.5 509.7,176.8 509.8,178.8 509.9,176.7 510.0,175.9 510.0,176.8 510.1,176.0 510.2,177.9 510.3,176.3 510.4,177.3 510.4,178.4 510.5,177.0 510.6,177.1 510.7,177.0 510.8,178.2 510.8,176.0 510.9,179.8 511.0,177.6 511.1,177.1 511.2,180.4 511.2,178.0 511.3,179.6 511.4,179.6 511.5,178.4 511.6,177.5 511.6,178.5 511.7,178.0 511.8,179.7 511.9,177.9 512.0,178.3 512.0,178.7 512.1,177.8 512.2,181.4 512.3,177.9 512.4,178.4 512.4,180.2 512.5,181.5 512.6,177.9 512.7,180.2 512.8,179.0 512.8,180.2 512.9,181.0 513.0,179.9 513.1,180.6 513.2,178.6 513.2,179.5 513.3,181.3 513.4,181.1 513.5,181.8 513.6,181.2 513.6,180.6 513.7,180.9 513.8,178.7 513.9,180.3 514.0,179.8 514.0,182.6 514.1,178.7 514.2,179.8 514.3,179.8 514.4,179.5 514.4,179.6 514.5,179.8 514.6,180.8 514.7,181.7 514.8,181.1 514.8,180.3 514.9,180.2 515.0,180.4 515.1,182.7 515.2,183.3 515.2,179.8 515.3,180.3 515.4,180.1 515.5,181.0 515.6,180.7 515.6,184.0 515.7,184.6 515.8,182.6 515.9,180.6 516.0,184.5 516.0,179.9 516.1,183.1 516.2,181.4 516.3,182.3 516.4,181.6 516.4,182.7 516.5,184.2 516.6,180.8 516.7,181.0 516.8,181.4 516.8,181.4 516.9,185.3 517.0,183.4 517.1,182.7 517.2,183.8 517.2,180.5 517.3,183.2 517.4,179.7 517.5,182.9 517.6,182.0 517.6,182.3 517.7,181.0 517.8,184.8 517.9,182.6 518.0,185.7 518.0,181.5 518.1,182.0 518.2,185.6 518.3,182.9 518.4,183.7 518.4,181.9 518.5,182.5 518.6,183.5 518.7,182.4 518.8,183.7 518.8,184.9 518.9,182.9 519.0,183.5 519.1,184.6 519.2,184.5 519.2,183.2 519.3,185.0 519.4,184.9 519.5,181.9 519.6,183.3 519.6,184.6 519.7,187.8 519.8,183.1 519.9,183.7 520.0,183.4 520.0,184.1 520.1,186.8 520.2,184.3 520.3,183.9 520.4,183.1 520.4,186.0 520.5,185.6 520.6,183.2 520.7,184.5 520.8,182.7 520.8,187.4 520.9,184.2 521.0,185.2 521.1,183.6 521.2,184.7 521.2,184.4 521.3,186.4 521.4,186.1 521.5,185.2 521.6,185.5 521.6,186.5 521.7,183.1 521.8,185.7 521.9,185.1 522.0,184.5 522.0,184.9 522.1,184.3 522.2,184.8 522.3,186.0 522.4,184.9 522.4,183.5 522.5,185.1 522.6,185.9 522.7,185.2 522.8,181.5 522.8,183.4 522.9,186.7 523.0,185.4 523.1,185.2 523.2,184.3 523.2,186.1 523.3,186.9 523.4,185.4 523.5,185.7 523.6,186.4 523.6,186.2 523.7,186.0 523.8,187.2 523.9,183.6 524.0,184.8 524.0,184.7 524.1,183.7 524.2,185.7 524.3,187.2 524.4,184.4 524.4,186.2 524.5,186.8 524.6,184.0 524.7,185.5 524.8,184.9 524.8,187.5 524.9,185.8 525.0,186.5 525.1,187.3 525.2,188.4 525.2,185.9 525.3,185.9 525.4,185.6 525.5,185.4 525.6,185.5 525.6,183.9 525.7,184.3 525.8,185.4 525.9,187.5 526.0,185.5 526.0,184.3 526.1,186.3 526.2,187.1 526.3,186.2 526.4,184.4 526.4,185.3 526.5,186.8 526.6,187.5 526.7,185.7 526.8,185.5 526.8,186.7 526.9,186.7 527.0,186.3 527.1,187.4 527.2,187.0 527.2,185.2 527.3,185.7 527.4,186.7 527.5,184.6 527.6,187.2 527.6,185.9 527.7,189.8 527.8,186.5 527.9,186.1 528.0,187.0 528.0,188.2 528.1,187.3 528.2,185.5 528.3,186.9 528.4,186.0 528.4,186.8 528.5,186.8 528.6,186.5 528.7,188.3 528.8,186.0 528.8,186.4 528.9,187.8 529.0,188.7 529.1,186.6 529.2,187.2 529.2,189.6 529.3,186.7 529.4,189.1 529.5,186.8 529.6,187.5 529.6,188.8 529.7,186.5 529.8,188.5 529.9,186.2 530.0,187.2 530.0,188.1 530.1,187.2 530.2,185.4 530.3,188.4 530.4,187.4 530.4,188.3 530.5,185.1 530.6,185.1 530.7,186.8 530.8,186.3 530.8,188.4 530.9,189.2 531.0,186.7 531.1,187.8 531.2,187.6 531.2,187.4 531.3,188.6 531.4,185.9 531.5,188.0 531.6,186.3 531.6,185.9 531.7,187.6 531.8,187.0 531.9,186.9 532.0,187.8 532.0,188.2 532.1,188.0 532.2,184.7 532.3,186.3 532.4,186.1 532.4,186.6 532.5,187.7 532.6,186.5 532.7,188.0 532.8,186.4 532.8,189.8 532.9,185.7 533.0,187.2 533.1,187.4 533.2,186.7 533.2,188.0 533.3,187.6 533.4,186.1 533.5,187.7 533.6,184.9 533.6,186.5 533.7,187.2 533.8,189.7 533.9,188.1 534.0,187.7 534.0,188.0 534.1,187.3 534.2,186.3 534.3,186.5 534.4,186.3 534.4,189.0 534.5,187.2 534.6,186.9 534.7,186.9 534.8,186.5 534.8,186.0 534.9,188.5 535.0,186.4 535.1,186.5 535.2,186.7 535.2,184.3 535.3,184.7 535.4,185.8 535.5,184.9 535.6,184.5 535.6,187.8 535.7,184.4 535.8,187.0 535.9,184.5 536.0,185.8 536.0,184.8 536.1,185.0 536.2,186.1 536.3,184.1 536.4,186.6 536.4,187.7 536.5,187.2 536.6,187.4 536.7,186.3 536.8,187.8 536.8,187.0 536.9,188.8 537.0,182.0 537.1,186.8 537.2,185.8 537.2,185.9 537.3,184.0 537.4,186.0 537.5,186.7 537.6,186.9 537.6,186.9 537.7,183.2 537.8,185.9 537.9,186.5 538.0,187.3 538.0,186.3 538.1,187.5 538.2,185.9 538.3,186.4 538.4,183.5 538.4,185.1 538.5,184.8 538.6,185.5 538.7,187.0 538.8,184.8 538.8,186.0 538.9,184.0 539.0,185.8 539.1,184.8 539.2,184.3 539.2,185.0 539.3,184.8 539.4,184.5 539.5,184.2 539.6,186.2 539.6,185.6 539.7,187.2 539.8,184.2 539.9,184.8 540.0,186.1 540.0,184.5 540.1,183.1 540.2,185.5 540.3,187.5 540.4,183.9 540.4,183.6 540.5,185.4 540.6,184.3 540.7,183.6 540.8,184.5 540.8,184.8 540.9,185.6 541.0,185.9 541.1,183.5 541.2,185.1 541.2,186.1 541.3,187.2 541.4,184.8 541.5,184.6 541.6,185.4 541.6,185.2 541.7,184.3 541.8,183.7 541.9,183.6 542.0,187.0 542.0,182.3 542.1,183.7 542.2,183.8 542.3,183.7 542.4,183.6 542.4,184.8 542.5,184.1 542.6,180.8 542.7,183.9 542.8,185.3 542.8,184.9 542.9,181.0 543.0,185.3 543.1,184.2 543.2,183.9 543.2,184.5 543.3,183.2 543.4,183.3 543.5,183.8 543.6,181.1 543.6,183.2 543.7,181.7 543.8,184.8 543.9,180.1 544.0,182.6 544.0,182.2 544.1,183.2 544.2,183.6 544.3,184.3 544.4,182.4 544.4,183.2 544.5,181.7 544.6,183.6 544.7,184.6 544.8,181.3 544.8,181.2 544.9,182.4 545.0,183.8 545.1,182.9 545.2,180.5 545.2,180.8 545.3,182.7 545.4,186.1 545.5,181.2 545.6,181.6 545.6,181.0 545.7,181.8 545.8,183.8 545.9,181.6 546.0,179.3 546.0,181.2 546.1,180.4 546.2,182.6 546.3,182.9 546.4,181.1 546.4,181.5 546.5,183.8 546.6,183.1 546.7,181.9 546.8,179.7 546.8,182.0 546.9,182.1 547.0,182.1 547.1,179.7 547.2,178.7 547.2,183.0 547.3,184.5 547.4,179.5 547.5,181.8 547.6,182.1 547.6,181.8 547.7,182.5 547.8,181.6 547.9,183.0 548.0,179.4 548.0,180.9 548.1,183.2 548.2,179.5 548.3,181.7 548.4,179.7 548.4,182.2 548.5,180.8 548.6,179.4 548.7,182.4 548.8,178.6 548.8,181.1 548.9,181.4 549.0,180.7 549.1,180.5 549.2,180.3 549.2,180.6 549.3,179.4 549.4,179.7 549.5,181.6 549.6,180.1 549.6,182.5 549.7,181.0 549.8,179.9 549.9,180.7 550.0,178.8 550.0,180.5 550.1,179.0 550.2,181.6 550.3,182.8 550.4,180.5 550.4,180.2 550.5,180.3 550.6,180.0 550.7,180.8 550.8,181.1 550.8,181.5 550.9,179.9 551.0,181.2 551.1,180.3 551.2,178.2 551.2,179.8 551.3,180.0 551.4,179.6 551.5,177.6 551.6,178.6 551.6,181.2 551.7,179.2 551.8,181.0 551.9,180.3 552.0,180.5 552.0,180.7 552.1,181.2 552.2,179.2 552.3,179.8 552.4,180.0 552.4,181.2 552.5,178.4 552.6,181.3 552.7,181.0 552.8,181.2 552.8,179.0 552.9,181.8 553.0,181.7 553.1,178.7 553.2,181.3 553.2,180.3 553.3,179.1 553.4,180.5 553.5,179.8 553.6,180.0 553.6,178.0 553.7,177.8 553.8,178.2 553.9,179.3 554.0,179.8 554.0,178.4 554.1,179.0 554.2,181.5 554.3,180.7 554.4,180.4 554.4,178.2 554.5,179.6 554.6,179.3 554.7,180.1 554.8,179.9 554.8,180.9 554.9,180.9 555.0,179.3 555.1,179.5 555.2,180.9 555.2,178.9 555.3,181.3 555.4,182.6 555.5,179.5 555.6,181.5 555.6,177.3 555.7,181.5 555.8,177.5 555.9,178.5 556.0,178.2 556.0,178.9 556.1,179.0 556.2,181.3 556.3,181.2 556.4,179.1 556.4,179.0 556.5,178.2 556.6,180.5 556.7,181.2 556.8,181.5 556.8,180.0 556.9,177.8 557.0,179.9 557.1,181.6 557.2,179.4 557.2,180.8 557.3,182.8 557.4,181.1 557.5,181.4 557.6,181.5 557.6,181.4 557.7,180.0 557.8,183.4 557.9,179.9 558.0,182.1 558.0,181.2 558.1,181.4 558.2,180.8 558.3,181.9 558.4,180.7 558.4,180.6 558.5,180.4 558.6,181.3 558.7,180.1 558.8,180.6 558.8,180.4 558.9,182.0 559.0,183.8 559.1,179.3 559.2,181.2 559.2,181.6 559.3,181.7 559.4,178.9 559.5,182.4 559.6,182.7 559.6,180.3 559.7,180.8 559.8,184.3 559.9,184.2 560.0,183.0 560.0,180.9 560.1,181.0 560.2,182.4 560.3,182.1 560.4,180.1 560.4,182.4 560.5,183.2 560.6,179.9 560.7,182.9 560.8,183.2 560.8,182.3 560.9,183.7 561.0,182.4 561.1,182.4 561.2,184.0 561.2,182.7 561.3,182.5 561.4,182.2 561.5,181.9 561.6,180.2 561.6,183.2 561.7,183.0 561.8,180.8 561.9,180.7 562.0,182.5 562.0,183.9 562.1,181.6 562.2,184.6 562.3,182.5 562.4,184.7 562.4,183.3 562.5,184.0 562.6,182.2 562.7,183.4 562.8,182.4 562.8,183.1 562.9,184.2 563.0,184.8 563.1,181.6 563.2,183.5 563.2,183.4 563.3,184.5 563.4,184.6 563.5,182.9 563.6,182.1 563.6,183.5 563.7,185.5 563.8,184.0 563.9,184.5 564.0,183.0 564.0,186.0 564.1,182.6 564.2,184.0 564.3,183.5 564.4,182.6 564.4,184.5 564.5,184.7 564.6,183.5 564.7,184.7 564.8,183.7 564.8,185.6 564.9,184.2 565.0,182.3 565.1,185.5 565.2,183.1 565.2,183.2 565.3,183.5 565.4,183.5 565.5,184.7 565.6,182.7 565.6,185.2 565.7,182.8 565.8,185.9 565.9,181.4 566.0,183.6 566.0,184.5 566.1,184.2 566.2,182.8 566.3,183.7 566.4,184.3 566.4,185.1 566.5,185.1 566.6,185.5 566.7,185.8 566.8,185.6 566.8,184.9 566.9,187.0 567.0,186.6 567.1,184.4 567.2,183.8 567.2,185.7 567.3,186.4 567.4,182.3 567.5,186.1 567.6,185.2 567.6,185.5 567.7,186.6 567.8,184.6 567.9,185.4 568.0,184.4 568.0,185.6 568.1,184.0 568.2,185.5 568.3,185.5 568.4,186.9 568.4,186.0 568.5,187.2 568.6,185.2 568.7,188.7 568.8,186.3 568.8,184.7 568.9,184.9 569.0,187.9 569.1,188.1 569.2,186.4 569.2,185.3 569.3,185.3 569.4,186.4 569.5,188.4 569.6,185.3 569.6,187.9 569.7,187.4 569.8,185.3 569.9,186.7 570.0,187.8 570.0,186.9 570.1,186.8 570.2,185.6 570.3,189.5 570.4,188.7 570.4,189.0 570.5,186.7 570.6,188.1 570.7,187.1 570.8,185.7 570.8,186.6 570.9,185.8 571.0,185.4 571.1,186.6 571.2,187.8 571.2,188.0 571.3,187.3 571.4,187.0 571.5,185.6 571.6,188.7 571.6,187.1 571.7,187.5 571.8,186.9 571.9,187.4 572.0,186.2 572.0,188.1 572.1,186.1 572.2,186.4 572.3,185.8 572.4,187.4 572.4,187.6 572.5,187.2 572.6,185.3 572.7,187.2 572.8,187.7 572.8,187.0 572.9,191.1 573.0,187.3 573.1,185.6 573.2,189.1 573.2,186.7 573.3,188.3 573.4,185.3 573.5,186.9 573.6,188.7 573.6,190.8 573.7,188.6 573.8,186.8 573.9,188.4 574.0,188.0 574.0,186.5 574.1,189.7 574.2,188.0 574.3,188.1 574.4,186.5 574.4,186.7 574.5,187.5 574.6,186.6 574.7,187.2 574.8,186.5 574.8,188.6 574.9,187.8 575.0,187.0 575.1,191.0 575.2,185.4 575.2,188.0 575.3,188.1 575.4,188.3 575.5,187.1 575.6,188.4 575.6,189.7 575.7,187.8 575.8,188.8 575.9,188.9 576.0,187.0 576.0,187.9 576.1,189.0 576.2,190.1 576.3,188.7 576.4,190.2 576.4,187.6 576.5,186.8 576.6,189.0 576.7,188.8 576.8,188.5 576.8,190.8 576.9,189.6 577.0,188.7 577.1,188.5 577.2,188.9 577.2,189.2 577.3,190.6 577.4,186.9 577.5,189.5 577.6,188.7 577.6,190.0 577.7,189.8 577.8,189.4 577.9,188.3 578.0,187.0 578.0,190.1 578.1,188.7 578.2,189.3 578.3,189.9 578.4,189.1 578.4,188.3 578.5,188.7 578.6,188.6 578.7,187.7 578.8,189.6 578.8,189.1 578.9,188.6 579.0,188.9 579.1,189.3 579.2,188.1 579.2,188.2 579.3,188.5 579.4,190.0 579.5,190.0 579.6,188.9 579.6,189.4 579.7,189.1 579.8,189.3 579.9,187.3 580.0,189.1 580.0,189.3 580.1,185.7 580.2,186.9 580.3,190.2 580.4,188.4 580.4,189.1 580.5,187.4 580.6,189.2 580.7,188.5 580.8,187.5 580.8,188.3 580.9,186.9 581.0,186.3 581.1,186.2 581.2,185.2 581.2,187.4 581.3,186.7 581.4,188.5 581.5,188.3 581.6,187.1 581.6,187.4 581.7,187.1 581.8,184.6 581.9,187.6 582.0,187.0 582.0,188.1 582.1,188.8 582.2,189.0 582.3,188.2 582.4,184.7 582.4,187.9 582.5,187.3 582.6,186.0 582.7,187.9 582.8,186.2 582.8,187.7 582.9,188.9 583.0,186.0 583.1,187.2 583.2,187.3 583.2,187.2 583.3,185.7 583.4,184.4 583.5,187.4 583.6,185.7 583.6,185.7 583.7,185.3 583.8,185.0 583.9,185.8 584.0,185.9 584.0,185.6 584.1,184.8 584.2,184.9 584.3,183.7 584.4,184.7 584.4,183.5 584.5,182.9 584.6,183.3 584.7,182.6 584.8,183.4 584.8,182.2 584.9,182.0 585.0,182.1 585.1,180.2 585.2,179.8 585.2,180.7 585.3,179.2 585.4,178.9 585.5,178.7 585.6,177.7 585.6,177.0 585.7,176.3 585.8,175.8 585.9,175.6 586.0,175.1 586.0,173.7 586.1,173.5 586.2,172.9 586.3,173.0 586.4,172.7 586.4,172.7 586.5,171.9 586.6,171.9 586.7,171.9 586.8,172.1 586.8,172.2 586.9,172.4 587.0,172.7 587.1,173.0 587.2,173.3 587.2,173.6 587.3,174.2 587.4,174.4 587.5,175.2 587.6,175.8 587.6,176.5 587.7,176.4 587.8,175.8 587.9,177.5 588.0,178.6 588.0,179.0 588.1,179.5 588.2,179.5 588.3,180.7 588.4,180.7 588.4,180.8 588.5,181.7 588.6,181.7 588.7,183.1 588.8,183.7 588.8,182.9 588.9,184.1 589.0,184.2 589.1,184.2 589.2,184.5 589.2,184.1 589.3,183.5 589.4,184.9 589.5,185.9 589.6,184.8 589.6,185.1 589.7,185.6 589.8,185.4 589.9,186.6 590.0,185.0 590.0,186.5 590.1,184.3 590.2,184.8 590.3,186.5 590.4,186.0 590.4,186.9 590.5,184.8 590.6,186.0 590.7,187.1 590.8,185.3 590.8,187.5 590.9,186.6 591.0,187.3 591.1,183.9 591.2,186.7 591.2,185.2 591.3,185.8 591.4,186.9 591.5,185.3 591.6,184.0 591.6,186.3 591.7,189.3 591.8,188.6 591.9,188.0 592.0,186.4 592.0,185.6 592.1,187.3 592.2,186.9 592.3,185.3 592.4,188.1 592.4,186.8 592.5,187.1 592.6,186.9 592.7,186.8 592.8,187.6 592.8,185.8 592.9,188.9 593.0,188.1 593.1,187.4 593.2,185.8 593.2,188.2 593.3,185.2 593.4,188.3 593.5,186.2 593.6,188.3 593.6,187.2 593.7,189.0 593.8,186.1 593.9,184.5 594.0,188.3 594.0,186.0 594.1,186.9 594.2,187.5 594.3,187.7 594.4,188.1 594.4,186.1 594.5,186.0 594.6,187.6 594.7,187.9 594.8,188.1 594.8,186.3 594.9,186.8 595.0,186.4 595.1,187.3 595.2,189.6 595.2,185.2 595.3,186.0 595.4,188.8 595.5,188.1 595.6,186.4 595.6,187.7 595.7,189.6 595.8,186.4 595.9,187.4 596.0,187.9 596.0,187.6 596.1,186.8 596.2,185.6 596.3,188.0 596.4,188.0 596.4,186.9 596.5,184.9 596.6,187.5 596.7,185.4 596.8,184.5 596.8,188.0 596.9,187.2 597.0,187.1 597.1,186.9 597.2,186.9 597.2,188.9 597.3,187.8 597.4,185.2 597.5,184.8 597.6,187.0 597.6,186.4 597.7,186.4 597.8,184.2 597.9,183.2 598.0,183.5 598.0,184.6 598.1,183.4 598.2,183.6 598.3,183.6 598.4,185.0 598.4,185.4 598.5,184.8 598.6,183.6 598.7,183.9 598.8,184.2 598.8,185.6 598.9,187.0 599.0,186.4 599.1,183.7 599.2,184.9 599.2,185.7 599.3,185.3 599.4,186.1 599.5,184.0 599.6,184.7 599.6,185.1 599.7,186.2 599.8,185.6 599.9,185.5 600.0,182.8 600.0,186.0 600.1,184.8 600.2,183.2 600.3,184.6 600.4,185.2 600.4,184.4 600.5,185.1 600.6,183.3 600.7,186.8 600.8,183.8 600.8,184.6 600.9,183.1 601.0,183.2 601.1,185.2 601.2,184.0 601.2,183.9 601.3,185.3 601.4,185.1 601.5,184.7 601.6,185.2 601.6,185.2 601.7,184.0 601.8,185.0 601.9,184.5 602.0,185.1 602.0,183.5 602.1,186.6 602.2,184.7 602.3,186.6 602.4,187.2 602.4,185.3 602.5,188.0 602.6,184.9 602.7,185.7 602.8,185.4 602.8,185.3 602.9,185.9 603.0,185.9 603.1,185.6 603.2,186.3 603.2,186.8 603.3,187.2 603.4,187.0 603.5,187.0 603.6,187.0 603.6,189.4 603.7,186.4 603.8,185.5 603.9,187.6 604.0,188.2 604.0,187.8 604.1,188.7 604.2,186.2 604.3,188.7 604.4,189.5 604.4,188.6 604.5,189.1 604.6,189.9 604.7,188.3 604.8,186.6 604.8,189.2 604.9,189.6 605.0,187.5 605.1,191.1 605.2,188.9 605.2,189.7 605.3,188.3 605.4,188.0 605.5,189.1 605.6,188.4 605.6,190.3 605.7,190.5 605.8,186.8 605.9,190.4 606.0,188.1 606.0,192.1 606.1,189.2 606.2,190.0 606.3,189.1 606.4,190.4 606.4,189.3 606.5,189.8 606.6,189.7 606.7,190.8 606.8,189.2 606.8,189.0 606.9,190.2 607.0,190.2 607.1,190.2 607.2,188.5 607.2,190.4 607.3,189.3 607.4,189.6 607.5,191.8 607.6,189.1 607.6,188.8 607.7,189.9 607.8,191.1 607.9,190.7 608.0,190.2 608.0,192.4 608.1,192.6 608.2,188.1 608.3,190.2 608.4,188.7 608.4,191.0 608.5,190.7 608.6,192.2 608.7,188.1 608.8,189.8 608.8,190.4 608.9,192.3 609.0,191.8 609.1,192.6 609.2,191.9 609.2,192.1 609.3,190.7 609.4,190.1 609.5,193.2 609.6,190.7 609.6,190.8 609.7,193.2 609.8,192.9 609.9,190.8 610.0,192.9 610.0,193.3 610.1,191.4 610.2,192.6 610.3,193.4 610.4,190.7 610.4,192.4 610.5,191.0 610.6,191.6 610.7,190.3 610.8,191.2 610.8,193.2 610.9,191.2 611.0,192.9 611.1,193.4 611.2,191.6 611.2,192.6 611.3,191.7 611.4,191.6 611.5,190.0 611.6,192.9 611.6,193.9 611.7,191.7 611.8,191.5 611.9,192.9 612.0,192.3 612.0,192.2 612.1,195.2 612.2,192.4 612.3,190.5 612.4,191.6 612.4,191.9 612.5,194.4 612.6,193.5 612.7,194.4 612.8,191.5 612.8,195.4 612.9,192.3 613.0,193.6 613.1,192.1 613.2,192.3 613.2,191.0 613.3,192.9 613.4,193.8 613.5,190.6 613.6,192.1 613.6,192.1 613.7,192.5 613.8,192.7 613.9,193.8 614.0,193.1 614.0,191.8 614.1,193.7 614.2,192.8 614.3,191.1 614.4,194.8 614.4,192.7 614.5,191.4 614.6,192.9 614.7,191.9 614.8,191.4 614.8,193.7 614.9,191.3 615.0,191.8 615.1,191.1 615.2,192.4 615.2,192.8 615.3,193.6 615.4,195.2 615.5,192.9 615.6,192.1 615.6,192.4 615.7,193.5 615.8,192.8 615.9,194.0 616.0,194.3 616.0,192.3 616.1,193.3 616.2,193.6 616.3,192.1 616.4,192.0 616.4,193.0 616.5,192.1 616.6,193.5 616.7,195.0 616.8,193.9 616.8,193.3 616.9,192.3 617.0,195.6 617.1,192.3 617.2,193.7 617.2,192.9 617.3,193.7 617.4,194.8 617.5,193.6 617.6,193.8 617.6,194.6 617.7,190.8 617.8,192.7 617.9,192.5 618.0,190.3 618.0,192.1 618.1,194.5 618.2,195.2 618.3,191.0 618.4,192.4 618.4,193.9 618.5,193.1 618.6,194.9 618.7,193.4 618.8,193.5 618.8,193.1 618.9,192.4 619.0,194.7 619.1,195.6 619.2,195.4 619.2,193.4 619.3,193.6 619.4,193.3 619.5,194.3 619.6,193.8 619.6,194.0 619.7,193.2 619.8,191.4 619.9,191.7 620.0,193.9 620.0,193.6 620.1,193.1 620.2,192.1 620.3,193.7 620.4,194.7 620.4,193.8 620.5,195.1 620.6,193.7 620.7,191.6 620.8,193.3 620.8,192.1 620.9,194.7 621.0,194.4 621.1,194.4 621.2,193.8 621.2,191.9 621.3,193.7 621.4,192.0 621.5,193.2 621.6,194.2 621.6,193.9 621.7,194.5 621.8,192.1 621.9,193.7 622.0,193.5 622.0,192.7 622.1,191.8 622.2,193.2 622.3,193.6 622.4,192.0 622.4,191.7 622.5,194.4 622.6,193.9 622.7,190.6 622.8,193.3 622.8,193.6 622.9,192.2 623.0,192.0 623.1,192.8 623.2,194.1 623.2,193.2 623.3,193.0 623.4,191.3 623.5,194.2 623.6,193.2 623.6,191.4 623.7,191.4 623.8,191.6 623.9,192.7 624.0,192.3 624.0,193.6 624.1,190.8 624.2,194.3 624.3,190.2 624.4,191.4 624.4,194.0 624.5,194.1 624.6,190.9 624.7,191.5 624.8,193.1 624.8,195.4 624.9,191.4 625.0,191.3 625.1,193.8 625.2,192.3 625.2,191.5 625.3,193.2 625.4,193.2 625.5,193.9 625.6,190.5 625.6,191.7 625.7,190.2 625.8,192.2 625.9,192.3 626.0,191.9 626.0,193.6 626.1,191.6 626.2,193.8 626.3,190.9 626.4,191.1 626.4,191.3 626.5,194.2 626.6,193.0 626.7,192.0 626.8,192.4 626.8,190.8 626.9,190.9 627.0,192.5 627.1,192.5 627.2,191.1 627.2,192.3 627.3,191.1 627.4,189.5 627.5,191.2 627.6,191.2 627.6,193.1 627.7,190.1 627.8,192.8 627.9,191.1 628.0,192.2 628.0,191.1 628.1,191.6 628.2,190.4 628.3,192.0 628.4,191.0 628.4,191.8 628.5,190.5 628.6,191.2 628.7,188.6 628.8,191.5 628.8,191.3 628.9,191.2 629.0,190.7 629.1,188.9 629.2,193.8 629.2,191.0 629.3,193.0 629.4,191.0 629.5,189.7 629.6,190.6 629.6,190.9 629.7,190.9 629.8,190.1 629.9,191.1 630.0,191.7 630.0,190.8 630.1,191.0 630.2,191.9 630.3,191.6 630.4,189.8 630.4,192.8 630.5,191.1 630.6,191.8 630.7,190.0 630.8,190.4 630.8,190.9 630.9,192.0 631.0,191.9 631.1,193.2 631.2,191.0 631.2,190.8 631.3,190.3 631.4,191.3 631.5,190.0 631.6,192.0 631.6,192.3 631.7,189.3 631.8,191.0 631.9,192.8 632.0,189.8 632.0,189.6 632.1,191.9 632.2,189.6 632.3,190.0 632.4,192.7 632.4,191.2 632.5,189.8 632.6,191.0 632.7,190.6 632.8,191.8 632.8,189.0 632.9,190.4 633.0,191.1 633.1,189.8 633.2,189.6 633.2,188.8 633.3,191.1 633.4,191.3 633.5,191.7 633.6,192.6 633.6,193.9 633.7,190.2 633.8,191.7 633.9,190.3 634.0,190.9 634.0,192.2 634.1,193.9 634.2,189.8 634.3,192.7 634.4,190.1 634.4,194.2 634.5,192.0 634.6,190.1 634.7,191.2 634.8,191.2 634.8,191.7 634.9,191.8 635.0,188.8 635.1,192.2 635.2,192.2 635.2,192.8 635.3,192.2 635.4,190.0 635.5,190.3 635.6,191.6 635.6,192.5 635.7,190.6 635.8,189.7 635.9,188.8 636.0,189.0 636.0,192.1 636.1,190.4 636.2,191.0 636.3,191.3 636.4,191.7 636.4,190.8 636.5,191.3 636.6,191.3 636.7,191.1 636.8,192.6 636.8,193.5 636.9,190.1 637.0,191.8 637.1,192.3 637.2,191.6 637.2,194.0 637.3,191.5 637.4,191.3 637.5,191.3 637.6,192.3 637.6,191.5 637.7,194.7 637.8,192.7 637.9,191.9 638.0,192.3 638.0,191.4 638.1,193.3 638.2,189.8 638.3,190.9 638.4,192.2 638.4,191.3 638.5,192.9 638.6,189.9 638.7,190.9 638.8,192.6 638.8,191.3 638.9,191.0 639.0,192.2 639.1,192.3 639.2,189.8 639.2,191.4 639.3,193.3 639.4,193.1 639.5,191.6 639.6,191.3 639.6,192.3 639.7,192.5 639.8,192.4 639.9,192.3 640.0,191.5 640.0,193.6 640.1,190.1 640.2,193.3 640.3,192.2 640.4,193.3 640.4,190.8 640.5,190.3 640.6,192.9 640.7,193.0 640.8,189.7 640.8,193.2 640.9,192.9 641.0,190.4 641.1,193.8 641.2,192.1 641.2,193.8 641.3,194.9 641.4,193.3 641.5,191.7 641.6,194.0 641.6,192.2 641.7,193.2 641.8,192.0 641.9,191.7 642.0,191.6 642.0,192.6 642.1,192.2 642.2,193.9 642.3,194.9 642.4,190.6 642.4,189.5 642.5,189.6 642.6,191.7 642.7,194.8 642.8,191.1 642.8,192.2 642.9,191.5 643.0,193.1 643.1,192.1 643.2,191.7 643.2,192.0 643.3,190.3 643.4,191.6 643.5,192.1 643.6,193.7 643.6,191.7 643.7,190.7 643.8,193.0 643.9,192.6 644.0,192.2 644.0,190.0 644.1,191.0 644.2,193.6 644.3,191.8 644.4,193.5 644.4,191.8 644.5,193.6 644.6,193.7 644.7,192.3 644.8,192.5 644.8,193.4 644.9,191.9 645.0,191.7 645.1,194.1 645.2,191.7 645.2,192.1 645.3,195.1 645.4,193.4 645.5,192.0 645.6,193.8 645.6,192.2 645.7,193.3 645.8,193.7 645.9,193.7 646.0,191.9 646.0,192.7 646.1,194.4 646.2,196.1 646.3,192.6 646.4,193.7 646.4,191.8 646.5,194.0 646.6,194.4 646.7,194.9 646.8,193.3 646.8,193.4 646.9,190.8 647.0,192.4 647.1,194.7 647.2,190.9 647.2,193.9 647.3,193.3 647.4,194.0 647.5,192.3 647.6,193.8 647.6,194.1 647.7,194.0 647.8,196.6 647.9,193.3 648.0,194.1 648.0,194.1 648.1,195.9 648.2,194.8 648.3,192.6 648.4,195.1 648.4,194.4 648.5,196.3 648.6,192.4 648.7,195.9 648.8,193.4 648.8,194.6 648.9,194.4 649.0,195.0 649.1,195.4 649.2,195.5 649.2,194.6 649.3,194.3 649.4,194.5 649.5,194.7 649.6,198.6 649.6,195.6 649.7,192.9 649.8,195.8 649.9,193.8 650.0,195.6 650.0,194.1 650.1,196.2 650.2,196.7 650.3,194.6 650.4,196.1 650.4,195.8 650.5,194.6 650.6,193.9 650.7,194.2 650.8,196.9 650.8,195.0 650.9,196.6 651.0,195.6 651.1,196.2 651.2,194.4 651.2,194.5 651.3,194.1 651.4,194.9 651.5,196.7 651.6,194.9 651.6,195.0 651.7,195.5 651.8,195.6 651.9,196.0 652.0,194.8 652.0,195.6 652.1,193.2 652.2,196.7 652.3,197.2 652.4,195.1 652.4,196.4 652.5,195.7 652.6,194.8 652.7,196.0 652.8,195.3 652.8,195.2 652.9,194.9 653.0,195.1 653.1,198.1 653.2,196.9 653.2,196.3 653.3,195.8 653.4,195.9 653.5,194.8 653.6,194.1 653.6,193.9 653.7,194.6 653.8,195.3 653.9,195.0 654.0,194.7 654.0,197.1 654.1,195.4 654.2,197.4 654.3,194.8 654.4,197.7 654.4,197.0 654.5,197.3 654.6,198.3 654.7,196.4 654.8,195.6 654.8,197.3 654.9,199.3 655.0,195.4 655.1,196.1 655.2,198.3 655.2,196.7 655.3,195.0 655.4,196.0 655.5,197.4 655.6,196.0 655.6,195.7 655.7,197.7 655.8,197.7 655.9,198.5 656.0,194.7 656.0,195.8 656.1,196.7 656.2,198.8 656.3,197.5 656.4,196.3 656.4,196.3 656.5,197.6 656.6,195.4 656.7,197.3 656.8,197.1 656.8,198.3 656.9,196.8 657.0,196.0 657.1,194.6 657.2,196.5 657.2,199.7 657.3,198.0 657.4,196.2 657.5,195.6 657.6,196.4 657.6,196.5 657.7,196.7 657.8,198.2 657.9,199.2 658.0,196.5 658.0,195.3 658.1,197.1 658.2,196.0 658.3,196.7 658.4,194.5 658.4,198.0 658.5,196.9 658.6,199.5 658.7,197.7 658.8,195.3 658.8,195.7 658.9,195.8 659.0,196.5 659.1,198.3 659.2,196.0 659.2,196.3 659.3,199.3 659.4,195.9 659.5,198.3 659.6,197.3 659.6,196.9 659.7,195.6 659.8,197.5 659.9,195.0 660.0,195.1 660.0,198.4 660.1,197.2 660.2,197.4 660.3,199.9 660.4,198.1 660.4,197.0 660.5,196.1 660.6,198.2 660.7,198.1 660.8,199.2 660.8,197.2 660.9,197.7 661.0,197.9 661.1,197.2 661.2,196.3 661.2,197.9 661.3,197.9 661.4,198.5 661.5,198.4 661.6,198.8 661.6,197.5 661.7,198.3 661.8,198.9 661.9,196.6 662.0,198.0 662.0,197.9 662.1,195.9 662.2,197.3 662.3,197.7 662.4,197.1 662.4,195.6 662.5,197.1 662.6,195.8 662.7,195.9 662.8,197.0 662.8,197.3 662.9,196.6 663.0,195.6 663.1,197.7 663.2,197.7 663.2,196.7 663.3,201.2 663.4,197.9 663.5,196.6 663.6,199.0 663.6,198.2 663.7,197.0 663.8,196.0 663.9,196.5 664.0,198.0 664.0,197.1 664.1,196.9 664.2,196.1 664.3,197.3 664.4,196.6 664.4,197.9 664.5,199.0 664.6,199.2 664.7,198.1 664.8,198.4 664.8,197.1 664.9,197.6 665.0,195.7 665.1,197.2 665.2,195.9 665.2,197.5 665.3,197.8 665.4,198.1 665.5,198.1 665.6,197.3 665.6,196.3 665.7,196.7 665.8,197.6 665.9,198.9 666.0,197.9 666.0,197.6 666.1,198.4 666.2,197.9 666.3,196.4 666.4,196.7 666.4,195.8 666.5,197.1 666.6,195.9 666.7,197.2 666.8,198.4 666.8,197.2 666.9,197.5 667.0,200.2 667.1,195.7 667.2,198.9 667.2,197.9 667.3,200.3 667.4,197.3 667.5,194.5 667.6,197.9 667.6,198.3 667.7,197.1 667.8,198.0 667.9,200.4 668.0,198.3 668.0,196.4 668.1,196.8 668.2,197.4 668.3,197.0 668.4,197.5 668.4,197.1 668.5,201.4 668.6,196.7 668.7,199.5 668.8,197.3 668.8,196.9 668.9,196.5 669.0,197.2 669.1,199.8 669.2,198.0 669.2,199.0 669.3,196.9 669.4,198.0 669.5,195.8 669.6,199.4 669.6,197.5 669.7,199.9 669.8,199.4 669.9,198.0 670.0,197.5 670.0,199.6 670.1,195.0 670.2,198.0 670.3,197.9 670.4,197.8 670.4,197.9 670.5,198.6 670.6,195.1 670.7,198.5 670.8,196.9 670.8,197.8 670.9,198.0 671.0,196.5 671.1,197.4 671.2,196.1 671.2,199.9 671.3,196.7 671.4,198.4 671.5,198.3 671.6,198.8 671.6,197.9 671.7,196.6 671.8,198.3 671.9,194.6 672.0,195.9 672.0,197.0 672.1,200.4 672.2,198.8 672.3,195.8 672.4,196.6 672.4,197.7 672.5,197.4 672.6,199.5 672.7,197.8 672.8,196.1 672.8,199.1 672.9,197.4 673.0,196.9 673.1,195.5 673.2,196.4 673.2,197.0 673.3,197.9 673.4,197.8 673.5,199.7 673.6,199.0 673.6,197.9 673.7,198.5 673.8,197.7 673.9,196.8 674.0,198.1 674.0,196.6 674.1,198.4 674.2,197.2 674.3,197.4 674.4,198.7 674.4,197.5 674.5,196.2 674.6,196.3 674.7,199.4 674.8,197.8 674.8,197.8 674.9,197.4 675.0,196.1"/>
<polyline fill="none" stroke="#0000f0" stroke-width="2.0" stroke-linejoin="round" points="399.8,151.1 399.9,150.4 400.0,148.7 400.1,150.5 400.2,150.1 400.3,150.1 400.4,149.9 400.5,149.8 400.6,150.3 400.7,149.5 400.8,149.5 400.9,148.5 401.0,149.8 401.1,147.9 401.2,149.8 401.3,150.0 401.4,148.9 401.5,148.1 401.6,149.2 401.7,147.9 401.8,148.3 401.9,148.6 402.0,147.6 402.1,149.0 402.2,147.7 402.3,147.5 402.4,145.2 402.5,148.0 402.6,145.7 402.7,147.1 402.8,146.6 402.9,146.5 403.0,144.9 403.1,146.4 403.2,146.7 403.3,145.9 403.4,145.8 403.5,147.3 403.6,144.2 403.7,146.6 403.8,144.8 403.9,145.1 404.0,146.2 404.1,145.1 404.2,144.6 404.3,146.9 404.4,146.1 404.5,145.0 404.6,144.8 404.7,143.5 404.8,144.0 404.9,144.5 405.0,144.0 405.1,143.7 405.2,143.8 405.3,142.9 405.4,143.4 405.5,144.7 405.6,141.5 405.7,142.2 405.8,142.5 405.9,143.3 406.0,142.2 406.1,142.6 406.2,142.2 406.3,143.8 406.4,141.8 406.5,141.5 406.6,142.2 406.7,141.4 406.8,141.7 406.9,140.0 407.0,140.9 407.1,141.5 407.2,140.4 407.3,141.3 407.4,140.7 407.5,141.5 407.6,142.6 407.7,141.0 407.8,141.4 407.9,140.5 408.0,140.4 408.1,140.0 408.2,139.5 408.3,139.3 408.4,139.9 408.5,138.9 408.6,139.3 408.7,139.6 408.8,138.5 408.9,138.2 409.0,138.4 409.1,138.2 409.2,136.8 409.3,136.7 409.4,136.9 409.5,136.2 409.6,136.0 409.7,135.8 409.8,135.4 409.9,134.2 410.0,133.6 410.1,132.8 410.2,132.3 410.3,131.3 410.4,129.8 410.5,128.7 410.6,127.4 410.7,126.2 410.8,124.6 410.9,123.4 411.0,121.7 411.1,119.9 411.2,117.8 411.3,115.8 411.4,113.9 411.5,111.5 411.6,109.0 411.7,106.7 411.8,103.9 411.9,101.6 412.0,99.6 412.1,96.1 412.2,94.0 412.3,91.4 412.4,89.1 412.5,86.7 412.6,84.5 412.7,82.7 412.8,81.1 412.9,79.6 413.0,78.7 413.1,78.0 413.2,77.9 413.3,78.1 413.4,78.7 413.5,79.7 413.6,81.0 413.7,82.6 413.8,84.7 413.9,86.5 414.0,88.9 414.1,91.6 414.2,93.7 414.3,96.4 414.4,99.3 414.5,101.5 414.6,103.7 414.7,106.5 414.8,109.1 414.9,111.2 415.0,113.4 415.1,115.5 415.2,117.7 415.3,119.4 415.4,121.5 415.5,122.9 415.6,124.6 415.7,126.1 415.8,127.3 415.9,128.2 416.0,129.6 416.1,130.5 416.2,131.5 416.3,132.2 416.4,133.1 416.5,133.8 416.6,134.2 416.7,134.6 416.8,135.6 416.9,136.1 417.0,136.6 417.1,136.7 417.2,136.8 417.3,136.9 417.4,138.0 417.5,138.1 417.6,138.9 417.7,137.9 417.8,138.2 417.9,139.3 418.0,138.0 418.1,137.8 418.2,138.6 418.3,139.6 418.4,140.1 418.5,138.9 418.6,139.3 418.7,138.4 418.8,141.0 418.9,141.2 419.0,139.9 419.1,139.4 419.2,140.5 419.3,140.6 419.4,139.5 419.5,139.0 419.6,139.3 419.7,142.1 419.8,139.2 419.9,139.8 420.0,140.5 420.1,140.0 420.2,140.0 420.3,140.8 420.4,140.6 420.5,141.7 420.6,140.1 420.7,140.8 420.8,141.2 420.9,140.8 421.0,140.4 421.1,140.6 421.2,138.8 421.3,141.2 421.4,141.2 421.5,140.9 421.6,142.2 421.7,138.9 421.8,141.0 421.9,140.1 422.0,141.3 422.1,139.2 422.2,140.4 422.3,141.9 422.4,141.1 422.5,141.0 422.6,141.5 422.7,141.7 422.8,141.3 422.9,140.1 423.0,139.9 423.1,142.1 423.2,142.8 423.3,143.2 423.4,141.9 423.5,141.0 423.6,141.9 423.7,141.0 423.8,142.6 423.9,142.1 424.0,139.0 424.1,141.6 424.2,141.3 424.3,139.5 424.4,139.9 424.5,140.7 424.6,141.4 424.7,140.8 424.8,141.7 424.9,139.2 425.0,140.9 425.1,141.2 425.2,141.8 425.3,140.9 425.4,139.7 425.5,142.2 425.6,140.5 425.7,141.6 425.8,140.4 425.9,140.9 426.0,139.8 426.1,140.1 426.2,140.2 426.3,141.6 426.4,142.5 426.5,142.6 426.6,141.3 426.7,141.1 426.8,139.0 426.9,141.3 427.0,141.1 427.1,141.3 427.2,140.6 427.3,141.7 427.4,142.5 427.5,141.2 427.6,143.0 427.7,142.3 427.8,142.3 427.9,141.5 428.0,139.2 428.1,141.4 428.2,141.2 428.3,142.2 428.4,141.4 428.5,141.3 428.6,139.5 428.7,141.0 428.8,141.7 428.9,141.3 429.0,142.8 429.1,140.9 429.2,141.2 429.3,141.1 429.4,141.3 429.5,140.4 429.6,141.5 429.7,141.1 429.8,141.5 429.9,142.1 430.0,141.2 430.1,142.3 430.2,140.2 430.3,141.8 430.4,139.9 430.5,141.6 430.6,141.1 430.7,140.7 430.8,139.6 430.9,141.8 431.0,142.4 431.1,140.3 431.2,141.1 431.3,140.5 431.4,140.7 431.5,142.6 431.6,141.7 431.7,141.1 431.8,140.6 431.9,140.8 432.0,142.5 432.1,141.9 432.2,141.9 432.3,141.6 432.4,142.2 432.5,139.0 432.6,141.3 432.7,140.0 432.8,141.3 432.9,141.9 433.0,140.4 433.1,139.9 433.2,139.9 433.3,143.2 433.4,139.8 433.5,141.6 433.6,142.7 433.7,140.4 433.8,141.4 433.9,138.9 434.0,140.3 434.1,140.9 434.2,140.3 434.3,141.3 434.4,142.8 434.5,141.1 434.6,140.6 434.7,140.9 434.8,141.6 434.9,140.8 435.0,141.6 435.1,141.3 435.2,138.8 435.3,140.6 435.4,139.4 435.5,139.8 435.6,139.5 435.7,140.0 435.8,141.0 435.9,140.3 436.0,142.0 436.1,140.2 436.2,139.9 436.3,139.4 436.4,140.1 436.5,140.6 436.6,142.2 436.7,140.6 436.8,141.1 436.9,139.7 437.0,141.6 437.1,141.7 437.2,141.4 437.3,141.6 437.4,141.2 437.5,141.7 437.6,140.1 437.7,139.1 437.8,140.0 437.9,141.1 438.0,142.8 438.1,141.5 438.2,142.1 438.3,140.0 438.4,140.3 438.5,139.3 438.6,141.0 438.7,141.3 438.8,141.2 438.9,139.8 439.0,140.6 439.1,141.4 439.2,140.6 439.3,141.5 439.4,140.5 439.5,140.6 439.6,141.4 439.7,140.5 439.8,141.5 439.9,140.8 440.0,141.0 440.1,141.4 440.2,140.6 440.3,139.8 440.4,138.7 440.5,140.1 440.6,139.8 440.7,140.9 440.8,141.5 440.9,140.6 441.0,142.3 441.1,140.5 441.2,141.5 441.3,140.9 441.4,140.9 441.5,140.6 441.6,138.7 441.7,140.0 441.8,141.2 441.9,138.8 442.0,141.0 442.1,140.6 442.2,141.3 442.3,140.6 442.4,138.6 442.5,141.8 442.6,140.3 442.7,140.8 442.8,140.0 442.9,140.5 443.0,141.5 443.1,142.0 443.2,141.1 443.3,141.7 443.4,139.7 443.5,140.2 443.6,138.3 443.7,141.1 443.8,140.7 443.9,139.7 444.0,139.4 444.1,139.9 444.2,142.2 444.3,140.9 444.4,142.0 444.5,140.7 444.6,140.2 444.7,140.1 444.8,141.6 444.9,140.7 445.0,140.2 445.1,142.0 445.2,138.2 445.3,140.8 445.4,140.4 445.5,142.5 445.6,139.5 445.7,140.7 445.8,140.6 445.9,140.5 446.0,138.6 446.1,141.5 446.2,140.8 446.3,140.9 446.4,141.6 446.5,141.5 446.6,139.3 446.7,140.2 446.8,141.3 446.9,140.0 447.0,141.5 447.1,139.6 447.2,142.1 447.3,141.0 447.4,140.8 447.5,139.9 447.6,140.0 447.7,138.0 447.8,140.3 447.9,140.3 448.0,140.2 448.1,139.8 448.2,139.7 448.3,140.1 448.4,140.5 448.5,139.4 448.6,140.2 448.7,139.0 448.8,140.6 448.9,141.9 449.0,139.4 449.1,141.9 449.2,141.2 449.3,139.6 449.4,140.0 449.5,140.3 449.6,141.1 449.7,139.0 449.8,140.2 449.9,141.1 450.0,139.6 450.1,139.8 450.2,139.3 450.3,138.4 450.4,138.8 450.5,139.4 450.6,141.1 450.7,141.5 450.8,139.5 450.9,139.6 451.0,140.1 451.1,139.9 451.2,139.5 451.3,140.2 451.4,139.5 451.5,140.6 451.6,138.8 451.7,139.4 451.8,141.5 451.9,139.8 452.0,138.9 452.1,139.6 452.2,139.1 452.3,140.3 452.4,140.0 452.5,141.1 452.6,139.0 452.7,140.3 452.8,139.2 452.9,139.4 453.0,140.8 453.1,139.7 453.2,138.0 453.3,139.3 453.4,140.6 453.5,138.8 453.6,139.2 453.7,139.1 453.8,140.1 453.9,139.4 454.0,138.4 454.1,139.5 454.2,138.1 454.3,140.6 454.4,138.8 454.5,140.6 454.6,141.1 454.7,139.4 454.8,137.6 454.9,139.9 455.0,140.4 455.1,139.1 455.2,139.0 455.3,139.4 455.4,139.3 455.5,139.5 455.6,139.1 455.7,139.2 455.8,138.9 455.9,140.2 456.0,139.5 456.1,138.4 456.2,137.0 456.3,138.5 456.4,140.0 456.5,138.6 456.6,138.9 456.7,138.9 456.8,140.5 456.9,138.3 457.0,137.8 457.1,137.9 457.2,137.6 457.3,139.9 457.4,137.7 457.5,139.5 457.6,139.0 457.7,138.8 457.8,139.5 457.9,137.6 458.0,139.2 458.1,138.5 458.2,138.8 458.3,137.8 458.4,138.5 458.5,138.0 458.6,138.6 458.7,139.4 458.8,139.2 458.9,138.4 459.0,138.2 459.1,139.5 459.2,140.0 459.3,139.5 459.4,137.6 459.5,138.3 459.6,138.7 459.7,139.2 459.8,140.0 459.9,137.9 460.0,138.7 460.1,139.6 460.2,138.2 460.3,139.5 460.4,137.7 460.5,138.9 460.6,138.2 460.7,137.2 460.8,137.6 460.9,138.9 461.0,137.3 461.1,136.3 461.2,138.3 461.3,138.5 461.4,137.5 461.5,140.6 461.6,139.2 461.7,138.5 461.8,137.1 461.9,137.6 462.0,137.2 462.1,137.5 462.2,138.5 462.3,138.1 462.4,138.6 462.5,137.4 462.6,139.7 462.7,137.5 462.8,137.4 462.9,137.7 463.0,137.9 463.1,139.9 463.2,138.1 463.3,137.2 463.4,138.7 463.5,136.7 463.6,139.9 463.7,137.7 463.8,137.6 463.9,136.9 464.0,137.6 464.1,138.5 464.2,138.6 464.3,137.6 464.4,135.8 464.5,138.4 464.6,138.4 464.7,138.2 464.8,137.1 464.9,139.2 465.0,137.8 465.1,137.7 465.2,138.1 465.3,138.7 465.4,139.0 465.5,137.0 465.6,136.8 465.7,139.2 465.8,137.0 465.9,138.9 466.0,137.8 466.1,138.2 466.2,135.9 466.3,139.5 466.4,136.2 466.5,138.0 466.6,138.6 466.7,136.3 466.8,135.5 466.9,137.5 467.0,135.9 467.1,137.0 467.2,137.0 467.3,138.2 467.4,137.8 467.5,137.1 467.6,137.8 467.7,137.4 467.8,137.5 467.9,137.5 468.0,136.2 468.1,135.8 468.2,137.4 468.3,136.7 468.4,135.9 468.5,136.0 468.6,137.5 468.7,135.2 468.8,136.5 468.9,135.9 469.0,135.2 469.1,136.3 469.2,136.0 469.3,135.6 469.4,135.2 469.5,136.0 469.6,135.9 469.7,136.0 469.8,135.1 469.9,135.7 470.0,135.7 470.1,135.0 470.2,134.5 470.3,133.8 470.4,135.2 470.5,134.7 470.6,134.4 470.7,133.9 470.8,133.6 470.9,133.5 471.0,133.0 471.1,132.8 471.2,131.8 471.3,131.6 471.4,130.9 471.5,130.5 471.6,129.6 471.7,128.7 471.8,127.7 471.9,126.4 472.0,124.9 472.1,123.0 472.2,120.8 472.3,118.2 472.4,115.2 472.5,111.4 472.6,107.1 472.7,102.3 472.8,96.8 472.9,90.7 473.0,84.3 473.1,77.8 473.2,71.7 473.3,66.6 473.4,63.1 473.5,61.9 473.6,63.0 473.7,66.4 473.8,71.5 473.9,77.6 474.0,84.0 474.1,90.3 474.2,96.3 474.3,101.8 474.4,106.7 474.5,110.8 474.6,114.4 474.7,117.4 474.8,120.1 474.9,122.1 475.0,123.9 475.1,125.4 475.2,126.5 475.3,127.4 475.4,128.1 475.5,129.1 475.6,129.7 475.7,130.0 475.8,130.8 475.9,130.7 476.0,131.1 476.1,131.0 476.2,131.9 476.3,132.4 476.4,132.4 476.5,132.0 476.6,132.2 476.7,132.3 476.8,133.8 476.9,134.3 477.0,133.4 477.1,133.0 477.2,133.6 477.3,133.9 477.4,134.6 477.5,132.7 477.6,133.6 477.7,133.6 477.8,132.3 477.9,133.6 478.0,132.6 478.1,134.4 478.2,133.9 478.3,134.3 478.4,134.1 478.5,133.5 478.6,132.5 478.7,132.5 478.8,134.4 478.9,136.0 479.0,134.1 479.1,134.5 479.2,134.7 479.3,134.7 479.4,134.7 479.5,134.7 479.6,133.8 479.7,133.7 479.8,134.6 479.9,134.7 480.0,132.8 480.1,136.2 480.2,132.7 480.3,134.0 480.4,133.2 480.5,135.6 480.6,133.6 480.7,134.4 480.8,134.0 480.9,134.3 481.0,134.3 481.1,134.8 481.2,133.4 481.3,134.8 481.4,133.6 481.5,134.0 481.6,133.7 481.7,134.8 481.8,133.7 481.9,133.3 482.0,134.2 482.1,134.4 482.2,134.5 482.3,134.0 482.4,133.8 482.5,132.6 482.6,135.1 482.7,133.9 482.8,133.1 482.9,134.6 483.0,133.5 483.1,133.8 483.2,134.5 483.3,133.6 483.4,133.0 483.5,133.7 483.6,133.6 483.7,132.2 483.8,133.8 483.9,134.3 484.0,133.0 484.1,133.8 484.2,134.0 484.3,134.1 484.4,133.6 484.5,131.4 484.6,133.8 484.7,134.3 484.8,134.0 484.9,131.8 485.0,134.5 485.1,134.6 485.2,131.6 485.3,131.7 485.4,132.8 485.5,133.6 485.6,133.1 485.7,134.1 485.8,133.8 485.9,134.3 486.0,134.8 486.1,132.7 486.2,133.9 486.3,132.4 486.4,133.1 486.5,132.0 486.6,134.1 486.7,133.0 486.8,132.8 486.9,134.0 487.0,132.8 487.1,132.2 487.2,130.8 487.3,131.9 487.4,134.3 487.5,131.7 487.6,133.7 487.7,132.0 487.8,133.8 487.9,132.8 488.0,132.0 488.1,132.0 488.2,132.7 488.3,132.0 488.4,133.3 488.5,133.2 488.6,130.2 488.7,132.4 488.8,132.4 488.9,132.8 489.0,131.7 489.1,132.4 489.2,131.2 489.3,131.2 489.4,131.1 489.5,130.9 489.6,132.2 489.7,132.3 489.8,132.7 489.9,131.3 490.0,130.7 490.1,129.9 490.2,131.9 490.3,131.2 490.4,130.8 490.5,132.2 490.6,130.6 490.7,130.4 490.8,130.0 490.9,129.3 491.0,131.1 491.1,130.0 491.2,129.9 491.3,130.0 491.4,127.9 491.5,128.6 491.6,128.3 491.7,129.6 491.8,128.0 491.9,127.3 492.0,127.5 492.1,127.6 492.2,127.1 492.3,127.7 492.4,127.6 492.5,126.5 492.6,125.4 492.7,126.2 492.8,124.4 492.9,124.3 493.0,124.8 493.1,124.8 493.2,124.3 493.3,123.3 493.4,123.2 493.5,121.9 493.6,121.5 493.7,121.5 493.8,120.5 493.9,119.8 494.0,119.4 494.1,119.1 494.2,118.1 494.3,117.4 494.4,116.2 494.5,115.2 494.6,114.3 494.7,112.8 494.8,111.8 494.9,110.1 495.0,108.7 495.1,107.0 495.2,105.0 495.3,102.9 495.4,100.4 495.5,97.5 495.6,94.4 495.7,91.0 495.8,86.8 495.9,82.4 496.0,77.5 496.1,72.0 496.2,66.0 496.3,59.3 496.4,52.3 496.5,45.0 496.6,37.3 496.7,29.7 496.8,22.5 496.9,16.2 497.0,11.2 497.1,8.0 497.2,6.9 497.3,8.1 497.4,11.4 497.5,16.5 497.6,22.8 497.7,30.1 497.8,37.7 497.9,45.5 498.0,52.9 498.1,60.1 498.2,66.7 498.3,72.9 498.4,78.4 498.5,83.3 498.6,87.8 498.7,91.8 498.8,95.5 498.9,98.6 499.0,101.4 499.1,103.9 499.2,106.2 499.3,108.1 499.4,109.9 499.5,111.3 499.6,113.0 499.7,114.2 499.8,115.4 499.9,116.7 500.0,117.5 500.1,118.1 500.2,119.1 500.3,120.0 500.4,120.4 500.5,121.4 500.6,122.0 500.7,122.5 500.8,122.8 500.9,123.1 501.0,124.3 501.1,123.9 501.2,125.1 501.3,125.7 501.4,125.2 501.5,126.3 501.6,126.4 501.7,127.2 501.8,126.5 501.9,127.0 502.0,127.4 502.1,128.3 502.2,127.6 502.3,127.9 502.4,127.9 502.5,130.2 502.6,128.6 502.7,128.8 502.8,129.7 502.9,129.3 503.0,129.6 503.1,130.2 503.2,130.2 503.3,131.8 503.4,131.2 503.5,130.6 503.6,131.2 503.7,130.4 503.8,130.7 503.9,132.3 504.0,130.4 504.1,131.0 504.2,131.0 504.3,132.1 504.4,131.6 504.5,131.1 504.6,130.7 504.7,131.4 504.8,132.8 504.9,132.8 505.0,132.2 505.1,131.9 505.2,131.6 505.3,133.0 505.4,130.6 505.5,133.2 505.6,134.1 505.7,132.5 505.8,134.5 505.9,131.7 506.0,131.6 506.1,133.9 506.2,133.3 506.3,133.2 506.4,134.5 506.5,134.0 506.6,134.0 506.7,134.3 506.8,133.2 506.9,133.7 507.0,131.4 507.1,132.4 507.2,134.4 507.3,134.1 507.4,132.5 507.5,133.9 507.6,133.5 507.7,132.5 507.8,132.6 507.9,133.3 508.0,131.7 508.1,134.3 508.2,134.6 508.3,133.9 508.4,133.6 508.5,133.5 508.6,132.4 508.7,133.1 508.8,133.5 508.9,134.9 509.0,133.4 509.1,135.2 509.2,134.0 509.3,133.3 509.4,134.4 509.5,133.4 509.6,134.6 509.7,134.1 509.8,135.6 509.9,135.4 510.0,134.8 510.1,135.6 510.2,134.3 510.3,132.9 510.4,133.9 510.5,134.8 510.6,134.9 510.7,134.0 510.8,135.6 510.9,135.6 511.0,134.5 511.1,134.1 511.2,132.7 511.3,135.4 511.4,134.3 511.5,134.1 511.6,133.8 511.7,135.2 511.8,134.2 511.9,134.8 512.0,135.9 512.1,136.4 512.2,135.3 512.3,132.7 512.4,134.3 512.5,134.4 512.6,135.5 512.7,133.9 512.8,137.2 512.9,134.7 513.0,134.6 513.1,134.8 513.2,134.0 513.3,133.9 513.4,134.9 513.5,136.2 513.6,134.8 513.7,135.4 513.8,134.4 513.9,136.2 514.0,135.9 514.1,134.6 514.2,135.2 514.3,135.9 514.4,135.0 514.5,135.4 514.6,135.9 514.7,133.9 514.8,135.5 514.9,135.8 515.0,134.7 515.1,136.8 515.2,135.3 515.3,133.4 515.4,135.5 515.5,136.4 515.6,135.8 515.7,135.8 515.8,136.0 515.9,133.9 516.0,134.0 516.1,134.6 516.2,135.3 516.3,136.5 516.4,136.2 516.5,135.6 516.6,137.6 516.7,135.6 516.8,136.6 516.9,137.5 517.0,135.3 517.1,136.3 517.2,133.7 517.3,136.6 517.4,136.8 517.5,136.6 517.6,135.5 517.7,137.1 517.8,135.8 517.9,136.6 518.0,137.3 518.1,135.3 518.2,135.6 518.3,135.4 518.4,135.1 518.5,137.7 518.6,136.4 518.7,134.9 518.8,135.3 518.9,134.6 519.0,135.9 519.1,135.4 519.2,135.8 519.3,136.0 519.4,136.6 519.5,137.8 519.6,136.3 519.7,135.9 519.8,137.0 519.9,136.3 520.0,135.7 520.1,136.1 520.2,136.6 520.3,135.2 520.4,135.2 520.5,137.3 520.6,136.1 520.7,135.9 520.8,135.1 520.9,137.8 521.0,136.2 521.1,136.0 521.2,135.5 521.3,137.5 521.4,135.3 521.5,137.4 521.6,136.6 521.7,135.5 521.8,136.7 521.9,136.4 522.0,136.2 522.1,135.5 522.2,136.0 522.3,135.5 522.4,134.9 522.5,137.4 522.6,134.9 522.7,136.5 522.8,137.4 522.9,136.2 523.0,136.2 523.1,136.1 523.2,135.0 523.3,137.2 523.4,135.3 523.5,136.6 523.6,136.3 523.7,137.3 523.8,136.3 523.9,137.1 524.0,136.1 524.1,136.0 524.2,137.2 524.3,136.8 524.4,136.2 524.5,136.0 524.6,137.2 524.7,137.2 524.8,137.5 524.9,137.8 525.0,138.1 525.1,137.2 525.2,134.9 525.3,135.7 525.4,134.7 525.5,137.6 525.6,137.7 525.7,137.9 525.8,137.3 525.9,136.0 526.0,136.9 526.1,134.6 526.2,135.9 526.3,139.2 526.4,136.8 526.5,136.0 526.6,135.5 526.7,136.8 526.8,137.4 526.9,137.6 527.0,136.7 527.1,136.4 527.2,136.1 527.3,135.0 527.4,136.4 527.5,135.4 527.6,137.2 527.7,136.1 527.8,135.8 527.9,137.7 528.0,136.4 528.1,136.9 528.2,135.7 528.3,136.2 528.4,136.9 528.5,135.7 528.6,137.3 528.7,137.5 528.8,137.5 528.9,135.8 529.0,137.7 529.1,135.6 529.2,137.8 529.3,136.5 529.4,137.2 529.5,136.9 529.6,136.1 529.7,135.1 529.8,135.1 529.9,138.1 530.0,137.7 530.1,134.9 530.2,137.1 530.3,136.4 530.4,137.5 530.5,135.0 530.6,136.1 530.7,135.2 530.8,135.0 530.9,137.5 531.0,136.1 531.1,137.6 531.2,136.8 531.3,135.3 531.4,136.7 531.5,136.9 531.6,138.6 531.7,136.8 531.8,138.3 531.9,138.8 532.0,137.2 532.1,137.4 532.2,136.5 532.3,136.4 532.4,136.4 532.5,138.2 532.6,137.0 532.7,135.3 532.8,134.5 532.9,135.8 533.0,136.3 533.1,136.4 533.2,135.5 533.3,135.8 533.4,135.3 533.5,137.5 533.6,136.4 533.7,136.7 533.8,136.6 533.9,135.9 534.0,137.2 534.1,136.4 534.2,136.3 534.3,136.6 534.4,136.2 534.5,137.3 534.6,135.7 534.7,137.1 534.8,138.2 534.9,135.9 535.0,135.4 535.1,136.0 535.2,135.8 535.3,137.5 535.4,136.6 535.5,137.5 535.6,136.8 535.7,135.7 535.8,136.4 535.9,137.4 536.0,136.6 536.1,135.7 536.2,135.3 536.3,135.9 536.4,135.5 536.5,137.9 536.6,134.7 536.7,136.8 536.8,135.5 536.9,136.3 537.0,135.5 537.1,136.7 537.2,135.7 537.3,135.9 537.4,137.1 537.5,135.3 537.6,136.0 537.7,136.7 537.8,134.4 537.9,135.9 538.0,135.4 538.1,137.6 538.2,136.9 538.3,135.6 538.4,136.4 538.5,134.1 538.6,134.3 538.7,136.0 538.8,134.9 538.9,135.7 539.0,134.4 539.1,136.2 539.2,135.2 539.3,135.6 539.4,137.2 539.5,134.8 539.6,134.0 539.7,135.2 539.8,137.5 539.9,135.1 540.0,134.6 540.1,135.0 540.2,135.0 540.3,134.7 540.4,135.1 540.5,136.1 540.6,135.3 540.7,135.2 540.8,134.9 540.9,136.2 541.0,134.0 541.1,135.7 541.2,136.7 541.3,135.7 541.4,134.7 541.5,135.6 541.6,134.6 541.7,134.1 541.8,134.6 541.9,134.6 542.0,135.4 542.1,135.1 542.2,135.3 542.3,134.4 542.4,132.7 542.5,133.3 542.6,134.5 542.7,133.4 542.8,134.5 542.9,132.8 543.0,134.6 543.1,132.7 543.2,134.2 543.3,134.4 543.4,133.6 543.5,134.7 543.6,134.4 543.7,133.4 543.8,134.4 543.9,133.5 544.0,133.4 544.1,133.9 544.2,133.3 544.3,131.2 544.4,132.2 544.5,134.4 544.6,134.6 544.7,134.3 544.8,132.4 544.9,131.2 545.0,133.1 545.1,134.1 545.2,132.8 545.3,131.2 545.4,133.3 545.5,132.8 545.6,132.2 545.7,133.2 545.8,131.5 545.9,133.4 546.0,132.3 546.1,131.6 546.2,133.9 546.3,132.4 546.4,131.0 546.5,133.0 546.6,132.4 546.7,133.1 546.8,130.7 546.9,130.6 547.0,131.7 547.1,131.7 547.2,132.7 547.3,132.3 547.4,133.0 547.5,132.0 547.6,131.8 547.7,132.3 547.8,132.5 547.9,132.2 548.0,130.7 548.1,131.8 548.2,131.5 548.3,131.4 548.4,130.2 548.5,132.6 548.6,131.6 548.7,130.2 548.8,130.6 548.9,131.0 549.0,130.6 549.1,130.0 549.2,130.6 549.3,129.6 549.4,129.3 549.5,129.9 549.6,130.9 549.7,130.3 549.8,128.8 549.9,130.5 550.0,129.6 550.1,129.1 550.2,128.1 550.3,127.6 550.4,128.3 550.5,127.3 550.6,127.9 550.7,128.4 550.8,127.1 550.9,127.9 551.0,127.5 551.1,127.1 551.2,126.3 551.3,126.2 551.4,126.0 551.5,125.2 551.6,124.5 551.7,124.6 551.8,123.6 551.9,123.2 552.0,122.5 552.1,121.5 552.2,120.7 552.3,119.4 552.4,118.8 552.5,118.3 552.6,116.7 552.7,115.6 552.8,114.3 552.9,112.9 553.0,111.8 553.1,110.1 553.2,109.4 553.3,107.2 553.4,105.7 553.5,104.6 553.6,102.3 553.7,101.3 553.8,99.6 553.9,97.9 554.0,96.9 554.1,95.6 554.2,94.8 554.3,94.1 554.4,93.7 554.5,93.6 554.6,93.5 554.7,94.1 554.8,94.8 554.9,95.8 555.0,96.8 555.1,98.0 555.2,99.6 555.3,101.1 555.4,102.8 555.5,104.7 555.6,106.0 555.7,107.9 555.8,108.9 555.9,110.8 556.0,111.9 556.1,113.4 556.2,114.6 556.3,115.8 556.4,117.3 556.5,118.3 556.6,119.1 556.7,120.2 556.8,121.3 556.9,122.2 557.0,122.5 557.1,123.4 557.2,124.1 557.3,124.7 557.4,125.4 557.5,125.8 557.6,126.7 557.7,126.8 557.8,126.8 557.9,127.3 558.0,128.4 558.1,127.4 558.2,128.5 558.3,129.6 558.4,129.4 558.5,128.1 558.6,129.1 558.7,130.7 558.8,128.5 558.9,130.4 559.0,131.2 559.1,129.8 559.2,129.8 559.3,130.8 559.4,131.6 559.5,131.3 559.6,131.4 559.7,131.8 559.8,132.2 559.9,131.2 560.0,131.6 560.1,131.5 560.2,132.4 560.3,133.0 560.4,133.7 560.5,132.1 560.6,132.5 560.7,131.1 560.8,131.7 560.9,132.9 561.0,134.0 561.1,133.8 561.2,132.1 561.3,132.8 561.4,134.8 561.5,133.8 561.6,133.8 561.7,134.0 561.8,133.5 561.9,134.1 562.0,134.0 562.1,133.1 562.2,132.4 562.3,133.9 562.4,135.1 562.5,133.2 562.6,134.0 562.7,134.4 562.8,135.1 562.9,134.4 563.0,133.2 563.1,134.7 563.2,133.7 563.3,134.3 563.4,135.5 563.5,134.9 563.6,134.4 563.7,135.9 563.8,134.7 563.9,133.5 564.0,133.8 564.1,135.3 564.2,135.1 564.3,132.8 564.4,132.6 564.5,134.8 564.6,134.7 564.7,132.8 564.8,135.0 564.9,134.9 565.0,133.2 565.1,134.4 565.2,136.0 565.3,134.6 565.4,134.0 565.5,134.7 565.6,136.7 565.7,133.4 565.8,135.1 565.9,135.6 566.0,135.9 566.1,136.5 566.2,133.4 566.3,136.4 566.4,136.4 566.5,135.4 566.6,134.7 566.7,134.0 566.8,134.3 566.9,134.7 567.0,134.5 567.1,135.7 567.2,133.8 567.3,135.0 567.4,136.4 567.5,134.9 567.6,134.4 567.7,137.4 567.8,136.5 567.9,133.9 568.0,135.8 568.1,135.8 568.2,135.3 568.3,135.2 568.4,136.6 568.5,135.4 568.6,135.4 568.7,134.6 568.8,136.8 568.9,135.7 569.0,135.5 569.1,135.7 569.2,135.1 569.3,134.7 569.4,134.7 569.5,137.6 569.6,135.8 569.7,136.0 569.8,136.0 569.9,134.9 570.0,135.2 570.1,135.8 570.2,135.4 570.3,135.5 570.4,136.9 570.5,136.2 570.6,136.4 570.7,135.7 570.8,134.2 570.9,134.6 571.0,137.5 571.1,133.4 571.2,136.3 571.3,137.1 571.4,137.2 571.5,137.0 571.6,134.5 571.7,135.9 571.8,134.2 571.9,135.8 572.0,136.3 572.1,136.7 572.2,134.6 572.3,134.6 572.4,135.2 572.5,134.5 572.6,136.7 572.7,136.3 572.8,135.7 572.9,135.5 573.0,134.3 573.1,136.5 573.2,137.6 573.3,135.2 573.4,134.9 573.5,135.8 573.6,134.9 573.7,135.2 573.8,135.9 573.9,135.2 574.0,136.0 574.1,134.9 574.2,135.9 574.3,134.2 574.4,137.1 574.5,137.0 574.6,135.2 574.7,135.7 574.8,134.0 574.9,135.0 575.0,137.2 575.1,134.9 575.2,133.5 575.3,135.1 575.4,135.9 575.5,134.7 575.6,135.1 575.7,135.5 575.8,135.3 575.9,134.3 576.0,136.1 576.1,136.0 576.2,135.3 576.3,135.6 576.4,137.3 576.5,135.6 576.6,134.8 576.7,136.0 576.8,133.6 576.9,135.8 577.0,134.0 577.1,134.3 577.2,134.2 577.3,135.4 577.4,135.7 577.5,134.9 577.6,135.8 577.7,135.9 577.8,134.9 577.9,136.5 578.0,136.4 578.1,135.4 578.2,136.0 578.3,135.8 578.4,133.5 578.5,135.2 578.6,133.2 578.7,135.3 578.8,135.4 578.9,134.6 579.0,135.8 579.1,133.7 579.2,135.9 579.3,135.3 579.4,134.3 579.5,134.9 579.6,133.7 579.7,135.0 579.8,134.4 579.9,136.3 580.0,133.5 580.1,135.6 580.2,134.6 580.3,133.2 580.4,133.7 580.5,133.6 580.6,132.2 580.7,133.2 580.8,134.0 580.9,134.5 581.0,135.0 581.1,132.4 581.2,133.4 581.3,132.6 581.4,133.0 581.5,134.0 581.6,133.1 581.7,132.8 581.8,133.3 581.9,132.8 582.0,133.5 582.1,134.5 582.2,133.1 582.3,132.9 582.4,133.0 582.5,132.3 582.6,132.6 582.7,132.0 582.8,132.3 582.9,132.0 583.0,131.2 583.1,131.4 583.2,130.8 583.3,130.4 583.4,129.7 583.5,129.2 583.6,128.5 583.7,127.5 583.8,126.5 583.9,125.3 584.0,123.8 584.1,122.2 584.2,120.4 584.3,118.2 584.4,116.0 584.5,113.5 584.6,110.7 584.7,107.6 584.8,104.5 584.9,101.3 585.0,98.3 585.1,95.2 585.2,92.5 585.3,90.0 585.4,88.2 585.5,87.1 585.6,86.5 585.7,87.0 585.8,88.2 585.9,90.0 586.0,92.4 586.1,95.1 586.2,98.2 586.3,101.2 586.4,104.5 586.5,107.4 586.6,110.5 586.7,113.0 586.8,115.5 586.9,117.7 587.0,120.0 587.1,121.9 587.2,123.3 587.3,124.8 587.4,126.0 587.5,127.0 587.6,127.7 587.7,128.4 587.8,129.1 587.9,129.6 588.0,129.8 588.1,130.4 588.2,130.5 588.3,130.6 588.4,130.9 588.5,131.2 588.6,131.1 588.7,131.9 588.8,131.5 588.9,131.0 589.0,130.4 589.1,131.1 589.2,131.9 589.3,130.9 589.4,131.1 589.5,132.5 589.6,133.2 589.7,132.6 589.8,134.1 589.9,130.7 590.0,131.4 590.1,134.3 590.2,131.6 590.3,132.3 590.4,133.5 590.5,132.1 590.6,131.9 590.7,132.2 590.8,132.7 590.9,132.9 591.0,131.9 591.1,132.7 591.2,134.4 591.3,132.8 591.4,131.9 591.5,133.2 591.6,131.3 591.7,132.4 591.8,132.8 591.9,133.9 592.0,133.5 592.1,132.4 592.2,132.9 592.3,133.8 592.4,133.8 592.5,132.9 592.6,132.4 592.7,133.2 592.8,131.0 592.9,131.0 593.0,130.9 593.1,133.1 593.2,133.5 593.3,132.3 593.4,133.4 593.5,132.6 593.6,134.6 593.7,131.9 593.8,132.6 593.9,132.5 594.0,133.5 594.1,132.3 594.2,132.7 594.3,133.1 594.4,132.6 594.5,133.5 594.6,134.9 594.7,132.5 594.8,130.9 594.9,134.6 595.0,132.8 595.1,132.5 595.2,132.4 595.3,132.5 595.4,131.4 595.5,134.7 595.6,134.5 595.7,131.3 595.8,132.8 595.9,132.1 596.0,132.5 596.1,132.4 596.2,132.9 596.3,132.9 596.4,133.0 596.5,133.8 596.6,132.2 596.7,131.1 596.8,133.2 596.9,132.7 597.0,133.1 597.1,131.9 597.2,132.1 597.3,133.2 597.4,131.8 597.5,132.4 597.6,133.0 597.7,132.0 597.8,131.6 597.9,133.3 598.0,131.8 598.1,132.0 598.2,131.6 598.3,131.3 598.4,131.7 598.5,131.2 598.6,130.7 598.7,131.0 598.8,130.0 598.9,129.9 599.0,129.6 599.1,129.8 599.2,129.1 599.3,128.5 599.4,127.9 599.5,127.2 599.6,126.2 599.7,125.4 599.8,124.2 599.9,123.4 600.0,122.7 600.1,121.7 600.2,121.0 600.3,119.4 600.4,118.0 600.5,117.7 600.6,116.1 600.7,114.8 600.8,114.4 600.9,113.1 601.0,112.6 601.1,111.8 601.2,111.6 601.3,111.6 601.4,111.7 601.5,111.9 601.6,112.8 601.7,113.5 601.8,114.4 601.9,115.5 602.0,116.4 602.1,117.6 602.2,119.0 602.3,120.4 602.4,121.4 602.5,122.5 602.6,124.1 602.7,124.3 602.8,125.3 602.9,126.8 603.0,127.6 603.1,128.2 603.2,129.3 603.3,130.0 603.4,130.7 603.5,131.0 603.6,131.8 603.7,132.2 603.8,132.4 603.9,132.8 604.0,132.6 604.1,134.0 604.2,134.0 604.3,133.6 604.4,134.8 604.5,133.5 604.6,135.3 604.7,135.0 604.8,134.7 604.9,134.4 605.0,135.6 605.1,135.9 605.2,135.1 605.3,135.8 605.4,136.8 605.5,134.7 605.6,136.5 605.7,135.1 605.8,136.5 605.9,136.9 606.0,135.9 606.1,136.8 606.2,138.0 606.3,134.8 606.4,137.9 606.5,136.3 606.6,135.9 606.7,136.1 606.8,137.0 606.9,138.2 607.0,136.9 607.1,137.0 607.2,136.1 607.3,135.5 607.4,137.5 607.5,136.4 607.6,134.5 607.7,136.9 607.8,136.2 607.9,135.9 608.0,135.9 608.1,137.8 608.2,135.9 608.3,137.3 608.4,136.3 608.5,135.6 608.6,138.2 608.7,137.5 608.8,138.3 608.9,136.9 609.0,137.6 609.1,139.0 609.2,136.5 609.3,137.9 609.4,137.2 609.5,137.6 609.6,136.0 609.7,136.7 609.8,135.2 609.9,137.3 610.0,137.4 610.1,136.4 610.2,138.6 610.3,137.6 610.4,137.4 610.5,136.1 610.6,137.1 610.7,138.1 610.8,136.3 610.9,136.3 611.0,136.9 611.1,137.0 611.2,137.7 611.3,137.4 611.4,136.1 611.5,137.9 611.6,137.3 611.7,137.7 611.8,136.0 611.9,136.8 612.0,137.2 612.1,137.6 612.2,137.3 612.3,135.9 612.4,138.6 612.5,136.9 612.6,137.1 612.7,138.6 612.8,136.9 612.9,137.1 613.0,137.9 613.1,137.7 613.2,136.0 613.3,137.2 613.4,138.7 613.5,139.5 613.6,136.5 613.7,138.7 613.8,138.2 613.9,137.8 614.0,138.5 614.1,136.5 614.2,137.2 614.3,136.7 614.4,138.0 614.5,138.6 614.6,137.2 614.7,137.8 614.8,138.5 614.9,137.1 615.0,136.8 615.1,135.2 615.2,136.4 615.3,137.7 615.4,136.8 615.5,136.5 615.6,139.0 615.7,137.8 615.8,138.4 615.9,138.6 616.0,137.8 616.1,138.5 616.2,136.4 616.3,138.6 616.4,137.2 616.5,136.3 616.6,135.2 616.7,138.8 616.8,136.0 616.9,138.5 617.0,136.6 617.1,137.7 617.2,138.7 617.3,137.6 617.4,136.4 617.5,137.3 617.6,137.3 617.7,136.4 617.8,137.2 617.9,136.4 618.0,137.2 618.1,138.0 618.2,138.6 618.3,136.6 618.4,137.3 618.5,138.3 618.6,138.7 618.7,138.0 618.8,138.9 618.9,138.3 619.0,136.2 619.1,136.8 619.2,139.5 619.3,137.1 619.4,137.6 619.5,136.5 619.6,137.0 619.7,137.5 619.8,136.8 619.9,139.5 620.0,137.0 620.1,139.0 620.2,136.4 620.3,136.4 620.4,135.7 620.5,137.0 620.6,137.4 620.7,136.0 620.8,136.3 620.9,139.5 621.0,137.7 621.1,137.5 621.2,137.2 621.3,138.1 621.4,136.3 621.5,136.6 621.6,136.5 621.7,136.0 621.8,136.7 621.9,138.6 622.0,137.3 622.1,138.2 622.2,136.3 622.3,138.5 622.4,137.7 622.5,137.6 622.6,136.5 622.7,135.4 622.8,137.5 622.9,136.7 623.0,136.5 623.1,137.1 623.2,136.5 623.3,139.1 623.4,137.3 623.5,136.9 623.6,137.6 623.7,138.1 623.8,136.3 623.9,137.0 624.0,137.0 624.1,138.1 624.2,137.1 624.3,136.4 624.4,137.7 624.5,137.4 624.6,137.3 624.7,137.1 624.8,135.8 624.9,136.9 625.0,136.7 625.1,136.5 625.2,137.0 625.3,136.3 625.4,136.7 625.5,136.8 625.6,137.9 625.7,137.6 625.8,137.1 625.9,137.7 626.0,137.8 626.1,137.6 626.2,137.3 626.3,136.9 626.4,135.8 626.5,136.9 626.6,138.1 626.7,137.4 626.8,136.9 626.9,136.2 627.0,136.5 627.1,136.1 627.2,137.0 627.3,136.6 627.4,138.1 627.5,135.9 627.6,135.9 627.7,137.2 627.8,136.4 627.9,136.8 628.0,136.0 628.1,136.0 628.2,135.5 628.3,134.3 628.4,135.4 628.5,134.0 628.6,135.6 628.7,135.1 628.8,135.1 628.9,135.3 629.0,135.3 629.1,133.9 629.2,133.5 629.3,133.2 629.4,133.6 629.5,131.0 629.6,131.9 629.7,131.7 629.8,131.2 629.9,131.9 630.0,131.1 630.1,130.8 630.2,130.6 630.3,129.9 630.4,129.5 630.5,129.7 630.6,128.8 630.7,129.0 630.8,128.4 630.9,128.6 631.0,129.0 631.1,129.2 631.2,128.4 631.3,129.2 631.4,128.7 631.5,129.2 631.6,129.2 631.7,130.4 631.8,129.2 631.9,129.8 632.0,129.6 632.1,130.5 632.2,130.4 632.3,129.7 632.4,130.5 632.5,130.0 632.6,131.0 632.7,130.7 632.8,130.2 632.9,130.2 633.0,129.6 633.1,129.9 633.2,130.6 633.3,129.1 633.4,129.5 633.5,129.8 633.6,130.1 633.7,129.6 633.8,129.1 633.9,129.4 634.0,128.8 634.1,129.5 634.2,129.3 634.3,129.3 634.4,129.5 634.5,129.5 634.6,129.7 634.7,129.4 634.8,130.2 634.9,130.2 635.0,130.1 635.1,131.5 635.2,131.3 635.3,131.8 635.4,133.4 635.5,133.4 635.6,133.2 635.7,133.6 635.8,133.7 635.9,134.2 636.0,134.7 636.1,134.3 636.2,135.1 636.3,134.9 636.4,135.2 636.5,135.8 636.6,135.4 636.7,136.0 636.8,136.3 636.9,137.2 637.0,136.3 637.1,135.9 637.2,136.3 637.3,136.3 637.4,137.2 637.5,137.2 637.6,135.8 637.7,135.5 637.8,135.5 637.9,138.2 638.0,137.1 638.1,136.4 638.2,137.2 638.3,136.7 638.4,135.8 638.5,134.9 638.6,136.1 638.7,137.5 638.8,137.4 638.9,136.7 639.0,135.9 639.1,138.8 639.2,136.9 639.3,137.3 639.4,136.7 639.5,138.0 639.6,138.5 639.7,136.2 639.8,138.2 639.9,136.9 640.0,136.6 640.1,136.2 640.2,137.6 640.3,136.8 640.4,136.3 640.5,135.5 640.6,137.4 640.7,136.3 640.8,136.4 640.9,137.1 641.0,136.5 641.1,136.4 641.2,137.0 641.3,136.2 641.4,136.4 641.5,136.8 641.6,136.5 641.7,136.3 641.8,136.2 641.9,136.5 642.0,136.1 642.1,135.2 642.2,135.7 642.3,135.0 642.4,134.5 642.5,134.2 642.6,133.6 642.7,133.8 642.8,133.0 642.9,133.4 643.0,132.5 643.1,131.9 643.2,131.4 643.3,130.7 643.4,130.2 643.5,129.3 643.6,128.8 643.7,128.0 643.8,127.2 643.9,125.7 644.0,125.4 644.1,125.1 644.2,124.4 644.3,123.4 644.4,122.6 644.5,122.2 644.6,122.2 644.7,121.4 644.8,121.6 644.9,121.9 645.0,121.7 645.1,122.2 645.2,122.9 645.3,123.2 645.4,124.0 645.5,125.0 645.6,125.5 645.7,126.9 645.8,127.2 645.9,128.0 646.0,128.3 646.1,129.7 646.2,130.7 646.3,131.2 646.4,131.4 646.5,132.4 646.6,132.7 646.7,133.4 646.8,134.0 646.9,134.1 647.0,134.8 647.1,134.9 647.2,135.2 647.3,135.6 647.4,135.6 647.5,136.3 647.6,135.7 647.7,136.8 647.8,135.9 647.9,136.1 648.0,136.5 648.1,137.5 648.2,137.3 648.3,136.2 648.4,136.0 648.5,136.1 648.6,137.2 648.7,136.5 648.8,138.1 648.9,137.8 649.0,137.0 649.1,137.5 649.2,137.0 649.3,137.1 649.4,136.1 649.5,136.8 649.6,137.0 649.7,139.4 649.8,136.9 649.9,137.0 650.0,139.5 650.1,137.0 650.2,139.3 650.3,138.7 650.4,136.1 650.5,137.3 650.6,135.5 650.7,137.8 650.8,137.2 650.9,136.8 651.0,136.7 651.1,139.7 651.2,140.4 651.3,138.5 651.4,137.9 651.5,137.8 651.6,137.5 651.7,138.0 651.8,138.6 651.9,138.4 652.0,137.7 652.1,137.1 652.2,136.2 652.3,138.7 652.4,138.1 652.5,138.1 652.6,138.5 652.7,140.0 652.8,136.9 652.9,137.8 653.0,137.9 653.1,139.6 653.2,137.5 653.3,138.2 653.4,136.8 653.5,138.5 653.6,137.3 653.7,138.0 653.8,138.5 653.9,137.8 654.0,138.6 654.1,138.9 654.2,137.0 654.3,137.9 654.4,136.9 654.5,139.7 654.6,137.5 654.7,137.0 654.8,138.3 654.9,138.7 655.0,137.7 655.1,138.9 655.2,139.1 655.3,137.1 655.4,136.8 655.5,137.4 655.6,137.6 655.7,136.8 655.8,137.8 655.9,137.0 656.0,137.3 656.1,139.6 656.2,138.3 656.3,139.0 656.4,136.7 656.5,136.4 656.6,137.9 656.7,137.7 656.8,136.9 656.9,138.2 657.0,137.5 657.1,137.9 657.2,140.1 657.3,137.8 657.4,138.3 657.5,136.2 657.6,138.7 657.7,137.1 657.8,137.7 657.9,137.2 658.0,136.8 658.1,136.9 658.2,139.0 658.3,139.6 658.4,139.6 658.5,137.2 658.6,136.9 658.7,138.8 658.8,137.4 658.9,139.0 659.0,138.4 659.1,138.4 659.2,137.4 659.3,137.7 659.4,138.5 659.5,137.2 659.6,137.8 659.7,137.3 659.8,137.0 659.9,139.5 660.0,137.3 660.1,138.1 660.2,138.6 660.3,138.7 660.4,138.2 660.5,137.3 660.6,138.7 660.7,137.9 660.8,139.0 660.9,139.3 661.0,139.1 661.1,138.2 661.2,138.7 661.3,139.3 661.4,137.8 661.5,138.1 661.6,136.9 661.7,138.7 661.8,138.1 661.9,137.2 662.0,139.7 662.1,136.1 662.2,137.2 662.3,136.9 662.4,138.6 662.5,137.1 662.6,137.1 662.7,138.0 662.8,138.9 662.9,139.0 663.0,138.2 663.1,138.6 663.2,137.8 663.3,138.8 663.4,138.9 663.5,139.3 663.6,137.3 663.7,138.4 663.8,137.0 663.9,137.7 664.0,139.2 664.1,136.8 664.2,138.7 664.3,138.6 664.4,137.4 664.5,138.2 664.6,137.8 664.7,136.5 664.8,139.0 664.9,137.1 665.0,138.7 665.1,138.7 665.2,138.1 665.3,137.6 665.4,137.3 665.5,135.8 665.6,137.7 665.7,138.6 665.8,138.3 665.9,136.4 666.0,138.2 666.1,138.6 666.2,138.3 666.3,137.5 666.4,137.7 666.5,139.9 666.6,138.9 666.7,138.9 666.8,140.2 666.9,137.3 667.0,138.9 667.1,138.8 667.2,138.9 667.3,136.8 667.4,137.4 667.5,138.1 667.6,138.9 667.7,139.2 667.8,139.7 667.9,138.6 668.0,139.9 668.1,138.2 668.2,138.7 668.3,138.7 668.4,136.9 668.5,137.7 668.6,138.7 668.7,137.4 668.8,138.0 668.9,138.5 669.0,138.3 669.1,138.9 669.2,139.2 669.3,138.3 669.4,138.3 669.5,139.9 669.6,139.1 669.7,139.1 669.8,137.8 669.9,139.1 670.0,138.8 670.1,136.6 670.2,137.9 670.3,139.8 670.4,139.6 670.5,140.4 670.6,139.3 670.7,137.5 670.8,138.3 670.9,138.9 671.0,138.9 671.1,138.2 671.2,138.0 671.3,138.1 671.4,139.8 671.5,138.3 671.6,140.6 671.7,138.7 671.8,138.8 671.9,137.0 672.0,137.1 672.1,138.4 672.2,137.2 672.3,138.5 672.4,138.7 672.5,139.5 672.6,139.8 672.7,138.3 672.8,137.0 672.9,138.1 673.0,140.1 673.1,138.4 673.2,137.6 673.3,137.7 673.4,139.4 673.5,139.4 673.6,138.4 673.7,140.7 673.8,139.5 673.9,138.5 674.0,139.6 674.1,138.1 674.2,138.9 674.3,137.5 674.4,139.7 674.5,139.0 674.6,138.7 674.7,137.2 674.8,139.1 674.9,138.6 675.0,138.4"/>
<path d="M34.2,205.8 V3.1 H311.0 V205.8" fill="none" stroke="#000" stroke-width="1.55" stroke-linejoin="miter"/>
<line x1="33.45" y1="205.75" x2="311.75" y2="205.75" stroke="#000" stroke-width="1.8"/>
<path d="M399.3,205.8 V3.1 H675.6 V205.8" fill="none" stroke="#000" stroke-width="1.55" stroke-linejoin="miter"/>
<line x1="398.55" y1="205.75" x2="676.35" y2="205.75" stroke="#000" stroke-width="1.8"/>
<line x1="51.63" y1="205.8" x2="51.63" y2="210.8" stroke="#000" stroke-width="1.5"/>
<text x="51.63" y="223.7" font-size="14.2" text-anchor="middle" fill="#1a1a1a">20</text>
<line x1="73.25" y1="205.8" x2="73.25" y2="208.8" stroke="#000" stroke-width="1.5"/>
<line x1="94.86" y1="205.8" x2="94.86" y2="210.8" stroke="#000" stroke-width="1.5"/>
<text x="94.86" y="223.7" font-size="14.2" text-anchor="middle" fill="#1a1a1a">30</text>
<line x1="116.47" y1="205.8" x2="116.47" y2="208.8" stroke="#000" stroke-width="1.5"/>
<line x1="138.09" y1="205.8" x2="138.09" y2="210.8" stroke="#000" stroke-width="1.5"/>
<text x="138.09" y="223.7" font-size="14.2" text-anchor="middle" fill="#1a1a1a">40</text>
<line x1="159.70" y1="205.8" x2="159.70" y2="208.8" stroke="#000" stroke-width="1.5"/>
<line x1="181.32" y1="205.8" x2="181.32" y2="210.8" stroke="#000" stroke-width="1.5"/>
<text x="181.32" y="223.7" font-size="14.2" text-anchor="middle" fill="#1a1a1a">50</text>
<line x1="202.93" y1="205.8" x2="202.93" y2="208.8" stroke="#000" stroke-width="1.5"/>
<line x1="224.54" y1="205.8" x2="224.54" y2="210.8" stroke="#000" stroke-width="1.5"/>
<text x="224.54" y="223.7" font-size="14.2" text-anchor="middle" fill="#1a1a1a">60</text>
<line x1="246.16" y1="205.8" x2="246.16" y2="208.8" stroke="#000" stroke-width="1.5"/>
<line x1="267.77" y1="205.8" x2="267.77" y2="210.8" stroke="#000" stroke-width="1.5"/>
<text x="267.77" y="223.7" font-size="14.2" text-anchor="middle" fill="#1a1a1a">70</text>
<line x1="289.39" y1="205.8" x2="289.39" y2="208.8" stroke="#000" stroke-width="1.5"/>
<line x1="311.00" y1="205.8" x2="311.00" y2="210.8" stroke="#000" stroke-width="1.5"/>
<text x="311.00" y="223.7" font-size="14.2" text-anchor="middle" fill="#1a1a1a">80</text>
<line x1="416.56" y1="205.8" x2="416.56" y2="210.8" stroke="#000" stroke-width="1.5"/>
<text x="416.56" y="223.1" font-size="14.2" text-anchor="middle" fill="#1a1a1a">20</text>
<line x1="438.14" y1="205.8" x2="438.14" y2="208.8" stroke="#000" stroke-width="1.5"/>
<line x1="459.72" y1="205.8" x2="459.72" y2="210.8" stroke="#000" stroke-width="1.5"/>
<text x="459.72" y="223.1" font-size="14.2" text-anchor="middle" fill="#1a1a1a">30</text>
<line x1="481.30" y1="205.8" x2="481.30" y2="208.8" stroke="#000" stroke-width="1.5"/>
<line x1="502.88" y1="205.8" x2="502.88" y2="210.8" stroke="#000" stroke-width="1.5"/>
<text x="502.88" y="223.1" font-size="14.2" text-anchor="middle" fill="#1a1a1a">40</text>
<line x1="524.45" y1="205.8" x2="524.45" y2="208.8" stroke="#000" stroke-width="1.5"/>
<line x1="546.03" y1="205.8" x2="546.03" y2="210.8" stroke="#000" stroke-width="1.5"/>
<text x="546.03" y="223.1" font-size="14.2" text-anchor="middle" fill="#1a1a1a">50</text>
<line x1="567.61" y1="205.8" x2="567.61" y2="208.8" stroke="#000" stroke-width="1.5"/>
<line x1="589.19" y1="205.8" x2="589.19" y2="210.8" stroke="#000" stroke-width="1.5"/>
<text x="589.19" y="223.1" font-size="14.2" text-anchor="middle" fill="#1a1a1a">60</text>
<line x1="610.77" y1="205.8" x2="610.77" y2="208.8" stroke="#000" stroke-width="1.5"/>
<line x1="632.34" y1="205.8" x2="632.34" y2="210.8" stroke="#000" stroke-width="1.5"/>
<text x="632.34" y="223.1" font-size="14.2" text-anchor="middle" fill="#1a1a1a">70</text>
<line x1="653.92" y1="205.8" x2="653.92" y2="208.8" stroke="#000" stroke-width="1.5"/>
<line x1="675.50" y1="205.8" x2="675.50" y2="210.8" stroke="#000" stroke-width="1.5"/>
<text x="675.50" y="223.1" font-size="14.2" text-anchor="middle" fill="#1a1a1a">80</text>
<text x="183.2" y="244.4" font-size="16" text-anchor="middle" fill="#222">2- Theta</text>
<text x="548.2" y="243.5" font-size="16" text-anchor="middle" fill="#222">2- Theta</text>
<text transform="translate(15.8,99.8) rotate(-90)" font-size="16.6" text-anchor="middle" fill="#222">Intensity (a.u.)</text>
<text x="1.5" y="20.5" font-size="25" font-weight="bold" fill="#000">a</text>
<text x="353.5" y="21.2" font-size="25" font-weight="bold" fill="#000">b</text>
<text transform="translate(51.6,63.5) rotate(-90)" font-size="12.5" letter-spacing="0.5" text-anchor="middle" fill="#111">(001)</text>
<text transform="translate(104.9,66.0) rotate(-90)" font-size="12.5" letter-spacing="0.5" text-anchor="middle" fill="#111">(100)</text>
<text transform="translate(134.3,63.6) rotate(-90)" font-size="12.5" letter-spacing="0.5" text-anchor="middle" fill="#111">(101)</text>
<text transform="translate(190.9,98.0) rotate(-90)" font-size="12.5" letter-spacing="0.5" text-anchor="middle" fill="#111">(102)</text>
<text transform="translate(216.0,105.2) rotate(-90)" font-size="12.5" letter-spacing="0.5" text-anchor="middle" fill="#111">(110)</text>
<text transform="translate(239.6,103.8) rotate(-90)" font-size="12.5" letter-spacing="0.5" text-anchor="middle" fill="#111">(111)</text>
<line x1="168.3" y1="14.5" x2="196.8" y2="14.5" stroke="#000" stroke-width="1.1"/>
<text x="199.6" y="18.6" font-size="12.5" letter-spacing="0.3" fill="#111">Ni(OH)<tspan font-size="8" dy="4.5">2</tspan><tspan dy="-4.5" dx="-0.8"> precursor</tspan></text>
<line x1="168.3" y1="34.0" x2="196.8" y2="34.0" stroke="#5e9a9a" stroke-width="2.0"/>
<text x="199.6" y="38.5" font-size="12.5" letter-spacing="0.3" fill="#111">pure Ni(OH)<tspan font-size="8" dy="4.5">2</tspan></text>
<line x1="168.3" y1="54.6" x2="196.8" y2="54.6" stroke="#e01a22" stroke-width="2.0"/>
<text x="199.6" y="59.1" font-size="12.5" letter-spacing="0.3" fill="#111">Ni(OH)<tspan font-size="8" dy="4.5">2</tspan><tspan dy="-4.5">/GS-5</tspan></text>
<line x1="168.3" y1="75.0" x2="196.8" y2="75.0" stroke="#14878a" stroke-width="2.0"/>
<text x="199.6" y="79.5" font-size="12.5" letter-spacing="0.3" fill="#111">PDF #14-0117</text>
<line x1="545.0" y1="22.3" x2="575.0" y2="22.3" stroke="#555" stroke-width="1.6"/>
<text x="577.0" y="26.8" font-size="12.5" letter-spacing="0.3" fill="#111">Ni(OH)<tspan font-size="8" dy="4.5">2</tspan><tspan dy="-4.5">/GS-20</tspan></text>
<line x1="545.0" y1="42.5" x2="575.0" y2="42.5" stroke="#e01a22" stroke-width="1.8"/>
<text x="577.0" y="47.0" font-size="12.5" letter-spacing="0.3" fill="#111">Ni(OH)<tspan font-size="8" dy="4.5">2</tspan><tspan dy="-4.5">/GS-5</tspan></text>
<line x1="545.0" y1="62.1" x2="575.0" y2="62.1" stroke="#1010d0" stroke-width="1.8"/>
<text x="577.0" y="66.6" font-size="12.5" letter-spacing="0.3" fill="#111">Ni(OH)<tspan font-size="8" dy="4.5">2</tspan><tspan dy="-4.5">/GS-2</tspan></text>
</svg>
</body></html>
